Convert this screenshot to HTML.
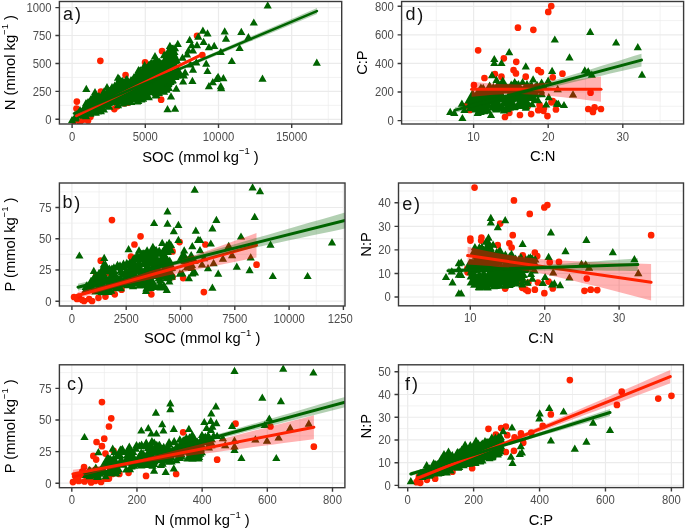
<!DOCTYPE html>
<html><head><meta charset="utf-8"><style>
html,body{margin:0;padding:0;background:#fff;width:685px;height:530px;overflow:hidden}
svg{display:block;filter:blur(0.35px)}
</style></head><body>
<svg width="685" height="530" viewBox="0 0 685 530" font-family='"Liberation Sans", sans-serif'><clipPath id="clipL"><rect x="0" y="0" width="352.8" height="530"/></clipPath>
<g fill="#4D4D4D" font-size="11.3">
<clipPath id="clipa"><rect x="59.4" y="1.5" width="282.3" height="122.5"/></clipPath>
<rect x="59.4" y="1.5" width="282.3" height="122.5" fill="#fff"/>
<path d="M108.7 1.5V124M181.9 1.5V124M255.1 1.5V124M328.3 1.5V124M59.4 105.34H341.7M59.4 77.41H341.7M59.4 49.49H341.7M59.4 21.56H341.7" stroke="#EDEDED" stroke-width="0.7" fill="none"/>
<path d="M72.1 1.5V124M145.3 1.5V124M218.5 1.5V124M291.7 1.5V124M59.4 119.3H341.7M59.4 91.38H341.7M59.4 63.45H341.7M59.4 35.52H341.7M59.4 7.6H341.7" stroke="#EBEBEB" stroke-width="1.2" fill="none"/>
<g clip-path="url(#clipa)">
<path fill="#FF2200" d="M97 60.8a3.35 3.35 0 1 0 6.7 0a3.35 3.35 0 1 0 -6.7 0zM73.5 101.6a3.35 3.35 0 1 0 6.7 0a3.35 3.35 0 1 0 -6.7 0zM97.6 91.5a3.35 3.35 0 1 0 6.7 0a3.35 3.35 0 1 0 -6.7 0zM122.2 75a3.35 3.35 0 1 0 6.7 0a3.35 3.35 0 1 0 -6.7 0zM157.8 99.7a3.35 3.35 0 1 0 6.7 0a3.35 3.35 0 1 0 -6.7 0zM158.7 51a3.35 3.35 0 1 0 6.7 0a3.35 3.35 0 1 0 -6.7 0zM141.7 62.3a3.35 3.35 0 1 0 6.7 0a3.35 3.35 0 1 0 -6.7 0zM193.7 35.8a3.35 3.35 0 1 0 6.7 0a3.35 3.35 0 1 0 -6.7 0zM199 55a3.35 3.35 0 1 0 6.7 0a3.35 3.35 0 1 0 -6.7 0zM80.1 119.6a3.35 3.35 0 1 0 6.7 0a3.35 3.35 0 1 0 -6.7 0zM87.1 116.7a3.35 3.35 0 1 0 6.7 0a3.35 3.35 0 1 0 -6.7 0zM111 109.1a3.35 3.35 0 1 0 6.7 0a3.35 3.35 0 1 0 -6.7 0zM113.9 106.2a3.35 3.35 0 1 0 6.7 0a3.35 3.35 0 1 0 -6.7 0zM120.9 103.3a3.35 3.35 0 1 0 6.7 0a3.35 3.35 0 1 0 -6.7 0zM124.4 102.7a3.35 3.35 0 1 0 6.7 0a3.35 3.35 0 1 0 -6.7 0zM73.1 108.5a3.35 3.35 0 1 0 6.7 0a3.35 3.35 0 1 0 -6.7 0zM70.7 121a3.35 3.35 0 1 0 6.7 0a3.35 3.35 0 1 0 -6.7 0zM76.7 122a3.35 3.35 0 1 0 6.7 0a3.35 3.35 0 1 0 -6.7 0zM84.7 120.5a3.35 3.35 0 1 0 6.7 0a3.35 3.35 0 1 0 -6.7 0z"/>
<path fill="#006400"  d="M77 116.9L83.7 115.7L90.6 112.7L98.8 110.7L105.5 108.8L112.6 105.7L120.4 104L127.5 103.6L129.4 100.8L138.7 99.6L144.5 96.7L153.7 94.7L161.3 91.8L168.1 88.9L172.1 86.9L173.7 80.6L176.6 73.8L177.4 66.5L175.6 61.2L173.7 51.5L172.3 48.6L168.5 53.8L158.6 65.4L155.3 60.6L153.6 63.5L146.6 65.1L141.9 69L136.9 76.9L128.5 79.3L121.1 82.2L119.6 80.8L118.7 82.6L113.9 87.5L109 87.5L99.2 98.6L96 95.3L94.5 98L89.1 102.2L83.5 108.9Z"/>
<path fill="#006400" d="M202.9 26.6l4.1 7.2h-8.2zM207.5 29.2l4.1 7.2h-8.2zM224.7 27.2l4.1 7.2h-8.2zM226 34.5l4.1 7.2h-8.2zM189.7 35.8l4.1 7.2h-8.2zM177.8 39.8l4.1 7.2h-8.2zM169.9 41.8l4.1 7.2h-8.2zM198.3 32.5l4.1 7.2h-8.2zM191.7 41.1l4.1 7.2h-8.2zM197 41.1l4.1 7.2h-8.2zM203.6 37.8l4.1 7.2h-8.2zM208.9 43.1l4.1 7.2h-8.2zM214.2 41.8l4.1 7.2h-8.2zM220.8 47.7l4.1 7.2h-8.2zM173.2 44.4l4.1 7.2h-8.2zM167.9 47.7l4.1 7.2h-8.2zM174.5 47.7l4.1 7.2h-8.2zM188.4 46.4l4.1 7.2h-8.2zM193 46.4l4.1 7.2h-8.2zM187.1 50.3l4.1 7.2h-8.2zM182.5 53.6l4.1 7.2h-8.2zM164 51l4.1 7.2h-8.2zM165.3 55.6l4.1 7.2h-8.2zM170.6 56.3l4.1 7.2h-8.2zM175.8 53.6l4.1 7.2h-8.2zM206.2 59.6l4.1 7.2h-8.2zM207.5 66.9l4.1 7.2h-8.2zM193 65.5l4.1 7.2h-8.2zM192.4 76.8l4.1 7.2h-8.2zM183.1 77.4l4.1 7.2h-8.2zM177.2 71.5l4.1 7.2h-8.2zM170.6 66.2l4.1 7.2h-8.2zM165.3 62.2l4.1 7.2h-8.2zM162 59.6l4.1 7.2h-8.2zM175.8 61.6l4.1 7.2h-8.2zM179.8 68.8l4.1 7.2h-8.2zM185.1 68.2l4.1 7.2h-8.2zM190.4 60.2l4.1 7.2h-8.2zM196.3 58.3l4.1 7.2h-8.2zM212.8 78.1l4.1 7.2h-8.2zM218.1 72.8l4.1 7.2h-8.2zM223.4 74.1l4.1 7.2h-8.2zM208.9 82l4.1 7.2h-8.2zM220.8 82l4.1 7.2h-8.2zM176.3 84.6l4.1 7.2h-8.2zM171 92.2l4.1 7.2h-8.2zM167.5 105l4.1 7.2h-8.2zM175.1 104.5l4.1 7.2h-8.2zM221.2 84l4.1 7.2h-8.2zM216.6 74.7l4.1 7.2h-8.2zM183.9 71.2l4.1 7.2h-8.2zM179.2 70l4.1 7.2h-8.2zM267.7 1.2l4.1 7.2h-8.2zM253.8 18.4l4.1 7.2h-8.2zM316.8 58.5l4.1 7.2h-8.2zM262.5 74.6l4.1 7.2h-8.2zM241.3 27.8l4.1 7.2h-8.2zM248.4 33l4.1 7.2h-8.2zM239.6 43.9l4.1 7.2h-8.2zM231.8 56.9l4.1 7.2h-8.2zM86.3 84.7l4.1 7.2h-8.2zM123.9 83.7l4.1 7.2h-8.2zM160.1 65.2l4.1 7.2h-8.2zM103.9 94.5l4.1 7.2h-8.2zM140 66.5l4.1 7.2h-8.2zM150.8 63.3l4.1 7.2h-8.2zM149 60.4l4.1 7.2h-8.2zM145.9 91l4.1 7.2h-8.2zM139.3 72l4.1 7.2h-8.2zM177 69l4.1 7.2h-8.2zM172 52.4l4.1 7.2h-8.2zM165 76.6l4.1 7.2h-8.2zM151.9 58.7l4.1 7.2h-8.2zM90.8 106.1l4.1 7.2h-8.2zM150.4 81.7l4.1 7.2h-8.2zM140.7 87.7l4.1 7.2h-8.2zM83.1 105.3l4.1 7.2h-8.2zM141.8 88.4l4.1 7.2h-8.2zM102.7 94.6l4.1 7.2h-8.2zM173.5 54.1l4.1 7.2h-8.2zM175.5 72.7l4.1 7.2h-8.2zM156.8 78.6l4.1 7.2h-8.2zM98 100.3l4.1 7.2h-8.2zM108.6 88.1l4.1 7.2h-8.2zM90.6 104.4l4.1 7.2h-8.2zM131.4 80.6l4.1 7.2h-8.2zM108 86.8l4.1 7.2h-8.2zM161.2 85.8l4.1 7.2h-8.2zM117.8 87.9l4.1 7.2h-8.2zM172.1 44.5l4.1 7.2h-8.2zM137.8 70.7l4.1 7.2h-8.2zM75.7 113.3l4.1 7.2h-8.2zM173 71.5l4.1 7.2h-8.2zM109.3 102.5l4.1 7.2h-8.2zM170.3 58.4l4.1 7.2h-8.2zM146.9 87l4.1 7.2h-8.2zM160.5 81.4l4.1 7.2h-8.2zM95.8 105l4.1 7.2h-8.2zM90.1 105.8l4.1 7.2h-8.2zM170.2 51.3l4.1 7.2h-8.2zM122.8 89l4.1 7.2h-8.2zM127.9 81.8l4.1 7.2h-8.2zM148.3 70.2l4.1 7.2h-8.2zM176.4 55.4l4.1 7.2h-8.2zM163.3 69.9l4.1 7.2h-8.2zM119 79l4.1 7.2h-8.2zM115.5 97.3l4.1 7.2h-8.2zM92.1 102.9l4.1 7.2h-8.2zM156.4 59.7l4.1 7.2h-8.2zM105.4 92.9l4.1 7.2h-8.2zM140.6 66.6l4.1 7.2h-8.2zM174.3 59.4l4.1 7.2h-8.2zM127.5 88.6l4.1 7.2h-8.2zM146.6 78.1l4.1 7.2h-8.2zM169.7 51.8l4.1 7.2h-8.2zM151.3 70.4l4.1 7.2h-8.2zM172.5 58.3l4.1 7.2h-8.2zM137.3 85.1l4.1 7.2h-8.2zM168.4 53.9l4.1 7.2h-8.2zM126.4 85.5l4.1 7.2h-8.2zM122.8 77.1l4.1 7.2h-8.2zM176.7 64.1l4.1 7.2h-8.2zM100.9 107.1l4.1 7.2h-8.2zM162.9 61.2l4.1 7.2h-8.2zM162.9 69.3l4.1 7.2h-8.2zM169.8 53.9l4.1 7.2h-8.2zM139.7 76.6l4.1 7.2h-8.2zM121.1 79.1l4.1 7.2h-8.2zM151.8 72.5l4.1 7.2h-8.2zM162.2 76.9l4.1 7.2h-8.2zM160.2 71.4l4.1 7.2h-8.2zM157.8 72.5l4.1 7.2h-8.2zM103.4 98.3l4.1 7.2h-8.2zM82 111.2l4.1 7.2h-8.2zM164 56.8l4.1 7.2h-8.2zM115.7 96.4l4.1 7.2h-8.2zM120.7 94.3l4.1 7.2h-8.2zM174.9 56.7l4.1 7.2h-8.2zM162.1 65l4.1 7.2h-8.2zM148.1 85.8l4.1 7.2h-8.2zM125.5 80.4l4.1 7.2h-8.2zM141.3 95.3l4.1 7.2h-8.2zM113.7 91l4.1 7.2h-8.2zM159.1 86.9l4.1 7.2h-8.2zM167.1 59l4.1 7.2h-8.2zM116.7 86.8l4.1 7.2h-8.2zM132.7 82.1l4.1 7.2h-8.2zM153.4 71.4l4.1 7.2h-8.2zM123.1 90.2l4.1 7.2h-8.2zM127 98.4l4.1 7.2h-8.2zM163.4 58.4l4.1 7.2h-8.2zM163 84.2l4.1 7.2h-8.2zM161.4 82l4.1 7.2h-8.2zM103.4 89.4l4.1 7.2h-8.2zM143.1 94.5l4.1 7.2h-8.2zM88.7 107.2l4.1 7.2h-8.2zM169.6 52.5l4.1 7.2h-8.2zM77.6 111.6l4.1 7.2h-8.2zM131.1 97.8l4.1 7.2h-8.2zM138 94.3l4.1 7.2h-8.2zM96.8 95.2l4.1 7.2h-8.2zM169.4 52.2l4.1 7.2h-8.2zM155.7 89.1l4.1 7.2h-8.2zM168.8 51.4l4.1 7.2h-8.2zM122.5 84.1l4.1 7.2h-8.2zM120.2 86l4.1 7.2h-8.2zM101.8 97.7l4.1 7.2h-8.2zM98.5 99.4l4.1 7.2h-8.2zM115.9 88l4.1 7.2h-8.2zM88 97.9l4.1 7.2h-8.2zM123.8 90.9l4.1 7.2h-8.2zM131 76.1l4.1 7.2h-8.2zM173.8 47.2l4.1 7.2h-8.2zM112.5 90.1l4.1 7.2h-8.2zM153.4 60.4l4.1 7.2h-8.2zM103.9 87.4l4.1 7.2h-8.2zM110 86.8l4.1 7.2h-8.2zM138.2 96.7l4.1 7.2h-8.2zM93.6 92.5l4.1 7.2h-8.2zM172.6 70.2l4.1 7.2h-8.2zM160.2 66.2l4.1 7.2h-8.2zM150.7 62.1l4.1 7.2h-8.2zM136 81.2l4.1 7.2h-8.2zM128.6 83.3l4.1 7.2h-8.2zM139.4 82.6l4.1 7.2h-8.2zM112.6 90.1l4.1 7.2h-8.2zM134.1 89.1l4.1 7.2h-8.2zM158.5 72.1l4.1 7.2h-8.2zM93 99.6l4.1 7.2h-8.2zM166.2 84.6l4.1 7.2h-8.2zM96.6 107l4.1 7.2h-8.2zM102.6 91.8l4.1 7.2h-8.2zM158.5 65.5l4.1 7.2h-8.2zM131.3 82.9l4.1 7.2h-8.2zM79.6 108.3l4.1 7.2h-8.2zM172 76.6l4.1 7.2h-8.2zM144.7 82.9l4.1 7.2h-8.2zM127 96.2l4.1 7.2h-8.2zM145.1 62.7l4.1 7.2h-8.2zM165.7 57.2l4.1 7.2h-8.2zM153.2 62.1l4.1 7.2h-8.2zM114.2 94.2l4.1 7.2h-8.2zM126.1 82.4l4.1 7.2h-8.2zM93.4 98l4.1 7.2h-8.2zM171.6 51.4l4.1 7.2h-8.2zM157.5 67.5l4.1 7.2h-8.2zM164.6 65.4l4.1 7.2h-8.2zM102.8 97.6l4.1 7.2h-8.2zM119.2 84.2l4.1 7.2h-8.2zM165 73.3l4.1 7.2h-8.2zM163.3 73l4.1 7.2h-8.2zM95.1 92.4l4.1 7.2h-8.2zM101 94.4l4.1 7.2h-8.2zM158.9 88.8l4.1 7.2h-8.2zM155.7 71.4l4.1 7.2h-8.2zM140.2 87l4.1 7.2h-8.2zM148.8 93l4.1 7.2h-8.2zM145.5 67.4l4.1 7.2h-8.2zM146.2 66.3l4.1 7.2h-8.2zM96.7 103.6l4.1 7.2h-8.2zM158.9 64.3l4.1 7.2h-8.2zM168.7 50.2l4.1 7.2h-8.2zM119.5 75l4.1 7.2h-8.2zM86.8 108.1l4.1 7.2h-8.2zM137.2 69.7l4.1 7.2h-8.2zM137.1 97.4l4.1 7.2h-8.2zM148.9 84.7l4.1 7.2h-8.2zM160.9 81.3l4.1 7.2h-8.2zM135.1 82.9l4.1 7.2h-8.2zM152 74.1l4.1 7.2h-8.2zM166.2 67.5l4.1 7.2h-8.2zM174 51.3l4.1 7.2h-8.2zM97.9 107.2l4.1 7.2h-8.2zM161.5 67.1l4.1 7.2h-8.2zM144.9 82l4.1 7.2h-8.2zM150 81.7l4.1 7.2h-8.2zM142.3 90.2l4.1 7.2h-8.2zM133.2 91.3l4.1 7.2h-8.2zM172.2 65.8l4.1 7.2h-8.2zM170.6 77.8l4.1 7.2h-8.2zM155.5 61.6l4.1 7.2h-8.2zM168.5 47.4l4.1 7.2h-8.2zM95.7 93.3l4.1 7.2h-8.2zM149.5 78.6l4.1 7.2h-8.2zM138.7 70.3l4.1 7.2h-8.2zM150.7 84.1l4.1 7.2h-8.2zM86.5 101.1l4.1 7.2h-8.2zM161.7 83l4.1 7.2h-8.2zM125.6 93l4.1 7.2h-8.2zM87.2 107.2l4.1 7.2h-8.2zM123 99.2l4.1 7.2h-8.2zM145.4 84.8l4.1 7.2h-8.2zM161.8 75.6l4.1 7.2h-8.2zM129.2 84.2l4.1 7.2h-8.2zM118.4 80.4l4.1 7.2h-8.2zM163.5 74.7l4.1 7.2h-8.2zM121.8 96.1l4.1 7.2h-8.2zM144.9 70.6l4.1 7.2h-8.2zM100.9 100.3l4.1 7.2h-8.2zM99.9 95.7l4.1 7.2h-8.2zM144.5 83.5l4.1 7.2h-8.2zM114.9 90l4.1 7.2h-8.2zM117.5 92.9l4.1 7.2h-8.2zM139.5 90l4.1 7.2h-8.2zM156.2 68l4.1 7.2h-8.2zM117.2 95.3l4.1 7.2h-8.2zM172.6 51.9l4.1 7.2h-8.2zM156.9 73.1l4.1 7.2h-8.2zM161 78.6l4.1 7.2h-8.2zM95.9 91.9l4.1 7.2h-8.2zM126.8 97l4.1 7.2h-8.2zM171.7 61l4.1 7.2h-8.2zM135.7 94l4.1 7.2h-8.2zM167.7 51.1l4.1 7.2h-8.2zM169.1 68.5l4.1 7.2h-8.2zM164.1 71.3l4.1 7.2h-8.2zM153.7 72.2l4.1 7.2h-8.2zM160.8 60.4l4.1 7.2h-8.2zM155.1 56.7l4.1 7.2h-8.2zM176.9 56.2l4.1 7.2h-8.2zM75.3 112.4l4.1 7.2h-8.2zM106.7 99.9l4.1 7.2h-8.2zM159.8 70.8l4.1 7.2h-8.2zM135.2 85.9l4.1 7.2h-8.2zM116.1 94.2l4.1 7.2h-8.2zM126 75.8l4.1 7.2h-8.2zM162.3 62.5l4.1 7.2h-8.2zM144.7 64.3l4.1 7.2h-8.2zM139.3 69.8l4.1 7.2h-8.2zM118 101.1l4.1 7.2h-8.2zM130.7 83.3l4.1 7.2h-8.2zM90 108l4.1 7.2h-8.2zM149.1 60.8l4.1 7.2h-8.2zM93.8 98.9l4.1 7.2h-8.2zM125.5 87.9l4.1 7.2h-8.2zM173.9 55l4.1 7.2h-8.2zM90.4 102.3l4.1 7.2h-8.2zM165.2 71.4l4.1 7.2h-8.2zM164.6 66.9l4.1 7.2h-8.2zM143.8 91.3l4.1 7.2h-8.2zM133 76l4.1 7.2h-8.2zM159.4 57.7l4.1 7.2h-8.2zM115.3 83.2l4.1 7.2h-8.2zM137.4 85.5l4.1 7.2h-8.2zM150 68.7l4.1 7.2h-8.2zM159.3 84.3l4.1 7.2h-8.2zM167.2 73.6l4.1 7.2h-8.2zM116.6 80.8l4.1 7.2h-8.2zM158.5 80.4l4.1 7.2h-8.2zM118 89.3l4.1 7.2h-8.2zM95.8 108.5l4.1 7.2h-8.2zM134.2 92.7l4.1 7.2h-8.2zM98.6 105.5l4.1 7.2h-8.2zM82 107.9l4.1 7.2h-8.2zM153.4 83.6l4.1 7.2h-8.2zM120.2 76.5l4.1 7.2h-8.2zM151.4 61.8l4.1 7.2h-8.2zM171.7 48.6l4.1 7.2h-8.2zM106.1 100l4.1 7.2h-8.2zM96.3 91l4.1 7.2h-8.2zM154.1 74.1l4.1 7.2h-8.2zM114.8 95l4.1 7.2h-8.2zM156.3 90.8l4.1 7.2h-8.2zM149.9 76.1l4.1 7.2h-8.2zM113.4 91.4l4.1 7.2h-8.2zM85 106.9l4.1 7.2h-8.2zM150.5 82.5l4.1 7.2h-8.2zM163 83.6l4.1 7.2h-8.2zM173 65.6l4.1 7.2h-8.2zM140.7 95.1l4.1 7.2h-8.2zM168.3 76.6l4.1 7.2h-8.2zM141 79.9l4.1 7.2h-8.2zM172.8 76l4.1 7.2h-8.2zM174.7 51.8l4.1 7.2h-8.2zM151.5 74.3l4.1 7.2h-8.2zM117.1 84.6l4.1 7.2h-8.2zM174.2 50.3l4.1 7.2h-8.2zM131.1 94.7l4.1 7.2h-8.2zM163.1 68.9l4.1 7.2h-8.2zM164.1 87.5l4.1 7.2h-8.2zM119 88.3l4.1 7.2h-8.2zM159.3 77l4.1 7.2h-8.2zM103.5 100.7l4.1 7.2h-8.2zM156.5 74.3l4.1 7.2h-8.2zM166.8 55.5l4.1 7.2h-8.2zM168.9 83.9l4.1 7.2h-8.2zM101.9 96.6l4.1 7.2h-8.2zM175.4 70l4.1 7.2h-8.2zM141.7 74.3l4.1 7.2h-8.2zM103.9 105.4l4.1 7.2h-8.2zM159.3 70.7l4.1 7.2h-8.2zM166.3 85.6l4.1 7.2h-8.2zM176.5 56.4l4.1 7.2h-8.2zM98.7 105.5l4.1 7.2h-8.2zM142.9 85.7l4.1 7.2h-8.2zM146.9 91.1l4.1 7.2h-8.2zM96.2 104.8l4.1 7.2h-8.2zM172 50.6l4.1 7.2h-8.2zM114.5 86.9l4.1 7.2h-8.2zM156.1 80l4.1 7.2h-8.2zM136.3 72l4.1 7.2h-8.2zM148.9 63.1l4.1 7.2h-8.2zM86 112l4.1 7.2h-8.2zM114.7 81.5l4.1 7.2h-8.2zM140.3 66.5l4.1 7.2h-8.2zM88.4 104.4l4.1 7.2h-8.2zM119.6 96.4l4.1 7.2h-8.2zM133.8 83.1l4.1 7.2h-8.2zM170.6 61.2l4.1 7.2h-8.2zM156.8 56.8l4.1 7.2h-8.2zM156.3 63.6l4.1 7.2h-8.2zM122.8 82.5l4.1 7.2h-8.2zM160.8 59.2l4.1 7.2h-8.2zM155.6 91.2l4.1 7.2h-8.2zM97.4 98.8l4.1 7.2h-8.2zM137.3 73.9l4.1 7.2h-8.2zM132.3 94.3l4.1 7.2h-8.2zM90.4 109.5l4.1 7.2h-8.2zM153.2 72.4l4.1 7.2h-8.2zM137.8 75.5l4.1 7.2h-8.2zM168.8 58.1l4.1 7.2h-8.2zM154.4 57.7l4.1 7.2h-8.2zM95.2 90.4l4.1 7.2h-8.2zM75.1 114.2l4.1 7.2h-8.2zM138.5 83.8l4.1 7.2h-8.2zM128.3 82.5l4.1 7.2h-8.2zM124.6 95.9l4.1 7.2h-8.2zM155.5 82.7l4.1 7.2h-8.2zM148 69.5l4.1 7.2h-8.2zM90.3 96l4.1 7.2h-8.2zM140 79.4l4.1 7.2h-8.2zM72 116l4.1 7.2h-8.2zM80 106l4.1 7.2h-8.2zM86 99l4.1 7.2h-8.2zM95 88l4.1 7.2h-8.2zM107 83l4.1 7.2h-8.2zM112 83l4.1 7.2h-8.2zM118 73.5l4.1 7.2h-8.2zM127 75l4.1 7.2h-8.2zM134 73l4.1 7.2h-8.2zM138.5 66l4.1 7.2h-8.2zM144.6 61l4.1 7.2h-8.2zM150.7 59.6l4.1 7.2h-8.2zM155 52l4.1 7.2h-8.2zM165 51l4.1 7.2h-8.2zM170 44l4.1 7.2h-8.2zM175 44l4.1 7.2h-8.2zM91 95l4.1 7.2h-8.2zM99 92l4.1 7.2h-8.2zM122 77l4.1 7.2h-8.2zM159 58l4.1 7.2h-8.2z"/>
<path stroke="#FF2200" stroke-width="3.2" stroke-linecap="round" d="M76.4 115.6L200.2 55.4"/>
<path fill="#006400" fill-opacity="0.3" d="M74 111.1L120 92.1L170 71.4L220 49.9L270 28.3L317 8.1L317 14L270 33.4L220 54L170 74.7L120 96.1L74 115.9Z"/>
<path stroke="#006400" stroke-width="2.5" stroke-linecap="round" d="M74 113.5L316.9 11.1"/>
</g>
<rect x="59.4" y="1.5" width="282.3" height="122.5" fill="none" stroke="#3a3a3a" stroke-width="1.4"/>
<path d="M72.1 124V128M145.3 124V128M218.5 124V128M291.7 124V128M55.4 119.3H59.4M55.4 91.38H59.4M55.4 63.45H59.4M55.4 35.52H59.4M55.4 7.6H59.4" stroke="#3a3a3a" stroke-width="1.4" fill="none"/>
<g><text transform="translate(72.1 140.6) scale(1 1.1)" text-anchor="middle">0</text></g>
<g><text transform="translate(145.3 140.6) scale(1 1.1)" text-anchor="middle">5000</text></g>
<g><text transform="translate(218.5 140.6) scale(1 1.1)" text-anchor="middle">10000</text></g>
<g><text transform="translate(291.7 140.6) scale(1 1.1)" text-anchor="middle">15000</text></g>
<text transform="translate(51.6 123.7) scale(1 1.1)" text-anchor="end">0</text>
<text transform="translate(51.6 95.78) scale(1 1.1)" text-anchor="end">250</text>
<text transform="translate(51.6 67.85) scale(1 1.1)" text-anchor="end">500</text>
<text transform="translate(51.6 39.92) scale(1 1.1)" text-anchor="end">750</text>
<text transform="translate(51.6 12) scale(1 1.1)" text-anchor="end">1000</text>
<clipPath id="clipd"><rect x="401.6" y="1.5" width="282" height="122.5"/></clipPath>
<rect x="401.6" y="1.5" width="282" height="122.5" fill="#fff"/>
<path d="M436.3 1.5V124M510.9 1.5V124M585.5 1.5V124M660.1 1.5V124M401.6 106.31H683.6M401.6 77.74H683.6M401.6 49.16H683.6M401.6 20.59H683.6" stroke="#EDEDED" stroke-width="0.7" fill="none"/>
<path d="M473.6 1.5V124M548.2 1.5V124M622.8 1.5V124M401.6 120.6H683.6M401.6 92.02H683.6M401.6 63.45H683.6M401.6 34.88H683.6M401.6 6.3H683.6" stroke="#EBEBEB" stroke-width="1.2" fill="none"/>
<g clip-path="url(#clipd)">
<path fill="#FF2200" d="M547.9 6.1a3.35 3.35 0 1 0 6.7 0a3.35 3.35 0 1 0 -6.7 0zM544.9 11.9a3.35 3.35 0 1 0 6.7 0a3.35 3.35 0 1 0 -6.7 0zM514.6 27.7a3.35 3.35 0 1 0 6.7 0a3.35 3.35 0 1 0 -6.7 0zM530 29.8a3.35 3.35 0 1 0 6.7 0a3.35 3.35 0 1 0 -6.7 0zM474.8 50.3a3.35 3.35 0 1 0 6.7 0a3.35 3.35 0 1 0 -6.7 0zM500.5 58.3a3.35 3.35 0 1 0 6.7 0a3.35 3.35 0 1 0 -6.7 0zM512.9 61.8a3.35 3.35 0 1 0 6.7 0a3.35 3.35 0 1 0 -6.7 0zM510.2 70a3.35 3.35 0 1 0 6.7 0a3.35 3.35 0 1 0 -6.7 0zM534.8 70a3.35 3.35 0 1 0 6.7 0a3.35 3.35 0 1 0 -6.7 0zM512.6 73.4a3.35 3.35 0 1 0 6.7 0a3.35 3.35 0 1 0 -6.7 0zM537.6 72.1a3.35 3.35 0 1 0 6.7 0a3.35 3.35 0 1 0 -6.7 0zM481.1 78a3.35 3.35 0 1 0 6.7 0a3.35 3.35 0 1 0 -6.7 0zM498.1 76.7a3.35 3.35 0 1 0 6.7 0a3.35 3.35 0 1 0 -6.7 0zM522.4 76.7a3.35 3.35 0 1 0 6.7 0a3.35 3.35 0 1 0 -6.7 0zM549.4 77.3a3.35 3.35 0 1 0 6.7 0a3.35 3.35 0 1 0 -6.7 0zM470.6 85.2a3.35 3.35 0 1 0 6.7 0a3.35 3.35 0 1 0 -6.7 0zM506 112.8a3.35 3.35 0 1 0 6.7 0a3.35 3.35 0 1 0 -6.7 0zM527.8 114.1a3.35 3.35 0 1 0 6.7 0a3.35 3.35 0 1 0 -6.7 0zM544.1 116.1a3.35 3.35 0 1 0 6.7 0a3.35 3.35 0 1 0 -6.7 0zM552.6 109.5a3.35 3.35 0 1 0 6.7 0a3.35 3.35 0 1 0 -6.7 0zM534.9 110.2a3.35 3.35 0 1 0 6.7 0a3.35 3.35 0 1 0 -6.7 0zM536.2 104.9a3.35 3.35 0 1 0 6.7 0a3.35 3.35 0 1 0 -6.7 0zM548.1 102.3a3.35 3.35 0 1 0 6.7 0a3.35 3.35 0 1 0 -6.7 0zM531 94.4a3.35 3.35 0 1 0 6.7 0a3.35 3.35 0 1 0 -6.7 0zM524.4 106.2a3.35 3.35 0 1 0 6.7 0a3.35 3.35 0 1 0 -6.7 0zM468.2 103.6a3.35 3.35 0 1 0 6.7 0a3.35 3.35 0 1 0 -6.7 0zM491.6 74a3.35 3.35 0 1 0 6.7 0a3.35 3.35 0 1 0 -6.7 0zM559.1 73.7a3.35 3.35 0 1 0 6.7 0a3.35 3.35 0 1 0 -6.7 0zM587.2 92.7a3.35 3.35 0 1 0 6.7 0a3.35 3.35 0 1 0 -6.7 0zM591.2 107.4a3.35 3.35 0 1 0 6.7 0a3.35 3.35 0 1 0 -6.7 0zM584.9 109a3.35 3.35 0 1 0 6.7 0a3.35 3.35 0 1 0 -6.7 0zM597.6 109a3.35 3.35 0 1 0 6.7 0a3.35 3.35 0 1 0 -6.7 0zM549.4 101a3.35 3.35 0 1 0 6.7 0a3.35 3.35 0 1 0 -6.7 0zM540.6 108.3a3.35 3.35 0 1 0 6.7 0a3.35 3.35 0 1 0 -6.7 0zM589.6 112a3.35 3.35 0 1 0 6.7 0a3.35 3.35 0 1 0 -6.7 0zM540.1 110.8a3.35 3.35 0 1 0 6.7 0a3.35 3.35 0 1 0 -6.7 0zM462.6 106a3.35 3.35 0 1 0 6.7 0a3.35 3.35 0 1 0 -6.7 0zM466.6 110a3.35 3.35 0 1 0 6.7 0a3.35 3.35 0 1 0 -6.7 0zM516.6 115a3.35 3.35 0 1 0 6.7 0a3.35 3.35 0 1 0 -6.7 0zM501.6 117a3.35 3.35 0 1 0 6.7 0a3.35 3.35 0 1 0 -6.7 0z"/>
<path fill="#006400" d="M450.2 107.8l4.1 7.2h-8.2zM454.3 108.8l4.1 7.2h-8.2zM461.9 99.6l4.1 7.2h-8.2zM462.4 113.9l4.1 7.2h-8.2zM464.4 105.7l4.1 7.2h-8.2zM477.7 108.8l4.1 7.2h-8.2zM491 110.8l4.1 7.2h-8.2zM492 71.1l4.1 7.2h-8.2zM496.5 75.7l4.1 7.2h-8.2zM471.6 91l4.1 7.2h-8.2zM494.3 54.9l4.1 7.2h-8.2zM494.3 58.9l4.1 7.2h-8.2zM501.5 58.9l4.1 7.2h-8.2zM525.8 62.2l4.1 7.2h-8.2zM552.1 66.8l4.1 7.2h-8.2zM502.8 76.6l4.1 7.2h-8.2zM514.7 77.9l4.1 7.2h-8.2zM522.6 77.9l4.1 7.2h-8.2zM533.1 75.3l4.1 7.2h-8.2zM541.6 78.6l4.1 7.2h-8.2zM548.2 76.6l4.1 7.2h-8.2zM472.6 89.1l4.1 7.2h-8.2zM548.8 93l4.1 7.2h-8.2zM556.7 99.6l4.1 7.2h-8.2zM546.2 100.3l4.1 7.2h-8.2zM535 95.7l4.1 7.2h-8.2zM523.9 94.4l4.1 7.2h-8.2zM525.8 103.6l4.1 7.2h-8.2zM554.8 35.4l4.1 7.2h-8.2zM509.2 48l4.1 7.2h-8.2zM590.2 27.8l4.1 7.2h-8.2zM616.1 38.4l4.1 7.2h-8.2zM637.8 43.1l4.1 7.2h-8.2zM569.5 53.3l4.1 7.2h-8.2zM642 70.5l4.1 7.2h-8.2zM584.8 66.2l4.1 7.2h-8.2zM591.8 70.5l4.1 7.2h-8.2zM588.2 67.3l4.1 7.2h-8.2zM557.7 85.1l4.1 7.2h-8.2zM573 90.3l4.1 7.2h-8.2zM558.4 99.7l4.1 7.2h-8.2zM564 100.9l4.1 7.2h-8.2zM470 100l4.1 7.2h-8.2zM476 97l4.1 7.2h-8.2zM484 96l4.1 7.2h-8.2zM492 95l4.1 7.2h-8.2zM500 95l4.1 7.2h-8.2zM508 94l4.1 7.2h-8.2zM516 94l4.1 7.2h-8.2zM470 104l4.1 7.2h-8.2zM480 102l4.1 7.2h-8.2zM488 100l4.1 7.2h-8.2zM496 99l4.1 7.2h-8.2zM504 98l4.1 7.2h-8.2zM512 98l4.1 7.2h-8.2zM520 99l4.1 7.2h-8.2zM484 107l4.1 7.2h-8.2zM496 105l4.1 7.2h-8.2zM506 104l4.1 7.2h-8.2zM514 103l4.1 7.2h-8.2zM526 102l4.1 7.2h-8.2zM532 100l4.1 7.2h-8.2zM538 96l4.1 7.2h-8.2zM482.9 93.1l4.1 7.2h-8.2zM475.9 104l4.1 7.2h-8.2zM481.9 94.8l4.1 7.2h-8.2zM541.7 89.6l4.1 7.2h-8.2zM509.1 97.4l4.1 7.2h-8.2zM512.4 88.3l4.1 7.2h-8.2zM503.1 103.7l4.1 7.2h-8.2zM477.3 97l4.1 7.2h-8.2zM493.6 102.8l4.1 7.2h-8.2zM478.6 101.9l4.1 7.2h-8.2zM499.7 104.5l4.1 7.2h-8.2zM512.9 82l4.1 7.2h-8.2zM497.7 82.9l4.1 7.2h-8.2zM477.4 88.2l4.1 7.2h-8.2zM500.7 80l4.1 7.2h-8.2zM527.6 98.2l4.1 7.2h-8.2zM508.4 93.8l4.1 7.2h-8.2zM469.5 95.9l4.1 7.2h-8.2zM511.9 95.1l4.1 7.2h-8.2zM535.8 83.7l4.1 7.2h-8.2zM524.7 96l4.1 7.2h-8.2zM508.1 96.3l4.1 7.2h-8.2zM538.2 86.1l4.1 7.2h-8.2zM503.4 81l4.1 7.2h-8.2zM517 90.4l4.1 7.2h-8.2zM520.3 100.7l4.1 7.2h-8.2zM509.9 93.1l4.1 7.2h-8.2zM522.5 98.8l4.1 7.2h-8.2zM524.6 92.3l4.1 7.2h-8.2zM486 102.6l4.1 7.2h-8.2zM496.6 105.2l4.1 7.2h-8.2zM495.2 86.9l4.1 7.2h-8.2zM511.1 98.3l4.1 7.2h-8.2zM521 94.8l4.1 7.2h-8.2zM497.2 101.3l4.1 7.2h-8.2zM489.9 96.7l4.1 7.2h-8.2zM536.6 83.4l4.1 7.2h-8.2zM527.8 87.2l4.1 7.2h-8.2zM508 102.7l4.1 7.2h-8.2zM474.2 104.1l4.1 7.2h-8.2zM485.6 101.1l4.1 7.2h-8.2zM499.4 100.9l4.1 7.2h-8.2zM510.8 97.9l4.1 7.2h-8.2zM514.9 102.2l4.1 7.2h-8.2zM475.7 105.3l4.1 7.2h-8.2zM512 97.7l4.1 7.2h-8.2zM475.3 93.8l4.1 7.2h-8.2zM497.2 83l4.1 7.2h-8.2zM505.6 95.3l4.1 7.2h-8.2zM513.9 93.5l4.1 7.2h-8.2zM492.6 103.1l4.1 7.2h-8.2zM531.2 82.6l4.1 7.2h-8.2zM502.6 103.5l4.1 7.2h-8.2zM507.2 102.7l4.1 7.2h-8.2zM478 92.2l4.1 7.2h-8.2zM527.4 99.2l4.1 7.2h-8.2zM510 89.1l4.1 7.2h-8.2zM497.4 99.1l4.1 7.2h-8.2zM499.6 87.3l4.1 7.2h-8.2zM478.4 107.3l4.1 7.2h-8.2zM511.7 102l4.1 7.2h-8.2zM504 106.3l4.1 7.2h-8.2zM505.9 81.8l4.1 7.2h-8.2zM505 98.8l4.1 7.2h-8.2zM526.3 86.2l4.1 7.2h-8.2zM514.6 93.1l4.1 7.2h-8.2zM527.2 80.2l4.1 7.2h-8.2zM477.1 100.4l4.1 7.2h-8.2zM524.3 83.8l4.1 7.2h-8.2zM517.6 91.7l4.1 7.2h-8.2zM480.6 107.8l4.1 7.2h-8.2zM479 90.8l4.1 7.2h-8.2zM496.1 98.6l4.1 7.2h-8.2zM492.4 100.9l4.1 7.2h-8.2zM474.4 99.6l4.1 7.2h-8.2zM485.6 90l4.1 7.2h-8.2zM481.9 98.6l4.1 7.2h-8.2zM481.7 102.1l4.1 7.2h-8.2zM502.5 94.8l4.1 7.2h-8.2zM485 100.7l4.1 7.2h-8.2zM535.2 82.5l4.1 7.2h-8.2zM486.2 100.5l4.1 7.2h-8.2zM535.1 89.3l4.1 7.2h-8.2zM523.6 89.5l4.1 7.2h-8.2zM497.1 97.9l4.1 7.2h-8.2zM480.9 83.5l4.1 7.2h-8.2zM511.1 85.3l4.1 7.2h-8.2zM510.2 99l4.1 7.2h-8.2zM488.4 106.6l4.1 7.2h-8.2zM504.3 86.3l4.1 7.2h-8.2zM501 85.4l4.1 7.2h-8.2zM481 107l4.1 7.2h-8.2zM526.3 87.5l4.1 7.2h-8.2zM474.1 99.6l4.1 7.2h-8.2zM493.9 94.4l4.1 7.2h-8.2zM510.8 84.3l4.1 7.2h-8.2zM490.1 87.4l4.1 7.2h-8.2zM515.9 88.6l4.1 7.2h-8.2zM526.1 93.7l4.1 7.2h-8.2zM507.4 105.1l4.1 7.2h-8.2zM507 105l4.1 7.2h-8.2zM478.9 86.8l4.1 7.2h-8.2zM483.2 83.8l4.1 7.2h-8.2zM532.2 93.8l4.1 7.2h-8.2zM509.1 83.9l4.1 7.2h-8.2zM497 91.1l4.1 7.2h-8.2zM475.9 94.8l4.1 7.2h-8.2zM528.5 87.1l4.1 7.2h-8.2zM493.4 82.8l4.1 7.2h-8.2zM482 88l4.1 7.2h-8.2zM513.8 81.6l4.1 7.2h-8.2zM509.8 103.5l4.1 7.2h-8.2zM544 82.6l4.1 7.2h-8.2zM525.5 83.8l4.1 7.2h-8.2zM502.5 91.5l4.1 7.2h-8.2zM511.8 81.9l4.1 7.2h-8.2zM526 92.7l4.1 7.2h-8.2zM514.9 89.3l4.1 7.2h-8.2zM480.6 107.7l4.1 7.2h-8.2zM483.3 86l4.1 7.2h-8.2zM487.1 104.8l4.1 7.2h-8.2zM486.7 87.2l4.1 7.2h-8.2zM497.3 85.6l4.1 7.2h-8.2zM470.4 93.7l4.1 7.2h-8.2zM469.9 100.9l4.1 7.2h-8.2zM514.5 102.6l4.1 7.2h-8.2zM485.3 92.1l4.1 7.2h-8.2zM489.6 81.4l4.1 7.2h-8.2zM495.8 92l4.1 7.2h-8.2zM532.9 83.6l4.1 7.2h-8.2zM470.7 96.6l4.1 7.2h-8.2zM536.3 90.2l4.1 7.2h-8.2zM487.1 106l4.1 7.2h-8.2zM471.6 96.1l4.1 7.2h-8.2zM496.4 92.7l4.1 7.2h-8.2zM514.4 86.4l4.1 7.2h-8.2zM522.1 85.8l4.1 7.2h-8.2zM471.4 96.5l4.1 7.2h-8.2zM497.7 80.4l4.1 7.2h-8.2zM494.1 88.3l4.1 7.2h-8.2zM500.7 88.8l4.1 7.2h-8.2zM522.4 100.2l4.1 7.2h-8.2zM495.5 103.9l4.1 7.2h-8.2zM479.6 88.2l4.1 7.2h-8.2zM519.2 94.6l4.1 7.2h-8.2zM487.3 90.3l4.1 7.2h-8.2zM513.5 90.3l4.1 7.2h-8.2zM522.9 96.4l4.1 7.2h-8.2zM529 90.7l4.1 7.2h-8.2zM479.4 93l4.1 7.2h-8.2zM518.2 91.2l4.1 7.2h-8.2zM470.5 93l4.1 7.2h-8.2zM520.9 84.6l4.1 7.2h-8.2zM526.9 80l4.1 7.2h-8.2zM481.6 93l4.1 7.2h-8.2zM510.6 91.7l4.1 7.2h-8.2zM541.6 90l4.1 7.2h-8.2zM482 89.9l4.1 7.2h-8.2zM518.2 84.7l4.1 7.2h-8.2zM498.3 102l4.1 7.2h-8.2zM468.5 96.2l4.1 7.2h-8.2zM497.3 95l4.1 7.2h-8.2zM508.9 95.6l4.1 7.2h-8.2zM510.6 82l4.1 7.2h-8.2zM508 83.3l4.1 7.2h-8.2zM502.4 85.1l4.1 7.2h-8.2zM521.2 101.7l4.1 7.2h-8.2zM484.8 94.4l4.1 7.2h-8.2zM527.3 81.5l4.1 7.2h-8.2zM523.1 86.2l4.1 7.2h-8.2zM497.2 95.4l4.1 7.2h-8.2zM520.7 92.3l4.1 7.2h-8.2zM529.9 82.3l4.1 7.2h-8.2zM531.4 86l4.1 7.2h-8.2zM475.4 95.1l4.1 7.2h-8.2zM483.8 89l4.1 7.2h-8.2zM520.6 95.2l4.1 7.2h-8.2zM521.4 96l4.1 7.2h-8.2zM500.1 86.2l4.1 7.2h-8.2zM511.2 80.5l4.1 7.2h-8.2zM482.8 91.3l4.1 7.2h-8.2zM484.2 96.5l4.1 7.2h-8.2zM477.9 92.7l4.1 7.2h-8.2zM491.9 92l4.1 7.2h-8.2zM504 85.6l4.1 7.2h-8.2zM505.3 94.3l4.1 7.2h-8.2zM494.6 90.8l4.1 7.2h-8.2zM503.8 98.6l4.1 7.2h-8.2zM479.4 91l4.1 7.2h-8.2zM480.8 94.9l4.1 7.2h-8.2zM499.1 83.5l4.1 7.2h-8.2zM486.2 94l4.1 7.2h-8.2zM490.1 92.3l4.1 7.2h-8.2zM510.7 83l4.1 7.2h-8.2zM497.3 95.2l4.1 7.2h-8.2zM531.6 81.1l4.1 7.2h-8.2zM537.7 84.3l4.1 7.2h-8.2zM518.8 101.2l4.1 7.2h-8.2zM531.8 91.9l4.1 7.2h-8.2zM499.3 94.1l4.1 7.2h-8.2zM516.8 80.8l4.1 7.2h-8.2zM528.7 90.9l4.1 7.2h-8.2zM495.3 98.3l4.1 7.2h-8.2zM485.1 90.8l4.1 7.2h-8.2zM474.4 101.7l4.1 7.2h-8.2zM498.1 103.6l4.1 7.2h-8.2zM541.1 86.3l4.1 7.2h-8.2zM518.4 80l4.1 7.2h-8.2zM537.2 81l4.1 7.2h-8.2zM493.4 84.9l4.1 7.2h-8.2zM494.2 103.1l4.1 7.2h-8.2zM476.2 90.9l4.1 7.2h-8.2zM498.3 104.3l4.1 7.2h-8.2zM499.3 89.6l4.1 7.2h-8.2zM481 95.3l4.1 7.2h-8.2zM528.9 85l4.1 7.2h-8.2zM524.4 83.8l4.1 7.2h-8.2zM481.3 88.8l4.1 7.2h-8.2zM486.5 91.7l4.1 7.2h-8.2zM518.2 99.6l4.1 7.2h-8.2z"/>
<path fill="#FF0000" fill-opacity="0.3" d="M471.6 81.6L477 82.2L482.4 82.7L487.8 83.2L493.2 83.6L498.6 83.9L504 84.2L509.3 84.3L514.7 84.4L520.1 84.4L525.5 84.2L530.9 83.9L536.3 83.6L541.7 83.2L547.1 82.7L552.5 82.2L557.9 81.7L563.3 81.1L568.6 80.5L574 79.9L579.4 79.3L584.8 78.6L590.2 78L595.6 77.3L601 76.6L601 101.8L595.6 101.1L590.2 100.4L584.8 99.8L579.4 99.1L574 98.5L568.6 97.9L563.3 97.3L557.9 96.7L552.5 96.2L547.1 95.7L541.7 95.2L536.3 94.8L530.9 94.5L525.5 94.2L520.1 94L514.7 94L509.3 94.1L504 94.2L498.6 94.5L493.2 94.8L487.8 95.2L482.4 95.7L477 96.2L471.6 96.8Z"/>
<clipPath id="tc1"><path d="M450.2 107.8l4.1 7.2h-8.2zM454.3 108.8l4.1 7.2h-8.2zM461.9 99.6l4.1 7.2h-8.2zM462.4 113.9l4.1 7.2h-8.2zM464.4 105.7l4.1 7.2h-8.2zM477.7 108.8l4.1 7.2h-8.2zM491 110.8l4.1 7.2h-8.2zM492 71.1l4.1 7.2h-8.2zM496.5 75.7l4.1 7.2h-8.2zM471.6 91l4.1 7.2h-8.2zM494.3 54.9l4.1 7.2h-8.2zM494.3 58.9l4.1 7.2h-8.2zM501.5 58.9l4.1 7.2h-8.2zM525.8 62.2l4.1 7.2h-8.2zM552.1 66.8l4.1 7.2h-8.2zM502.8 76.6l4.1 7.2h-8.2zM514.7 77.9l4.1 7.2h-8.2zM522.6 77.9l4.1 7.2h-8.2zM533.1 75.3l4.1 7.2h-8.2zM541.6 78.6l4.1 7.2h-8.2zM548.2 76.6l4.1 7.2h-8.2zM472.6 89.1l4.1 7.2h-8.2zM548.8 93l4.1 7.2h-8.2zM556.7 99.6l4.1 7.2h-8.2zM546.2 100.3l4.1 7.2h-8.2zM535 95.7l4.1 7.2h-8.2zM523.9 94.4l4.1 7.2h-8.2zM525.8 103.6l4.1 7.2h-8.2zM554.8 35.4l4.1 7.2h-8.2zM509.2 48l4.1 7.2h-8.2zM590.2 27.8l4.1 7.2h-8.2zM616.1 38.4l4.1 7.2h-8.2zM637.8 43.1l4.1 7.2h-8.2zM569.5 53.3l4.1 7.2h-8.2zM642 70.5l4.1 7.2h-8.2zM584.8 66.2l4.1 7.2h-8.2zM591.8 70.5l4.1 7.2h-8.2zM588.2 67.3l4.1 7.2h-8.2zM557.7 85.1l4.1 7.2h-8.2zM573 90.3l4.1 7.2h-8.2zM558.4 99.7l4.1 7.2h-8.2zM564 100.9l4.1 7.2h-8.2zM470 100l4.1 7.2h-8.2zM476 97l4.1 7.2h-8.2zM484 96l4.1 7.2h-8.2zM492 95l4.1 7.2h-8.2zM500 95l4.1 7.2h-8.2zM508 94l4.1 7.2h-8.2zM516 94l4.1 7.2h-8.2zM470 104l4.1 7.2h-8.2zM480 102l4.1 7.2h-8.2zM488 100l4.1 7.2h-8.2zM496 99l4.1 7.2h-8.2zM504 98l4.1 7.2h-8.2zM512 98l4.1 7.2h-8.2zM520 99l4.1 7.2h-8.2zM484 107l4.1 7.2h-8.2zM496 105l4.1 7.2h-8.2zM506 104l4.1 7.2h-8.2zM514 103l4.1 7.2h-8.2zM526 102l4.1 7.2h-8.2zM532 100l4.1 7.2h-8.2zM538 96l4.1 7.2h-8.2zM482.9 93.1l4.1 7.2h-8.2zM475.9 104l4.1 7.2h-8.2zM481.9 94.8l4.1 7.2h-8.2zM541.7 89.6l4.1 7.2h-8.2zM509.1 97.4l4.1 7.2h-8.2zM512.4 88.3l4.1 7.2h-8.2zM503.1 103.7l4.1 7.2h-8.2zM477.3 97l4.1 7.2h-8.2zM493.6 102.8l4.1 7.2h-8.2zM478.6 101.9l4.1 7.2h-8.2zM499.7 104.5l4.1 7.2h-8.2zM512.9 82l4.1 7.2h-8.2zM497.7 82.9l4.1 7.2h-8.2zM477.4 88.2l4.1 7.2h-8.2zM500.7 80l4.1 7.2h-8.2zM527.6 98.2l4.1 7.2h-8.2zM508.4 93.8l4.1 7.2h-8.2zM469.5 95.9l4.1 7.2h-8.2zM511.9 95.1l4.1 7.2h-8.2zM535.8 83.7l4.1 7.2h-8.2zM524.7 96l4.1 7.2h-8.2zM508.1 96.3l4.1 7.2h-8.2zM538.2 86.1l4.1 7.2h-8.2zM503.4 81l4.1 7.2h-8.2zM517 90.4l4.1 7.2h-8.2zM520.3 100.7l4.1 7.2h-8.2zM509.9 93.1l4.1 7.2h-8.2zM522.5 98.8l4.1 7.2h-8.2zM524.6 92.3l4.1 7.2h-8.2zM486 102.6l4.1 7.2h-8.2zM496.6 105.2l4.1 7.2h-8.2zM495.2 86.9l4.1 7.2h-8.2zM511.1 98.3l4.1 7.2h-8.2zM521 94.8l4.1 7.2h-8.2zM497.2 101.3l4.1 7.2h-8.2zM489.9 96.7l4.1 7.2h-8.2zM536.6 83.4l4.1 7.2h-8.2zM527.8 87.2l4.1 7.2h-8.2zM508 102.7l4.1 7.2h-8.2zM474.2 104.1l4.1 7.2h-8.2zM485.6 101.1l4.1 7.2h-8.2zM499.4 100.9l4.1 7.2h-8.2zM510.8 97.9l4.1 7.2h-8.2zM514.9 102.2l4.1 7.2h-8.2zM475.7 105.3l4.1 7.2h-8.2zM512 97.7l4.1 7.2h-8.2zM475.3 93.8l4.1 7.2h-8.2zM497.2 83l4.1 7.2h-8.2zM505.6 95.3l4.1 7.2h-8.2zM513.9 93.5l4.1 7.2h-8.2zM492.6 103.1l4.1 7.2h-8.2zM531.2 82.6l4.1 7.2h-8.2zM502.6 103.5l4.1 7.2h-8.2zM507.2 102.7l4.1 7.2h-8.2zM478 92.2l4.1 7.2h-8.2zM527.4 99.2l4.1 7.2h-8.2zM510 89.1l4.1 7.2h-8.2zM497.4 99.1l4.1 7.2h-8.2zM499.6 87.3l4.1 7.2h-8.2zM478.4 107.3l4.1 7.2h-8.2zM511.7 102l4.1 7.2h-8.2zM504 106.3l4.1 7.2h-8.2zM505.9 81.8l4.1 7.2h-8.2zM505 98.8l4.1 7.2h-8.2zM526.3 86.2l4.1 7.2h-8.2zM514.6 93.1l4.1 7.2h-8.2zM527.2 80.2l4.1 7.2h-8.2zM477.1 100.4l4.1 7.2h-8.2zM524.3 83.8l4.1 7.2h-8.2zM517.6 91.7l4.1 7.2h-8.2zM480.6 107.8l4.1 7.2h-8.2zM479 90.8l4.1 7.2h-8.2zM496.1 98.6l4.1 7.2h-8.2zM492.4 100.9l4.1 7.2h-8.2zM474.4 99.6l4.1 7.2h-8.2zM485.6 90l4.1 7.2h-8.2zM481.9 98.6l4.1 7.2h-8.2zM481.7 102.1l4.1 7.2h-8.2zM502.5 94.8l4.1 7.2h-8.2zM485 100.7l4.1 7.2h-8.2zM535.2 82.5l4.1 7.2h-8.2zM486.2 100.5l4.1 7.2h-8.2zM535.1 89.3l4.1 7.2h-8.2zM523.6 89.5l4.1 7.2h-8.2zM497.1 97.9l4.1 7.2h-8.2zM480.9 83.5l4.1 7.2h-8.2zM511.1 85.3l4.1 7.2h-8.2zM510.2 99l4.1 7.2h-8.2zM488.4 106.6l4.1 7.2h-8.2zM504.3 86.3l4.1 7.2h-8.2zM501 85.4l4.1 7.2h-8.2zM481 107l4.1 7.2h-8.2zM526.3 87.5l4.1 7.2h-8.2zM474.1 99.6l4.1 7.2h-8.2zM493.9 94.4l4.1 7.2h-8.2zM510.8 84.3l4.1 7.2h-8.2zM490.1 87.4l4.1 7.2h-8.2zM515.9 88.6l4.1 7.2h-8.2zM526.1 93.7l4.1 7.2h-8.2zM507.4 105.1l4.1 7.2h-8.2zM507 105l4.1 7.2h-8.2zM478.9 86.8l4.1 7.2h-8.2zM483.2 83.8l4.1 7.2h-8.2zM532.2 93.8l4.1 7.2h-8.2zM509.1 83.9l4.1 7.2h-8.2zM497 91.1l4.1 7.2h-8.2zM475.9 94.8l4.1 7.2h-8.2zM528.5 87.1l4.1 7.2h-8.2zM493.4 82.8l4.1 7.2h-8.2zM482 88l4.1 7.2h-8.2zM513.8 81.6l4.1 7.2h-8.2zM509.8 103.5l4.1 7.2h-8.2zM544 82.6l4.1 7.2h-8.2zM525.5 83.8l4.1 7.2h-8.2zM502.5 91.5l4.1 7.2h-8.2zM511.8 81.9l4.1 7.2h-8.2zM526 92.7l4.1 7.2h-8.2zM514.9 89.3l4.1 7.2h-8.2zM480.6 107.7l4.1 7.2h-8.2zM483.3 86l4.1 7.2h-8.2zM487.1 104.8l4.1 7.2h-8.2zM486.7 87.2l4.1 7.2h-8.2zM497.3 85.6l4.1 7.2h-8.2zM470.4 93.7l4.1 7.2h-8.2zM469.9 100.9l4.1 7.2h-8.2zM514.5 102.6l4.1 7.2h-8.2zM485.3 92.1l4.1 7.2h-8.2zM489.6 81.4l4.1 7.2h-8.2zM495.8 92l4.1 7.2h-8.2zM532.9 83.6l4.1 7.2h-8.2zM470.7 96.6l4.1 7.2h-8.2zM536.3 90.2l4.1 7.2h-8.2zM487.1 106l4.1 7.2h-8.2zM471.6 96.1l4.1 7.2h-8.2zM496.4 92.7l4.1 7.2h-8.2zM514.4 86.4l4.1 7.2h-8.2zM522.1 85.8l4.1 7.2h-8.2zM471.4 96.5l4.1 7.2h-8.2zM497.7 80.4l4.1 7.2h-8.2zM494.1 88.3l4.1 7.2h-8.2zM500.7 88.8l4.1 7.2h-8.2zM522.4 100.2l4.1 7.2h-8.2zM495.5 103.9l4.1 7.2h-8.2zM479.6 88.2l4.1 7.2h-8.2zM519.2 94.6l4.1 7.2h-8.2zM487.3 90.3l4.1 7.2h-8.2zM513.5 90.3l4.1 7.2h-8.2zM522.9 96.4l4.1 7.2h-8.2zM529 90.7l4.1 7.2h-8.2zM479.4 93l4.1 7.2h-8.2zM518.2 91.2l4.1 7.2h-8.2zM470.5 93l4.1 7.2h-8.2zM520.9 84.6l4.1 7.2h-8.2zM526.9 80l4.1 7.2h-8.2zM481.6 93l4.1 7.2h-8.2zM510.6 91.7l4.1 7.2h-8.2zM541.6 90l4.1 7.2h-8.2zM482 89.9l4.1 7.2h-8.2zM518.2 84.7l4.1 7.2h-8.2zM498.3 102l4.1 7.2h-8.2zM468.5 96.2l4.1 7.2h-8.2zM497.3 95l4.1 7.2h-8.2zM508.9 95.6l4.1 7.2h-8.2zM510.6 82l4.1 7.2h-8.2zM508 83.3l4.1 7.2h-8.2zM502.4 85.1l4.1 7.2h-8.2zM521.2 101.7l4.1 7.2h-8.2zM484.8 94.4l4.1 7.2h-8.2zM527.3 81.5l4.1 7.2h-8.2zM523.1 86.2l4.1 7.2h-8.2zM497.2 95.4l4.1 7.2h-8.2zM520.7 92.3l4.1 7.2h-8.2zM529.9 82.3l4.1 7.2h-8.2zM531.4 86l4.1 7.2h-8.2zM475.4 95.1l4.1 7.2h-8.2zM483.8 89l4.1 7.2h-8.2zM520.6 95.2l4.1 7.2h-8.2zM521.4 96l4.1 7.2h-8.2zM500.1 86.2l4.1 7.2h-8.2zM511.2 80.5l4.1 7.2h-8.2zM482.8 91.3l4.1 7.2h-8.2zM484.2 96.5l4.1 7.2h-8.2zM477.9 92.7l4.1 7.2h-8.2zM491.9 92l4.1 7.2h-8.2zM504 85.6l4.1 7.2h-8.2zM505.3 94.3l4.1 7.2h-8.2zM494.6 90.8l4.1 7.2h-8.2zM503.8 98.6l4.1 7.2h-8.2zM479.4 91l4.1 7.2h-8.2zM480.8 94.9l4.1 7.2h-8.2zM499.1 83.5l4.1 7.2h-8.2zM486.2 94l4.1 7.2h-8.2zM490.1 92.3l4.1 7.2h-8.2zM510.7 83l4.1 7.2h-8.2zM497.3 95.2l4.1 7.2h-8.2zM531.6 81.1l4.1 7.2h-8.2zM537.7 84.3l4.1 7.2h-8.2zM518.8 101.2l4.1 7.2h-8.2zM531.8 91.9l4.1 7.2h-8.2zM499.3 94.1l4.1 7.2h-8.2zM516.8 80.8l4.1 7.2h-8.2zM528.7 90.9l4.1 7.2h-8.2zM495.3 98.3l4.1 7.2h-8.2zM485.1 90.8l4.1 7.2h-8.2zM474.4 101.7l4.1 7.2h-8.2zM498.1 103.6l4.1 7.2h-8.2zM541.1 86.3l4.1 7.2h-8.2zM518.4 80l4.1 7.2h-8.2zM537.2 81l4.1 7.2h-8.2zM493.4 84.9l4.1 7.2h-8.2zM494.2 103.1l4.1 7.2h-8.2zM476.2 90.9l4.1 7.2h-8.2zM498.3 104.3l4.1 7.2h-8.2zM499.3 89.6l4.1 7.2h-8.2zM481 95.3l4.1 7.2h-8.2zM528.9 85l4.1 7.2h-8.2zM524.4 83.8l4.1 7.2h-8.2zM481.3 88.8l4.1 7.2h-8.2zM486.5 91.7l4.1 7.2h-8.2zM518.2 99.6l4.1 7.2h-8.2z"/></clipPath><path fill="#FF0000" fill-opacity="0.26" clip-path="url(#tc1)" d="M471.6 81.6L477 82.2L482.4 82.7L487.8 83.2L493.2 83.6L498.6 83.9L504 84.2L509.3 84.3L514.7 84.4L520.1 84.4L525.5 84.2L530.9 83.9L536.3 83.6L541.7 83.2L547.1 82.7L552.5 82.2L557.9 81.7L563.3 81.1L568.6 80.5L574 79.9L579.4 79.3L584.8 78.6L590.2 78L595.6 77.3L601 76.6L601 101.8L595.6 101.1L590.2 100.4L584.8 99.8L579.4 99.1L574 98.5L568.6 97.9L563.3 97.3L557.9 96.7L552.5 96.2L547.1 95.7L541.7 95.2L536.3 94.8L530.9 94.5L525.5 94.2L520.1 94L514.7 94L509.3 94.1L504 94.2L498.6 94.5L493.2 94.8L487.8 95.2L482.4 95.7L477 96.2L471.6 96.8Z"/>
<path stroke="#FF2200" stroke-width="3.0" stroke-linecap="round" d="M471.6 89.2L601 89.2"/>
<path fill="#006400" fill-opacity="0.3" d="M455 107.2L462.8 105.3L470.5 103.4L478.3 101.4L486.1 99.5L493.9 97.5L501.6 95.4L509.4 93.3L517.2 91.1L524.9 88.9L532.7 86.7L540.5 84.4L548.2 82.1L556 79.8L563.8 77.4L571.6 75.1L579.3 72.7L587.1 70.4L594.9 68L602.6 65.6L610.4 63.2L618.2 60.9L626 58.5L633.7 56.1L641.5 53.7L641.5 66.5L633.7 68.3L626 70.1L618.2 71.8L610.4 73.6L602.6 75.4L594.9 77.2L587.1 79L579.3 80.8L571.6 82.6L563.8 84.4L556 86.3L548.2 88.1L540.5 90L532.7 91.9L524.9 93.8L517.2 95.7L509.4 97.7L501.6 99.8L493.9 101.9L486.1 104L478.3 106.2L470.5 108.4L462.8 110.7L455 113Z"/>
<path stroke="#006400" stroke-width="3.0" stroke-linecap="round" d="M455 110.1L641.5 60.1"/>
</g>
<rect x="401.6" y="1.5" width="282" height="122.5" fill="none" stroke="#3a3a3a" stroke-width="1.4"/>
<path d="M473.6 124V128M548.2 124V128M622.8 124V128M397.6 120.6H401.6M397.6 92.02H401.6M397.6 63.45H401.6M397.6 34.88H401.6M397.6 6.3H401.6" stroke="#3a3a3a" stroke-width="1.4" fill="none"/>
<g><text transform="translate(473.6 140.6) scale(1 1.1)" text-anchor="middle">10</text></g>
<g><text transform="translate(548.2 140.6) scale(1 1.1)" text-anchor="middle">20</text></g>
<g><text transform="translate(622.8 140.6) scale(1 1.1)" text-anchor="middle">30</text></g>
<text transform="translate(393.8 125) scale(1 1.1)" text-anchor="end">0</text>
<text transform="translate(393.8 96.42) scale(1 1.1)" text-anchor="end">200</text>
<text transform="translate(393.8 67.85) scale(1 1.1)" text-anchor="end">400</text>
<text transform="translate(393.8 39.27) scale(1 1.1)" text-anchor="end">600</text>
<text transform="translate(393.8 10.7) scale(1 1.1)" text-anchor="end">800</text>
<clipPath id="clipb"><rect x="59.4" y="183" width="285.6" height="123"/></clipPath>
<rect x="59.4" y="183" width="285.6" height="123" fill="#fff"/>
<path d="M99.05 183V306M153.35 183V306M207.65 183V306M261.95 183V306M316.25 183V306M59.4 285.58H345M59.4 254.35H345M59.4 223.12H345M59.4 191.88H345" stroke="#EDEDED" stroke-width="0.7" fill="none"/>
<path d="M71.9 183V306M126.2 183V306M180.5 183V306M234.8 183V306M289.1 183V306M343.4 183V306M59.4 301.2H345M59.4 269.97H345M59.4 238.73H345M59.4 207.5H345" stroke="#EBEBEB" stroke-width="1.2" fill="none"/>
<g clip-path="url(#clipb)">
<path fill="#FF2200" d="M108.6 220.1a3.35 3.35 0 1 0 6.7 0a3.35 3.35 0 1 0 -6.7 0zM137.2 236.3a3.35 3.35 0 1 0 6.7 0a3.35 3.35 0 1 0 -6.7 0zM131.1 244.5a3.35 3.35 0 1 0 6.7 0a3.35 3.35 0 1 0 -6.7 0zM127.6 256.7a3.35 3.35 0 1 0 6.7 0a3.35 3.35 0 1 0 -6.7 0zM97.4 260.7a3.35 3.35 0 1 0 6.7 0a3.35 3.35 0 1 0 -6.7 0zM92.8 275.8a3.35 3.35 0 1 0 6.7 0a3.35 3.35 0 1 0 -6.7 0zM148 294.3a3.35 3.35 0 1 0 6.7 0a3.35 3.35 0 1 0 -6.7 0zM169.2 251.4a3.35 3.35 0 1 0 6.7 0a3.35 3.35 0 1 0 -6.7 0zM176.2 242.1a3.35 3.35 0 1 0 6.7 0a3.35 3.35 0 1 0 -6.7 0zM179.8 278.1a3.35 3.35 0 1 0 6.7 0a3.35 3.35 0 1 0 -6.7 0zM169.2 276.9a3.35 3.35 0 1 0 6.7 0a3.35 3.35 0 1 0 -6.7 0zM118.2 289.7a3.35 3.35 0 1 0 6.7 0a3.35 3.35 0 1 0 -6.7 0zM111.4 294.3a3.35 3.35 0 1 0 6.7 0a3.35 3.35 0 1 0 -6.7 0zM75.4 296.6a3.35 3.35 0 1 0 6.7 0a3.35 3.35 0 1 0 -6.7 0zM78.9 300.1a3.35 3.35 0 1 0 6.7 0a3.35 3.35 0 1 0 -6.7 0zM85.8 299a3.35 3.35 0 1 0 6.7 0a3.35 3.35 0 1 0 -6.7 0zM95.1 297.8a3.35 3.35 0 1 0 6.7 0a3.35 3.35 0 1 0 -6.7 0zM102.1 296.6a3.35 3.35 0 1 0 6.7 0a3.35 3.35 0 1 0 -6.7 0zM184.3 259.5a3.35 3.35 0 1 0 6.7 0a3.35 3.35 0 1 0 -6.7 0zM202.1 244.5a3.35 3.35 0 1 0 6.7 0a3.35 3.35 0 1 0 -6.7 0zM253.2 264.7a3.35 3.35 0 1 0 6.7 0a3.35 3.35 0 1 0 -6.7 0zM200.5 292.1a3.35 3.35 0 1 0 6.7 0a3.35 3.35 0 1 0 -6.7 0zM103.9 272.8a3.35 3.35 0 1 0 6.7 0a3.35 3.35 0 1 0 -6.7 0zM73.7 299a3.35 3.35 0 1 0 6.7 0a3.35 3.35 0 1 0 -6.7 0zM80.7 301a3.35 3.35 0 1 0 6.7 0a3.35 3.35 0 1 0 -6.7 0zM88.7 301a3.35 3.35 0 1 0 6.7 0a3.35 3.35 0 1 0 -6.7 0zM70.7 297a3.35 3.35 0 1 0 6.7 0a3.35 3.35 0 1 0 -6.7 0z"/>
<path fill="#006400" d="M194.7 185.5l4.1 7.2h-8.2zM167.5 207.3l4.1 7.2h-8.2zM154.1 218.9l4.1 7.2h-8.2zM167.5 219.6l4.1 7.2h-8.2zM178.4 220.7l4.1 7.2h-8.2zM173.8 227l4.1 7.2h-8.2zM195.8 226.5l4.1 7.2h-8.2zM79.4 251.4l4.1 7.2h-8.2zM128.6 245.1l4.1 7.2h-8.2zM139 246.3l4.1 7.2h-8.2zM162.2 238.8l4.1 7.2h-8.2zM169.2 238.8l4.1 7.2h-8.2zM178.4 235.8l4.1 7.2h-8.2zM192.3 242.1l4.1 7.2h-8.2zM198.1 235.8l4.1 7.2h-8.2zM152.9 242.8l4.1 7.2h-8.2zM147.1 246.3l4.1 7.2h-8.2zM104.2 253.7l4.1 7.2h-8.2zM93.8 266.7l4.1 7.2h-8.2zM105.4 260.2l4.1 7.2h-8.2zM166.8 285.7l4.1 7.2h-8.2zM146 286.8l4.1 7.2h-8.2zM158.7 282.2l4.1 7.2h-8.2zM184.2 246.3l4.1 7.2h-8.2zM181.9 252l4.1 7.2h-8.2zM191.2 250.9l4.1 7.2h-8.2zM192.3 269.4l4.1 7.2h-8.2zM188.9 274.1l4.1 7.2h-8.2zM252.6 183.2l4.1 7.2h-8.2zM260 187.1l4.1 7.2h-8.2zM216.4 215.7l4.1 7.2h-8.2zM254.7 212.7l4.1 7.2h-8.2zM212.4 224.3l4.1 7.2h-8.2zM200.1 235.9l4.1 7.2h-8.2zM210.8 239.4l4.1 7.2h-8.2zM241 232.4l4.1 7.2h-8.2zM270.5 240.5l4.1 7.2h-8.2zM332 238.2l4.1 7.2h-8.2zM228.7 241.7l4.1 7.2h-8.2zM232.1 251l4.1 7.2h-8.2zM250.7 253.3l4.1 7.2h-8.2zM236.8 262.6l4.1 7.2h-8.2zM218.2 269.6l4.1 7.2h-8.2zM249.6 266.1l4.1 7.2h-8.2zM272.8 271.9l4.1 7.2h-8.2zM307.6 271.9l4.1 7.2h-8.2zM212.4 283.5l4.1 7.2h-8.2zM195 268.4l4.1 7.2h-8.2zM202 260.3l4.1 7.2h-8.2zM213.6 259.1l4.1 7.2h-8.2zM222.9 254.5l4.1 7.2h-8.2zM204 254l4.1 7.2h-8.2zM208 264l4.1 7.2h-8.2zM200 246l4.1 7.2h-8.2zM121.8 267.9l4.1 7.2h-8.2zM168.5 262.6l4.1 7.2h-8.2zM127.3 269.5l4.1 7.2h-8.2zM139.4 281.2l4.1 7.2h-8.2zM86 282.2l4.1 7.2h-8.2zM141.7 271.1l4.1 7.2h-8.2zM120.6 284.1l4.1 7.2h-8.2zM128.4 272.5l4.1 7.2h-8.2zM126.5 273.8l4.1 7.2h-8.2zM160.2 276.4l4.1 7.2h-8.2zM152.9 258.9l4.1 7.2h-8.2zM160.8 258.1l4.1 7.2h-8.2zM167.1 262.8l4.1 7.2h-8.2zM154.1 251.4l4.1 7.2h-8.2zM155.9 246.2l4.1 7.2h-8.2zM132.4 261.5l4.1 7.2h-8.2zM95.9 277.8l4.1 7.2h-8.2zM107.1 286.5l4.1 7.2h-8.2zM161.6 272.6l4.1 7.2h-8.2zM153.5 254.8l4.1 7.2h-8.2zM101.1 270.3l4.1 7.2h-8.2zM172 263.6l4.1 7.2h-8.2zM164.3 270.4l4.1 7.2h-8.2zM100.6 276.2l4.1 7.2h-8.2zM102.4 283l4.1 7.2h-8.2zM136.1 252.8l4.1 7.2h-8.2zM94.4 277.1l4.1 7.2h-8.2zM137.8 252l4.1 7.2h-8.2zM167.8 247.7l4.1 7.2h-8.2zM145.4 269.4l4.1 7.2h-8.2zM124.7 277.7l4.1 7.2h-8.2zM150 276.2l4.1 7.2h-8.2zM111.8 275.1l4.1 7.2h-8.2zM118.3 281.1l4.1 7.2h-8.2zM162.5 268.7l4.1 7.2h-8.2zM138.9 257.8l4.1 7.2h-8.2zM134.7 270.7l4.1 7.2h-8.2zM149.1 258.2l4.1 7.2h-8.2zM149.8 269.2l4.1 7.2h-8.2zM120.6 283.8l4.1 7.2h-8.2zM146.1 264.4l4.1 7.2h-8.2zM106.8 274.7l4.1 7.2h-8.2zM166.7 273.7l4.1 7.2h-8.2zM109.4 274l4.1 7.2h-8.2zM164.1 258l4.1 7.2h-8.2zM134.7 254.1l4.1 7.2h-8.2zM138.9 264.2l4.1 7.2h-8.2zM108.2 283.9l4.1 7.2h-8.2zM147.2 268.6l4.1 7.2h-8.2zM107.6 281.2l4.1 7.2h-8.2zM159.1 249.6l4.1 7.2h-8.2zM139.3 261.5l4.1 7.2h-8.2zM139.4 273.4l4.1 7.2h-8.2zM146 265.7l4.1 7.2h-8.2zM137.8 279.1l4.1 7.2h-8.2zM116 281.2l4.1 7.2h-8.2zM166.7 241l4.1 7.2h-8.2zM169.3 277.2l4.1 7.2h-8.2zM114.3 268.5l4.1 7.2h-8.2zM164.1 281.5l4.1 7.2h-8.2zM170.5 262.5l4.1 7.2h-8.2zM148.5 282.7l4.1 7.2h-8.2zM140.5 276.9l4.1 7.2h-8.2zM98.1 287.3l4.1 7.2h-8.2zM130.2 281.1l4.1 7.2h-8.2zM108.7 287.9l4.1 7.2h-8.2zM161.7 255.9l4.1 7.2h-8.2zM131.5 279.8l4.1 7.2h-8.2zM156.2 245.9l4.1 7.2h-8.2zM110.2 281l4.1 7.2h-8.2zM128.1 277.3l4.1 7.2h-8.2zM160.2 275.3l4.1 7.2h-8.2zM170.6 264.1l4.1 7.2h-8.2zM171 240.9l4.1 7.2h-8.2zM105.7 277.6l4.1 7.2h-8.2zM140.2 265.8l4.1 7.2h-8.2zM160.5 268l4.1 7.2h-8.2zM97.6 284.5l4.1 7.2h-8.2zM130.1 264.7l4.1 7.2h-8.2zM116.7 281.7l4.1 7.2h-8.2zM132.7 264l4.1 7.2h-8.2zM130.3 259.6l4.1 7.2h-8.2zM103.7 263l4.1 7.2h-8.2zM96 271.3l4.1 7.2h-8.2zM168.6 243.4l4.1 7.2h-8.2zM145 254.4l4.1 7.2h-8.2zM112.2 271.4l4.1 7.2h-8.2zM129.5 260.9l4.1 7.2h-8.2zM97.2 272l4.1 7.2h-8.2zM140.2 266.2l4.1 7.2h-8.2zM161.3 270.9l4.1 7.2h-8.2zM161.8 249.3l4.1 7.2h-8.2zM150.3 282.2l4.1 7.2h-8.2zM166.4 254l4.1 7.2h-8.2zM164.9 243.7l4.1 7.2h-8.2zM100.7 277.5l4.1 7.2h-8.2zM159.4 260.1l4.1 7.2h-8.2zM116.9 275.1l4.1 7.2h-8.2zM127.1 279.3l4.1 7.2h-8.2zM126.8 275.1l4.1 7.2h-8.2zM131.6 265.4l4.1 7.2h-8.2zM168.8 241.5l4.1 7.2h-8.2zM122.7 279.6l4.1 7.2h-8.2zM128 260.6l4.1 7.2h-8.2zM146.4 284.2l4.1 7.2h-8.2zM150.2 259.1l4.1 7.2h-8.2zM139.3 259.1l4.1 7.2h-8.2zM136.4 264.8l4.1 7.2h-8.2zM102.6 288l4.1 7.2h-8.2zM150.7 280.4l4.1 7.2h-8.2zM157.6 259.2l4.1 7.2h-8.2zM145.8 279.8l4.1 7.2h-8.2zM152.8 259.2l4.1 7.2h-8.2zM140.2 271.6l4.1 7.2h-8.2zM142.9 255.3l4.1 7.2h-8.2zM142.3 268.5l4.1 7.2h-8.2zM129.8 258.2l4.1 7.2h-8.2zM146.4 279.5l4.1 7.2h-8.2zM137.9 278.2l4.1 7.2h-8.2zM101.8 287.7l4.1 7.2h-8.2zM131.5 265l4.1 7.2h-8.2zM136.2 279.3l4.1 7.2h-8.2zM170.6 260l4.1 7.2h-8.2zM129.1 270.1l4.1 7.2h-8.2zM141.9 268l4.1 7.2h-8.2zM105.1 276.9l4.1 7.2h-8.2zM92.5 279.1l4.1 7.2h-8.2zM119.5 263.3l4.1 7.2h-8.2zM148.6 262.7l4.1 7.2h-8.2zM138.8 262l4.1 7.2h-8.2zM120.8 274.1l4.1 7.2h-8.2zM134.6 260l4.1 7.2h-8.2zM154 266.3l4.1 7.2h-8.2zM149.7 249.6l4.1 7.2h-8.2zM154.6 271.7l4.1 7.2h-8.2zM144.8 268.2l4.1 7.2h-8.2zM135.6 272.1l4.1 7.2h-8.2zM151.6 246.9l4.1 7.2h-8.2zM103.8 260.3l4.1 7.2h-8.2zM131.5 272l4.1 7.2h-8.2zM113.9 263.3l4.1 7.2h-8.2zM150.7 283.8l4.1 7.2h-8.2zM157.1 271.6l4.1 7.2h-8.2zM153.1 248.2l4.1 7.2h-8.2zM157.2 257.1l4.1 7.2h-8.2zM109.2 267.3l4.1 7.2h-8.2zM86.6 285.9l4.1 7.2h-8.2zM132.9 263.7l4.1 7.2h-8.2zM144.8 253.1l4.1 7.2h-8.2zM98.1 273.8l4.1 7.2h-8.2zM148.8 275.6l4.1 7.2h-8.2zM112.4 277.4l4.1 7.2h-8.2zM147.2 268.5l4.1 7.2h-8.2zM167.4 261l4.1 7.2h-8.2zM156.5 253.4l4.1 7.2h-8.2zM155.9 266.9l4.1 7.2h-8.2zM159.8 268.1l4.1 7.2h-8.2zM94.5 279.3l4.1 7.2h-8.2zM164.2 252.1l4.1 7.2h-8.2zM130.9 268.4l4.1 7.2h-8.2zM131.1 281l4.1 7.2h-8.2zM91.2 278.6l4.1 7.2h-8.2zM141.3 250l4.1 7.2h-8.2zM98.8 279.7l4.1 7.2h-8.2zM128.6 279.6l4.1 7.2h-8.2zM125.9 266.7l4.1 7.2h-8.2zM148.4 276.4l4.1 7.2h-8.2zM167.6 259.4l4.1 7.2h-8.2zM158.8 274l4.1 7.2h-8.2zM161.5 282l4.1 7.2h-8.2zM171.8 272.5l4.1 7.2h-8.2zM128.9 276.5l4.1 7.2h-8.2zM156.4 260.1l4.1 7.2h-8.2zM153.8 246.3l4.1 7.2h-8.2zM100.3 276.9l4.1 7.2h-8.2zM94.1 279.2l4.1 7.2h-8.2zM107.9 267.3l4.1 7.2h-8.2zM157.9 263.4l4.1 7.2h-8.2zM102.8 286.6l4.1 7.2h-8.2zM167.5 255.5l4.1 7.2h-8.2zM156.3 258l4.1 7.2h-8.2zM129.2 265.4l4.1 7.2h-8.2zM142.1 249.6l4.1 7.2h-8.2zM113.8 281.5l4.1 7.2h-8.2zM147.6 270.6l4.1 7.2h-8.2zM163.1 265.5l4.1 7.2h-8.2zM103.4 266.5l4.1 7.2h-8.2zM91.9 280l4.1 7.2h-8.2zM160.8 282.9l4.1 7.2h-8.2zM124.5 262.8l4.1 7.2h-8.2zM171.6 269.5l4.1 7.2h-8.2zM161.9 253.3l4.1 7.2h-8.2zM155.1 259.8l4.1 7.2h-8.2zM167.8 241.2l4.1 7.2h-8.2zM158.8 247.9l4.1 7.2h-8.2zM130.8 266l4.1 7.2h-8.2zM92.6 283.5l4.1 7.2h-8.2zM123.3 276.8l4.1 7.2h-8.2zM112.6 275.2l4.1 7.2h-8.2zM159.1 273.3l4.1 7.2h-8.2zM147.3 249.6l4.1 7.2h-8.2zM132.8 262.2l4.1 7.2h-8.2zM156.1 247.8l4.1 7.2h-8.2zM138 252.6l4.1 7.2h-8.2zM114.2 266.8l4.1 7.2h-8.2zM115.8 274l4.1 7.2h-8.2zM149.4 254.8l4.1 7.2h-8.2zM170.6 268.1l4.1 7.2h-8.2zM148.7 254.9l4.1 7.2h-8.2zM144.1 276.4l4.1 7.2h-8.2zM159.9 269.8l4.1 7.2h-8.2zM168.1 260.4l4.1 7.2h-8.2zM127.6 272.9l4.1 7.2h-8.2zM152.9 282.8l4.1 7.2h-8.2zM116.7 275.9l4.1 7.2h-8.2zM142.4 270.7l4.1 7.2h-8.2zM110.9 273.1l4.1 7.2h-8.2zM127.4 281l4.1 7.2h-8.2zM158.7 270.9l4.1 7.2h-8.2zM92.7 279.7l4.1 7.2h-8.2zM166.4 267.3l4.1 7.2h-8.2zM111.9 264.6l4.1 7.2h-8.2zM91 276.7l4.1 7.2h-8.2zM147.8 283.7l4.1 7.2h-8.2zM134.1 275.8l4.1 7.2h-8.2zM130.8 268l4.1 7.2h-8.2zM157.9 270.3l4.1 7.2h-8.2zM89.1 283l4.1 7.2h-8.2zM105.6 287.2l4.1 7.2h-8.2zM100.8 268.7l4.1 7.2h-8.2zM159.2 246.6l4.1 7.2h-8.2zM142.2 253.6l4.1 7.2h-8.2zM143.5 278.1l4.1 7.2h-8.2zM114.8 269.8l4.1 7.2h-8.2zM133.2 255l4.1 7.2h-8.2zM172 270.2l4.1 7.2h-8.2zM123.5 259.5l4.1 7.2h-8.2zM138.8 275.3l4.1 7.2h-8.2zM152 278.9l4.1 7.2h-8.2zM117.5 260.8l4.1 7.2h-8.2zM129.1 266l4.1 7.2h-8.2zM149.5 270.1l4.1 7.2h-8.2zM151.4 253.4l4.1 7.2h-8.2zM126.8 258.7l4.1 7.2h-8.2zM118.7 281.9l4.1 7.2h-8.2zM99 278.6l4.1 7.2h-8.2zM86.8 281.2l4.1 7.2h-8.2zM107.5 264.4l4.1 7.2h-8.2zM165.8 247.2l4.1 7.2h-8.2zM160 256.2l4.1 7.2h-8.2zM97 272.1l4.1 7.2h-8.2zM96 286.2l4.1 7.2h-8.2zM148.9 253.9l4.1 7.2h-8.2zM147.3 247.2l4.1 7.2h-8.2zM142.8 281.1l4.1 7.2h-8.2zM113.9 273.8l4.1 7.2h-8.2zM164.6 269.7l4.1 7.2h-8.2zM168.7 274.1l4.1 7.2h-8.2zM104.4 272.5l4.1 7.2h-8.2zM120.6 266.2l4.1 7.2h-8.2zM136.4 252.3l4.1 7.2h-8.2zM101.8 281.8l4.1 7.2h-8.2zM151.8 250.1l4.1 7.2h-8.2zM104.6 267.3l4.1 7.2h-8.2zM95.4 287.2l4.1 7.2h-8.2zM122.7 278.8l4.1 7.2h-8.2zM132 272.8l4.1 7.2h-8.2zM112.6 273.6l4.1 7.2h-8.2zM154.5 265.5l4.1 7.2h-8.2zM144.7 265.7l4.1 7.2h-8.2zM171.2 246l4.1 7.2h-8.2zM154.2 245.5l4.1 7.2h-8.2zM120.6 280.1l4.1 7.2h-8.2zM154.9 281.1l4.1 7.2h-8.2zM98.9 269.1l4.1 7.2h-8.2zM136.1 276.8l4.1 7.2h-8.2zM120 261.2l4.1 7.2h-8.2zM103 281.6l4.1 7.2h-8.2zM133.3 267l4.1 7.2h-8.2zM155.4 249.6l4.1 7.2h-8.2zM138.5 266l4.1 7.2h-8.2zM103.2 269.6l4.1 7.2h-8.2zM85.8 282.8l4.1 7.2h-8.2zM92.8 275.4l4.1 7.2h-8.2zM159.3 280.9l4.1 7.2h-8.2zM125.5 279.4l4.1 7.2h-8.2zM122.1 278.5l4.1 7.2h-8.2zM165.1 244.1l4.1 7.2h-8.2zM152.6 277.9l4.1 7.2h-8.2zM111 275.6l4.1 7.2h-8.2zM162.6 269.7l4.1 7.2h-8.2zM164.8 262.4l4.1 7.2h-8.2zM115.9 284.1l4.1 7.2h-8.2zM114.7 280.6l4.1 7.2h-8.2zM162.4 247.7l4.1 7.2h-8.2zM145.4 256.7l4.1 7.2h-8.2zM147.8 251.4l4.1 7.2h-8.2zM169.7 256.5l4.1 7.2h-8.2zM152.8 277.3l4.1 7.2h-8.2zM85.2 286.3l4.1 7.2h-8.2zM109.2 280l4.1 7.2h-8.2zM147 250.9l4.1 7.2h-8.2zM148.8 274l4.1 7.2h-8.2zM104.8 276.7l4.1 7.2h-8.2zM162.7 248.9l4.1 7.2h-8.2zM133 282.1l4.1 7.2h-8.2zM98.4 275.3l4.1 7.2h-8.2zM163 249.4l4.1 7.2h-8.2zM109.5 264.4l4.1 7.2h-8.2zM116.8 263.1l4.1 7.2h-8.2zM93.5 274l4.1 7.2h-8.2zM146.4 267.6l4.1 7.2h-8.2zM135 262.8l4.1 7.2h-8.2zM165.3 268.3l4.1 7.2h-8.2zM102.9 274.1l4.1 7.2h-8.2zM112.9 268.9l4.1 7.2h-8.2zM139.1 271.4l4.1 7.2h-8.2zM104.3 283.3l4.1 7.2h-8.2zM164.1 257.8l4.1 7.2h-8.2zM144.3 249.4l4.1 7.2h-8.2zM125.9 273.1l4.1 7.2h-8.2zM131.3 271.6l4.1 7.2h-8.2zM111.3 286.6l4.1 7.2h-8.2zM108 276.8l4.1 7.2h-8.2zM145.8 275.2l4.1 7.2h-8.2zM125.6 268.2l4.1 7.2h-8.2zM151.1 266.5l4.1 7.2h-8.2zM153.4 263.4l4.1 7.2h-8.2zM93.1 285.4l4.1 7.2h-8.2zM102.1 265l4.1 7.2h-8.2zM155.8 258.4l4.1 7.2h-8.2zM147.9 250.4l4.1 7.2h-8.2zM147.9 254.7l4.1 7.2h-8.2zM110.1 279.3l4.1 7.2h-8.2zM160.4 283.3l4.1 7.2h-8.2zM133.2 260l4.1 7.2h-8.2zM147 271.6l4.1 7.2h-8.2zM159.3 281.7l4.1 7.2h-8.2zM143.3 249.2l4.1 7.2h-8.2zM145.1 259.9l4.1 7.2h-8.2zM186.9 263l4.1 7.2h-8.2zM182.3 269.3l4.1 7.2h-8.2zM191.9 260.7l4.1 7.2h-8.2zM188.8 263.2l4.1 7.2h-8.2zM183.8 252.6l4.1 7.2h-8.2zM179.9 269.5l4.1 7.2h-8.2zM185.2 253.2l4.1 7.2h-8.2zM189.7 255.6l4.1 7.2h-8.2zM184.2 250.9l4.1 7.2h-8.2zM191.9 263.7l4.1 7.2h-8.2zM184.4 257l4.1 7.2h-8.2zM194.6 256.5l4.1 7.2h-8.2zM185.9 257.3l4.1 7.2h-8.2zM181.1 253.6l4.1 7.2h-8.2z"/>
<path fill="#FF0000" fill-opacity="0.3" d="M77.7 291.9L85.2 290.2L92.6 288.4L100.1 286.6L107.5 284.6L115 282.5L122.4 280.2L129.9 277.9L137.3 275.4L144.8 272.9L152.2 270.3L159.7 267.7L167.1 265.1L174.6 262.4L182 259.8L189.4 257.1L196.9 254.5L204.4 251.8L211.8 249.1L219.2 246.4L226.7 243.7L234.2 241.1L241.6 238.4L249.1 235.7L256.5 233L256.5 257.4L249.1 258.9L241.6 260.4L234.2 261.9L226.7 263.4L219.2 264.9L211.8 266.4L204.4 268L196.9 269.5L189.4 271L182 272.5L174.6 274.1L167.1 275.6L159.7 277.2L152.2 278.8L144.8 280.4L137.3 282.1L129.9 283.8L122.4 285.6L115 287.6L107.5 289.6L100.1 291.8L92.6 294.2L85.2 296.6L77.7 299.1Z"/>
<clipPath id="tc2"><path d="M194.7 185.5l4.1 7.2h-8.2zM167.5 207.3l4.1 7.2h-8.2zM154.1 218.9l4.1 7.2h-8.2zM167.5 219.6l4.1 7.2h-8.2zM178.4 220.7l4.1 7.2h-8.2zM173.8 227l4.1 7.2h-8.2zM195.8 226.5l4.1 7.2h-8.2zM79.4 251.4l4.1 7.2h-8.2zM128.6 245.1l4.1 7.2h-8.2zM139 246.3l4.1 7.2h-8.2zM162.2 238.8l4.1 7.2h-8.2zM169.2 238.8l4.1 7.2h-8.2zM178.4 235.8l4.1 7.2h-8.2zM192.3 242.1l4.1 7.2h-8.2zM198.1 235.8l4.1 7.2h-8.2zM152.9 242.8l4.1 7.2h-8.2zM147.1 246.3l4.1 7.2h-8.2zM104.2 253.7l4.1 7.2h-8.2zM93.8 266.7l4.1 7.2h-8.2zM105.4 260.2l4.1 7.2h-8.2zM166.8 285.7l4.1 7.2h-8.2zM146 286.8l4.1 7.2h-8.2zM158.7 282.2l4.1 7.2h-8.2zM184.2 246.3l4.1 7.2h-8.2zM181.9 252l4.1 7.2h-8.2zM191.2 250.9l4.1 7.2h-8.2zM192.3 269.4l4.1 7.2h-8.2zM188.9 274.1l4.1 7.2h-8.2zM252.6 183.2l4.1 7.2h-8.2zM260 187.1l4.1 7.2h-8.2zM216.4 215.7l4.1 7.2h-8.2zM254.7 212.7l4.1 7.2h-8.2zM212.4 224.3l4.1 7.2h-8.2zM200.1 235.9l4.1 7.2h-8.2zM210.8 239.4l4.1 7.2h-8.2zM241 232.4l4.1 7.2h-8.2zM270.5 240.5l4.1 7.2h-8.2zM332 238.2l4.1 7.2h-8.2zM228.7 241.7l4.1 7.2h-8.2zM232.1 251l4.1 7.2h-8.2zM250.7 253.3l4.1 7.2h-8.2zM236.8 262.6l4.1 7.2h-8.2zM218.2 269.6l4.1 7.2h-8.2zM249.6 266.1l4.1 7.2h-8.2zM272.8 271.9l4.1 7.2h-8.2zM307.6 271.9l4.1 7.2h-8.2zM212.4 283.5l4.1 7.2h-8.2zM195 268.4l4.1 7.2h-8.2zM202 260.3l4.1 7.2h-8.2zM213.6 259.1l4.1 7.2h-8.2zM222.9 254.5l4.1 7.2h-8.2zM204 254l4.1 7.2h-8.2zM208 264l4.1 7.2h-8.2zM200 246l4.1 7.2h-8.2zM121.8 267.9l4.1 7.2h-8.2zM168.5 262.6l4.1 7.2h-8.2zM127.3 269.5l4.1 7.2h-8.2zM139.4 281.2l4.1 7.2h-8.2zM86 282.2l4.1 7.2h-8.2zM141.7 271.1l4.1 7.2h-8.2zM120.6 284.1l4.1 7.2h-8.2zM128.4 272.5l4.1 7.2h-8.2zM126.5 273.8l4.1 7.2h-8.2zM160.2 276.4l4.1 7.2h-8.2zM152.9 258.9l4.1 7.2h-8.2zM160.8 258.1l4.1 7.2h-8.2zM167.1 262.8l4.1 7.2h-8.2zM154.1 251.4l4.1 7.2h-8.2zM155.9 246.2l4.1 7.2h-8.2zM132.4 261.5l4.1 7.2h-8.2zM95.9 277.8l4.1 7.2h-8.2zM107.1 286.5l4.1 7.2h-8.2zM161.6 272.6l4.1 7.2h-8.2zM153.5 254.8l4.1 7.2h-8.2zM101.1 270.3l4.1 7.2h-8.2zM172 263.6l4.1 7.2h-8.2zM164.3 270.4l4.1 7.2h-8.2zM100.6 276.2l4.1 7.2h-8.2zM102.4 283l4.1 7.2h-8.2zM136.1 252.8l4.1 7.2h-8.2zM94.4 277.1l4.1 7.2h-8.2zM137.8 252l4.1 7.2h-8.2zM167.8 247.7l4.1 7.2h-8.2zM145.4 269.4l4.1 7.2h-8.2zM124.7 277.7l4.1 7.2h-8.2zM150 276.2l4.1 7.2h-8.2zM111.8 275.1l4.1 7.2h-8.2zM118.3 281.1l4.1 7.2h-8.2zM162.5 268.7l4.1 7.2h-8.2zM138.9 257.8l4.1 7.2h-8.2zM134.7 270.7l4.1 7.2h-8.2zM149.1 258.2l4.1 7.2h-8.2zM149.8 269.2l4.1 7.2h-8.2zM120.6 283.8l4.1 7.2h-8.2zM146.1 264.4l4.1 7.2h-8.2zM106.8 274.7l4.1 7.2h-8.2zM166.7 273.7l4.1 7.2h-8.2zM109.4 274l4.1 7.2h-8.2zM164.1 258l4.1 7.2h-8.2zM134.7 254.1l4.1 7.2h-8.2zM138.9 264.2l4.1 7.2h-8.2zM108.2 283.9l4.1 7.2h-8.2zM147.2 268.6l4.1 7.2h-8.2zM107.6 281.2l4.1 7.2h-8.2zM159.1 249.6l4.1 7.2h-8.2zM139.3 261.5l4.1 7.2h-8.2zM139.4 273.4l4.1 7.2h-8.2zM146 265.7l4.1 7.2h-8.2zM137.8 279.1l4.1 7.2h-8.2zM116 281.2l4.1 7.2h-8.2zM166.7 241l4.1 7.2h-8.2zM169.3 277.2l4.1 7.2h-8.2zM114.3 268.5l4.1 7.2h-8.2zM164.1 281.5l4.1 7.2h-8.2zM170.5 262.5l4.1 7.2h-8.2zM148.5 282.7l4.1 7.2h-8.2zM140.5 276.9l4.1 7.2h-8.2zM98.1 287.3l4.1 7.2h-8.2zM130.2 281.1l4.1 7.2h-8.2zM108.7 287.9l4.1 7.2h-8.2zM161.7 255.9l4.1 7.2h-8.2zM131.5 279.8l4.1 7.2h-8.2zM156.2 245.9l4.1 7.2h-8.2zM110.2 281l4.1 7.2h-8.2zM128.1 277.3l4.1 7.2h-8.2zM160.2 275.3l4.1 7.2h-8.2zM170.6 264.1l4.1 7.2h-8.2zM171 240.9l4.1 7.2h-8.2zM105.7 277.6l4.1 7.2h-8.2zM140.2 265.8l4.1 7.2h-8.2zM160.5 268l4.1 7.2h-8.2zM97.6 284.5l4.1 7.2h-8.2zM130.1 264.7l4.1 7.2h-8.2zM116.7 281.7l4.1 7.2h-8.2zM132.7 264l4.1 7.2h-8.2zM130.3 259.6l4.1 7.2h-8.2zM103.7 263l4.1 7.2h-8.2zM96 271.3l4.1 7.2h-8.2zM168.6 243.4l4.1 7.2h-8.2zM145 254.4l4.1 7.2h-8.2zM112.2 271.4l4.1 7.2h-8.2zM129.5 260.9l4.1 7.2h-8.2zM97.2 272l4.1 7.2h-8.2zM140.2 266.2l4.1 7.2h-8.2zM161.3 270.9l4.1 7.2h-8.2zM161.8 249.3l4.1 7.2h-8.2zM150.3 282.2l4.1 7.2h-8.2zM166.4 254l4.1 7.2h-8.2zM164.9 243.7l4.1 7.2h-8.2zM100.7 277.5l4.1 7.2h-8.2zM159.4 260.1l4.1 7.2h-8.2zM116.9 275.1l4.1 7.2h-8.2zM127.1 279.3l4.1 7.2h-8.2zM126.8 275.1l4.1 7.2h-8.2zM131.6 265.4l4.1 7.2h-8.2zM168.8 241.5l4.1 7.2h-8.2zM122.7 279.6l4.1 7.2h-8.2zM128 260.6l4.1 7.2h-8.2zM146.4 284.2l4.1 7.2h-8.2zM150.2 259.1l4.1 7.2h-8.2zM139.3 259.1l4.1 7.2h-8.2zM136.4 264.8l4.1 7.2h-8.2zM102.6 288l4.1 7.2h-8.2zM150.7 280.4l4.1 7.2h-8.2zM157.6 259.2l4.1 7.2h-8.2zM145.8 279.8l4.1 7.2h-8.2zM152.8 259.2l4.1 7.2h-8.2zM140.2 271.6l4.1 7.2h-8.2zM142.9 255.3l4.1 7.2h-8.2zM142.3 268.5l4.1 7.2h-8.2zM129.8 258.2l4.1 7.2h-8.2zM146.4 279.5l4.1 7.2h-8.2zM137.9 278.2l4.1 7.2h-8.2zM101.8 287.7l4.1 7.2h-8.2zM131.5 265l4.1 7.2h-8.2zM136.2 279.3l4.1 7.2h-8.2zM170.6 260l4.1 7.2h-8.2zM129.1 270.1l4.1 7.2h-8.2zM141.9 268l4.1 7.2h-8.2zM105.1 276.9l4.1 7.2h-8.2zM92.5 279.1l4.1 7.2h-8.2zM119.5 263.3l4.1 7.2h-8.2zM148.6 262.7l4.1 7.2h-8.2zM138.8 262l4.1 7.2h-8.2zM120.8 274.1l4.1 7.2h-8.2zM134.6 260l4.1 7.2h-8.2zM154 266.3l4.1 7.2h-8.2zM149.7 249.6l4.1 7.2h-8.2zM154.6 271.7l4.1 7.2h-8.2zM144.8 268.2l4.1 7.2h-8.2zM135.6 272.1l4.1 7.2h-8.2zM151.6 246.9l4.1 7.2h-8.2zM103.8 260.3l4.1 7.2h-8.2zM131.5 272l4.1 7.2h-8.2zM113.9 263.3l4.1 7.2h-8.2zM150.7 283.8l4.1 7.2h-8.2zM157.1 271.6l4.1 7.2h-8.2zM153.1 248.2l4.1 7.2h-8.2zM157.2 257.1l4.1 7.2h-8.2zM109.2 267.3l4.1 7.2h-8.2zM86.6 285.9l4.1 7.2h-8.2zM132.9 263.7l4.1 7.2h-8.2zM144.8 253.1l4.1 7.2h-8.2zM98.1 273.8l4.1 7.2h-8.2zM148.8 275.6l4.1 7.2h-8.2zM112.4 277.4l4.1 7.2h-8.2zM147.2 268.5l4.1 7.2h-8.2zM167.4 261l4.1 7.2h-8.2zM156.5 253.4l4.1 7.2h-8.2zM155.9 266.9l4.1 7.2h-8.2zM159.8 268.1l4.1 7.2h-8.2zM94.5 279.3l4.1 7.2h-8.2zM164.2 252.1l4.1 7.2h-8.2zM130.9 268.4l4.1 7.2h-8.2zM131.1 281l4.1 7.2h-8.2zM91.2 278.6l4.1 7.2h-8.2zM141.3 250l4.1 7.2h-8.2zM98.8 279.7l4.1 7.2h-8.2zM128.6 279.6l4.1 7.2h-8.2zM125.9 266.7l4.1 7.2h-8.2zM148.4 276.4l4.1 7.2h-8.2zM167.6 259.4l4.1 7.2h-8.2zM158.8 274l4.1 7.2h-8.2zM161.5 282l4.1 7.2h-8.2zM171.8 272.5l4.1 7.2h-8.2zM128.9 276.5l4.1 7.2h-8.2zM156.4 260.1l4.1 7.2h-8.2zM153.8 246.3l4.1 7.2h-8.2zM100.3 276.9l4.1 7.2h-8.2zM94.1 279.2l4.1 7.2h-8.2zM107.9 267.3l4.1 7.2h-8.2zM157.9 263.4l4.1 7.2h-8.2zM102.8 286.6l4.1 7.2h-8.2zM167.5 255.5l4.1 7.2h-8.2zM156.3 258l4.1 7.2h-8.2zM129.2 265.4l4.1 7.2h-8.2zM142.1 249.6l4.1 7.2h-8.2zM113.8 281.5l4.1 7.2h-8.2zM147.6 270.6l4.1 7.2h-8.2zM163.1 265.5l4.1 7.2h-8.2zM103.4 266.5l4.1 7.2h-8.2zM91.9 280l4.1 7.2h-8.2zM160.8 282.9l4.1 7.2h-8.2zM124.5 262.8l4.1 7.2h-8.2zM171.6 269.5l4.1 7.2h-8.2zM161.9 253.3l4.1 7.2h-8.2zM155.1 259.8l4.1 7.2h-8.2zM167.8 241.2l4.1 7.2h-8.2zM158.8 247.9l4.1 7.2h-8.2zM130.8 266l4.1 7.2h-8.2zM92.6 283.5l4.1 7.2h-8.2zM123.3 276.8l4.1 7.2h-8.2zM112.6 275.2l4.1 7.2h-8.2zM159.1 273.3l4.1 7.2h-8.2zM147.3 249.6l4.1 7.2h-8.2zM132.8 262.2l4.1 7.2h-8.2zM156.1 247.8l4.1 7.2h-8.2zM138 252.6l4.1 7.2h-8.2zM114.2 266.8l4.1 7.2h-8.2zM115.8 274l4.1 7.2h-8.2zM149.4 254.8l4.1 7.2h-8.2zM170.6 268.1l4.1 7.2h-8.2zM148.7 254.9l4.1 7.2h-8.2zM144.1 276.4l4.1 7.2h-8.2zM159.9 269.8l4.1 7.2h-8.2zM168.1 260.4l4.1 7.2h-8.2zM127.6 272.9l4.1 7.2h-8.2zM152.9 282.8l4.1 7.2h-8.2zM116.7 275.9l4.1 7.2h-8.2zM142.4 270.7l4.1 7.2h-8.2zM110.9 273.1l4.1 7.2h-8.2zM127.4 281l4.1 7.2h-8.2zM158.7 270.9l4.1 7.2h-8.2zM92.7 279.7l4.1 7.2h-8.2zM166.4 267.3l4.1 7.2h-8.2zM111.9 264.6l4.1 7.2h-8.2zM91 276.7l4.1 7.2h-8.2zM147.8 283.7l4.1 7.2h-8.2zM134.1 275.8l4.1 7.2h-8.2zM130.8 268l4.1 7.2h-8.2zM157.9 270.3l4.1 7.2h-8.2zM89.1 283l4.1 7.2h-8.2zM105.6 287.2l4.1 7.2h-8.2zM100.8 268.7l4.1 7.2h-8.2zM159.2 246.6l4.1 7.2h-8.2zM142.2 253.6l4.1 7.2h-8.2zM143.5 278.1l4.1 7.2h-8.2zM114.8 269.8l4.1 7.2h-8.2zM133.2 255l4.1 7.2h-8.2zM172 270.2l4.1 7.2h-8.2zM123.5 259.5l4.1 7.2h-8.2zM138.8 275.3l4.1 7.2h-8.2zM152 278.9l4.1 7.2h-8.2zM117.5 260.8l4.1 7.2h-8.2zM129.1 266l4.1 7.2h-8.2zM149.5 270.1l4.1 7.2h-8.2zM151.4 253.4l4.1 7.2h-8.2zM126.8 258.7l4.1 7.2h-8.2zM118.7 281.9l4.1 7.2h-8.2zM99 278.6l4.1 7.2h-8.2zM86.8 281.2l4.1 7.2h-8.2zM107.5 264.4l4.1 7.2h-8.2zM165.8 247.2l4.1 7.2h-8.2zM160 256.2l4.1 7.2h-8.2zM97 272.1l4.1 7.2h-8.2zM96 286.2l4.1 7.2h-8.2zM148.9 253.9l4.1 7.2h-8.2zM147.3 247.2l4.1 7.2h-8.2zM142.8 281.1l4.1 7.2h-8.2zM113.9 273.8l4.1 7.2h-8.2zM164.6 269.7l4.1 7.2h-8.2zM168.7 274.1l4.1 7.2h-8.2zM104.4 272.5l4.1 7.2h-8.2zM120.6 266.2l4.1 7.2h-8.2zM136.4 252.3l4.1 7.2h-8.2zM101.8 281.8l4.1 7.2h-8.2zM151.8 250.1l4.1 7.2h-8.2zM104.6 267.3l4.1 7.2h-8.2zM95.4 287.2l4.1 7.2h-8.2zM122.7 278.8l4.1 7.2h-8.2zM132 272.8l4.1 7.2h-8.2zM112.6 273.6l4.1 7.2h-8.2zM154.5 265.5l4.1 7.2h-8.2zM144.7 265.7l4.1 7.2h-8.2zM171.2 246l4.1 7.2h-8.2zM154.2 245.5l4.1 7.2h-8.2zM120.6 280.1l4.1 7.2h-8.2zM154.9 281.1l4.1 7.2h-8.2zM98.9 269.1l4.1 7.2h-8.2zM136.1 276.8l4.1 7.2h-8.2zM120 261.2l4.1 7.2h-8.2zM103 281.6l4.1 7.2h-8.2zM133.3 267l4.1 7.2h-8.2zM155.4 249.6l4.1 7.2h-8.2zM138.5 266l4.1 7.2h-8.2zM103.2 269.6l4.1 7.2h-8.2zM85.8 282.8l4.1 7.2h-8.2zM92.8 275.4l4.1 7.2h-8.2zM159.3 280.9l4.1 7.2h-8.2zM125.5 279.4l4.1 7.2h-8.2zM122.1 278.5l4.1 7.2h-8.2zM165.1 244.1l4.1 7.2h-8.2zM152.6 277.9l4.1 7.2h-8.2zM111 275.6l4.1 7.2h-8.2zM162.6 269.7l4.1 7.2h-8.2zM164.8 262.4l4.1 7.2h-8.2zM115.9 284.1l4.1 7.2h-8.2zM114.7 280.6l4.1 7.2h-8.2zM162.4 247.7l4.1 7.2h-8.2zM145.4 256.7l4.1 7.2h-8.2zM147.8 251.4l4.1 7.2h-8.2zM169.7 256.5l4.1 7.2h-8.2zM152.8 277.3l4.1 7.2h-8.2zM85.2 286.3l4.1 7.2h-8.2zM109.2 280l4.1 7.2h-8.2zM147 250.9l4.1 7.2h-8.2zM148.8 274l4.1 7.2h-8.2zM104.8 276.7l4.1 7.2h-8.2zM162.7 248.9l4.1 7.2h-8.2zM133 282.1l4.1 7.2h-8.2zM98.4 275.3l4.1 7.2h-8.2zM163 249.4l4.1 7.2h-8.2zM109.5 264.4l4.1 7.2h-8.2zM116.8 263.1l4.1 7.2h-8.2zM93.5 274l4.1 7.2h-8.2zM146.4 267.6l4.1 7.2h-8.2zM135 262.8l4.1 7.2h-8.2zM165.3 268.3l4.1 7.2h-8.2zM102.9 274.1l4.1 7.2h-8.2zM112.9 268.9l4.1 7.2h-8.2zM139.1 271.4l4.1 7.2h-8.2zM104.3 283.3l4.1 7.2h-8.2zM164.1 257.8l4.1 7.2h-8.2zM144.3 249.4l4.1 7.2h-8.2zM125.9 273.1l4.1 7.2h-8.2zM131.3 271.6l4.1 7.2h-8.2zM111.3 286.6l4.1 7.2h-8.2zM108 276.8l4.1 7.2h-8.2zM145.8 275.2l4.1 7.2h-8.2zM125.6 268.2l4.1 7.2h-8.2zM151.1 266.5l4.1 7.2h-8.2zM153.4 263.4l4.1 7.2h-8.2zM93.1 285.4l4.1 7.2h-8.2zM102.1 265l4.1 7.2h-8.2zM155.8 258.4l4.1 7.2h-8.2zM147.9 250.4l4.1 7.2h-8.2zM147.9 254.7l4.1 7.2h-8.2zM110.1 279.3l4.1 7.2h-8.2zM160.4 283.3l4.1 7.2h-8.2zM133.2 260l4.1 7.2h-8.2zM147 271.6l4.1 7.2h-8.2zM159.3 281.7l4.1 7.2h-8.2zM143.3 249.2l4.1 7.2h-8.2zM145.1 259.9l4.1 7.2h-8.2zM186.9 263l4.1 7.2h-8.2zM182.3 269.3l4.1 7.2h-8.2zM191.9 260.7l4.1 7.2h-8.2zM188.8 263.2l4.1 7.2h-8.2zM183.8 252.6l4.1 7.2h-8.2zM179.9 269.5l4.1 7.2h-8.2zM185.2 253.2l4.1 7.2h-8.2zM189.7 255.6l4.1 7.2h-8.2zM184.2 250.9l4.1 7.2h-8.2zM191.9 263.7l4.1 7.2h-8.2zM184.4 257l4.1 7.2h-8.2zM194.6 256.5l4.1 7.2h-8.2zM185.9 257.3l4.1 7.2h-8.2zM181.1 253.6l4.1 7.2h-8.2z"/></clipPath><path fill="#FF0000" fill-opacity="0.26" clip-path="url(#tc2)" d="M77.7 291.9L85.2 290.2L92.6 288.4L100.1 286.6L107.5 284.6L115 282.5L122.4 280.2L129.9 277.9L137.3 275.4L144.8 272.9L152.2 270.3L159.7 267.7L167.1 265.1L174.6 262.4L182 259.8L189.4 257.1L196.9 254.5L204.4 251.8L211.8 249.1L219.2 246.4L226.7 243.7L234.2 241.1L241.6 238.4L249.1 235.7L256.5 233L256.5 257.4L249.1 258.9L241.6 260.4L234.2 261.9L226.7 263.4L219.2 264.9L211.8 266.4L204.4 268L196.9 269.5L189.4 271L182 272.5L174.6 274.1L167.1 275.6L159.7 277.2L152.2 278.8L144.8 280.4L137.3 282.1L129.9 283.8L122.4 285.6L115 287.6L107.5 289.6L100.1 291.8L92.6 294.2L85.2 296.6L77.7 299.1Z"/>
<path stroke="#FF2200" stroke-width="3.0" stroke-linecap="round" d="M77.7 295.5L256.5 245.2"/>
<path fill="#006400" fill-opacity="0.3" d="M78 283.8L89.1 281.3L100.2 278.9L111.4 276.4L122.5 273.8L133.6 271.2L144.8 268.6L155.9 265.8L167 262.9L178.1 259.9L189.2 256.9L200.4 253.8L211.5 250.7L222.6 247.6L233.8 244.4L244.9 241.3L256 238.1L267.1 234.9L278.2 231.7L289.4 228.5L300.5 225.3L311.6 222.1L322.8 218.9L333.9 215.7L345 212.5L345 228.5L333.9 230.9L322.8 233.2L311.6 235.6L300.5 237.9L289.4 240.3L278.2 242.7L267.1 245L256 247.4L244.9 249.8L233.8 252.2L222.6 254.6L211.5 257L200.4 259.5L189.2 262L178.1 264.5L167 267.1L155.9 269.8L144.8 272.6L133.6 275.4L122.5 278.4L111.4 281.4L100.2 284.5L89.1 287.6L78 290.7Z"/>
<path stroke="#006400" stroke-width="3.0" stroke-linecap="round" d="M78 287.2L345 220.5"/>
</g>
<rect x="59.4" y="183" width="285.6" height="123" fill="none" stroke="#3a3a3a" stroke-width="1.4"/>
<path d="M71.9 306V310M126.2 306V310M180.5 306V310M234.8 306V310M289.1 306V310M343.4 306V310M55.4 301.2H59.4M55.4 269.97H59.4M55.4 238.73H59.4M55.4 207.5H59.4" stroke="#3a3a3a" stroke-width="1.4" fill="none"/>
<g><text transform="translate(71.9 322.6) scale(1 1.1)" text-anchor="middle">0</text></g>
<g><text transform="translate(126.2 322.6) scale(1 1.1)" text-anchor="middle">2500</text></g>
<g><text transform="translate(180.5 322.6) scale(1 1.1)" text-anchor="middle">5000</text></g>
<g><text transform="translate(234.8 322.6) scale(1 1.1)" text-anchor="middle">7500</text></g>
<g><text transform="translate(289.1 322.6) scale(1 1.1)" text-anchor="middle">10000</text></g>
<g clip-path="url(#clipL)"><text transform="translate(343.4 322.6) scale(1 1.1)" text-anchor="middle">12500</text></g>
<text transform="translate(51.6 305.6) scale(1 1.1)" text-anchor="end">0</text>
<text transform="translate(51.6 274.37) scale(1 1.1)" text-anchor="end">25</text>
<text transform="translate(51.6 243.13) scale(1 1.1)" text-anchor="end">50</text>
<text transform="translate(51.6 211.9) scale(1 1.1)" text-anchor="end">75</text>
<clipPath id="clipe"><rect x="398.5" y="183" width="285" height="122.8"/></clipPath>
<rect x="398.5" y="183" width="285" height="122.8" fill="#fff"/>
<path d="M433.1 183V305.8M507.5 183V305.8M581.9 183V305.8M656.3 183V305.8M398.5 285.23H683.5M398.5 261.68H683.5M398.5 238.12H683.5M398.5 214.58H683.5M398.5 191.03H683.5" stroke="#EDEDED" stroke-width="0.7" fill="none"/>
<path d="M470.3 183V305.8M544.7 183V305.8M619.1 183V305.8M398.5 297H683.5M398.5 273.45H683.5M398.5 249.9H683.5M398.5 226.35H683.5M398.5 202.8H683.5" stroke="#EBEBEB" stroke-width="1.2" fill="none"/>
<g clip-path="url(#clipe)">
<path fill="#FF2200" d="M471.2 187.6a3.35 3.35 0 1 0 6.7 0a3.35 3.35 0 1 0 -6.7 0zM510.6 200.4a3.35 3.35 0 1 0 6.7 0a3.35 3.35 0 1 0 -6.7 0zM526.4 213.9a3.35 3.35 0 1 0 6.7 0a3.35 3.35 0 1 0 -6.7 0zM496.8 223.6a3.35 3.35 0 1 0 6.7 0a3.35 3.35 0 1 0 -6.7 0zM467 238.7a3.35 3.35 0 1 0 6.7 0a3.35 3.35 0 1 0 -6.7 0zM478.1 237.5a3.35 3.35 0 1 0 6.7 0a3.35 3.35 0 1 0 -6.7 0zM509.4 235.2a3.35 3.35 0 1 0 6.7 0a3.35 3.35 0 1 0 -6.7 0zM506 243.3a3.35 3.35 0 1 0 6.7 0a3.35 3.35 0 1 0 -6.7 0zM508.3 247.5a3.35 3.35 0 1 0 6.7 0a3.35 3.35 0 1 0 -6.7 0zM494.4 245.2a3.35 3.35 0 1 0 6.7 0a3.35 3.35 0 1 0 -6.7 0zM519.4 255.4a3.35 3.35 0 1 0 6.7 0a3.35 3.35 0 1 0 -6.7 0zM531.5 252.6a3.35 3.35 0 1 0 6.7 0a3.35 3.35 0 1 0 -6.7 0zM533.9 256.1a3.35 3.35 0 1 0 6.7 0a3.35 3.35 0 1 0 -6.7 0zM466.1 268.8a3.35 3.35 0 1 0 6.7 0a3.35 3.35 0 1 0 -6.7 0zM464.2 272.3a3.35 3.35 0 1 0 6.7 0a3.35 3.35 0 1 0 -6.7 0zM501.8 288.6a3.35 3.35 0 1 0 6.7 0a3.35 3.35 0 1 0 -6.7 0zM524.5 290.9a3.35 3.35 0 1 0 6.7 0a3.35 3.35 0 1 0 -6.7 0zM531.5 289.7a3.35 3.35 0 1 0 6.7 0a3.35 3.35 0 1 0 -6.7 0zM515.4 282.8a3.35 3.35 0 1 0 6.7 0a3.35 3.35 0 1 0 -6.7 0zM544 205a3.35 3.35 0 1 0 6.7 0a3.35 3.35 0 1 0 -6.7 0zM541 207.4a3.35 3.35 0 1 0 6.7 0a3.35 3.35 0 1 0 -6.7 0zM647.8 235.2a3.35 3.35 0 1 0 6.7 0a3.35 3.35 0 1 0 -6.7 0zM555.6 261.9a3.35 3.35 0 1 0 6.7 0a3.35 3.35 0 1 0 -6.7 0zM546.4 262.3a3.35 3.35 0 1 0 6.7 0a3.35 3.35 0 1 0 -6.7 0zM583.4 278.5a3.35 3.35 0 1 0 6.7 0a3.35 3.35 0 1 0 -6.7 0zM581.1 290.8a3.35 3.35 0 1 0 6.7 0a3.35 3.35 0 1 0 -6.7 0zM587.4 289.7a3.35 3.35 0 1 0 6.7 0a3.35 3.35 0 1 0 -6.7 0zM593.9 290.1a3.35 3.35 0 1 0 6.7 0a3.35 3.35 0 1 0 -6.7 0zM549.4 288.5a3.35 3.35 0 1 0 6.7 0a3.35 3.35 0 1 0 -6.7 0zM541 293.2a3.35 3.35 0 1 0 6.7 0a3.35 3.35 0 1 0 -6.7 0zM545.2 281.6a3.35 3.35 0 1 0 6.7 0a3.35 3.35 0 1 0 -6.7 0zM464 268.5a3.35 3.35 0 1 0 6.7 0a3.35 3.35 0 1 0 -6.7 0zM467.1 240.6a3.35 3.35 0 1 0 6.7 0a3.35 3.35 0 1 0 -6.7 0zM477.8 240.6a3.35 3.35 0 1 0 6.7 0a3.35 3.35 0 1 0 -6.7 0zM522.4 289.5a3.35 3.35 0 1 0 6.7 0a3.35 3.35 0 1 0 -6.7 0zM534.6 282.5a3.35 3.35 0 1 0 6.7 0a3.35 3.35 0 1 0 -6.7 0zM525 282.5a3.35 3.35 0 1 0 6.7 0a3.35 3.35 0 1 0 -6.7 0zM518.9 287.8a3.35 3.35 0 1 0 6.7 0a3.35 3.35 0 1 0 -6.7 0z"/>
<path fill="#006400" d="M490.8 213.8l4.1 7.2h-8.2zM490.8 218.4l4.1 7.2h-8.2zM505.2 216.1l4.1 7.2h-8.2zM497.8 223.1l4.1 7.2h-8.2zM488.5 233.5l4.1 7.2h-8.2zM488.5 238.2l4.1 7.2h-8.2zM493.1 240.5l4.1 7.2h-8.2zM487.3 241.6l4.1 7.2h-8.2zM522.6 239.8l4.1 7.2h-8.2zM500.1 246.3l4.1 7.2h-8.2zM511.7 252.1l4.1 7.2h-8.2zM530.3 253.2l4.1 7.2h-8.2zM474.6 246.3l4.1 7.2h-8.2zM458.8 259l4.1 7.2h-8.2zM458.8 264.8l4.1 7.2h-8.2zM451.8 267.2l4.1 7.2h-8.2zM446 272.9l4.1 7.2h-8.2zM458.8 270.6l4.1 7.2h-8.2zM452.5 278.3l4.1 7.2h-8.2zM458.8 289.2l4.1 7.2h-8.2zM487.3 283.4l4.1 7.2h-8.2zM523.3 276.5l4.1 7.2h-8.2zM550.9 228.2l4.1 7.2h-8.2zM586.4 235.8l4.1 7.2h-8.2zM565.5 247l4.1 7.2h-8.2zM612.8 248.1l4.1 7.2h-8.2zM634.4 255.1l4.1 7.2h-8.2zM548.6 252.7l4.1 7.2h-8.2zM581.5 259.7l4.1 7.2h-8.2zM585.7 260.2l4.1 7.2h-8.2zM589.1 263.6l4.1 7.2h-8.2zM569.4 273.4l4.1 7.2h-8.2zM638.3 269l4.1 7.2h-8.2zM560.1 281l4.1 7.2h-8.2zM554.4 279.2l4.1 7.2h-8.2zM542.8 278.7l4.1 7.2h-8.2zM545.1 272.9l4.1 7.2h-8.2zM532.3 274.5l4.1 7.2h-8.2zM553.2 268.3l4.1 7.2h-8.2zM532.3 254.4l4.1 7.2h-8.2zM461.2 258.3l4.1 7.2h-8.2zM461.2 270.7l4.1 7.2h-8.2zM461.2 289.3l4.1 7.2h-8.2zM474.9 243l4.1 7.2h-8.2zM486 237.5l4.1 7.2h-8.2zM511.5 249.8l4.1 7.2h-8.2zM522.3 273.3l4.1 7.2h-8.2zM531 269.8l4.1 7.2h-8.2zM552 280.3l4.1 7.2h-8.2zM522.3 280.3l4.1 7.2h-8.2zM534.6 266.3l4.1 7.2h-8.2zM527.6 278.5l4.1 7.2h-8.2zM494.1 271.9l4.1 7.2h-8.2zM482.2 275.4l4.1 7.2h-8.2zM475.9 274.6l4.1 7.2h-8.2zM504.6 260.5l4.1 7.2h-8.2zM534.5 258.4l4.1 7.2h-8.2zM479.7 254.9l4.1 7.2h-8.2zM480.6 249.5l4.1 7.2h-8.2zM508.3 265.3l4.1 7.2h-8.2zM491.3 248.8l4.1 7.2h-8.2zM481.2 277.3l4.1 7.2h-8.2zM489.7 258.1l4.1 7.2h-8.2zM512.9 279.2l4.1 7.2h-8.2zM487.7 247.5l4.1 7.2h-8.2zM511.2 265.2l4.1 7.2h-8.2zM479.3 283.2l4.1 7.2h-8.2zM509.5 272.4l4.1 7.2h-8.2zM472.1 258.2l4.1 7.2h-8.2zM498.7 277.5l4.1 7.2h-8.2zM497.9 276.9l4.1 7.2h-8.2zM473.8 248.4l4.1 7.2h-8.2zM489.8 273.3l4.1 7.2h-8.2zM528.2 261.9l4.1 7.2h-8.2zM501.9 276.9l4.1 7.2h-8.2zM485.6 256.9l4.1 7.2h-8.2zM510.3 269.6l4.1 7.2h-8.2zM475.2 273.8l4.1 7.2h-8.2zM492.8 252.6l4.1 7.2h-8.2zM474.2 280.6l4.1 7.2h-8.2zM480.3 248.3l4.1 7.2h-8.2zM478.6 260.9l4.1 7.2h-8.2zM516.4 264.2l4.1 7.2h-8.2zM528.6 258.3l4.1 7.2h-8.2zM503.8 273.5l4.1 7.2h-8.2zM499.2 273.5l4.1 7.2h-8.2zM474.1 276.6l4.1 7.2h-8.2zM516.1 266.9l4.1 7.2h-8.2zM477.3 280l4.1 7.2h-8.2zM473.8 259.4l4.1 7.2h-8.2zM475.4 257.3l4.1 7.2h-8.2zM487.7 259.5l4.1 7.2h-8.2zM517.6 265l4.1 7.2h-8.2zM483 276.4l4.1 7.2h-8.2zM480 278.1l4.1 7.2h-8.2zM491.9 258.3l4.1 7.2h-8.2zM525.5 257.5l4.1 7.2h-8.2zM479.7 249.3l4.1 7.2h-8.2zM490.6 272.5l4.1 7.2h-8.2zM492.3 276.1l4.1 7.2h-8.2zM511.2 262.1l4.1 7.2h-8.2zM485.5 247.8l4.1 7.2h-8.2zM487 261.8l4.1 7.2h-8.2zM493.1 275.4l4.1 7.2h-8.2zM487.2 282.8l4.1 7.2h-8.2zM507.9 258.4l4.1 7.2h-8.2zM509.8 279.7l4.1 7.2h-8.2zM505 254.4l4.1 7.2h-8.2zM472.1 266.6l4.1 7.2h-8.2zM478.9 257l4.1 7.2h-8.2zM514.8 264l4.1 7.2h-8.2zM528.5 253.9l4.1 7.2h-8.2zM493.7 271.5l4.1 7.2h-8.2zM495.4 278.6l4.1 7.2h-8.2zM482.9 272.9l4.1 7.2h-8.2zM515.6 254.6l4.1 7.2h-8.2zM495.3 264.9l4.1 7.2h-8.2zM497.6 262.1l4.1 7.2h-8.2zM500.4 272l4.1 7.2h-8.2zM518.8 255.3l4.1 7.2h-8.2zM488.8 257.7l4.1 7.2h-8.2zM515.6 279.3l4.1 7.2h-8.2zM498.4 258.3l4.1 7.2h-8.2zM532.3 259.6l4.1 7.2h-8.2zM506.2 276.7l4.1 7.2h-8.2zM508.3 280.9l4.1 7.2h-8.2zM493.2 250l4.1 7.2h-8.2zM496.2 254.1l4.1 7.2h-8.2zM485.2 260.2l4.1 7.2h-8.2zM514.6 255.5l4.1 7.2h-8.2zM478.8 249.9l4.1 7.2h-8.2zM484.2 282.5l4.1 7.2h-8.2zM477.5 275.2l4.1 7.2h-8.2zM473 276.8l4.1 7.2h-8.2zM484.7 276.5l4.1 7.2h-8.2zM472 277.4l4.1 7.2h-8.2zM505.1 262.4l4.1 7.2h-8.2zM491.1 272.2l4.1 7.2h-8.2zM509.5 254.1l4.1 7.2h-8.2zM517.3 268.3l4.1 7.2h-8.2zM505.8 267.5l4.1 7.2h-8.2zM505.3 276.8l4.1 7.2h-8.2zM509 265.1l4.1 7.2h-8.2zM504.5 278.3l4.1 7.2h-8.2zM498.5 247.7l4.1 7.2h-8.2zM529.9 256.1l4.1 7.2h-8.2zM493.8 282.1l4.1 7.2h-8.2zM525.9 255.2l4.1 7.2h-8.2zM502 270.9l4.1 7.2h-8.2zM478.9 245.6l4.1 7.2h-8.2zM517.4 274.5l4.1 7.2h-8.2zM508.8 255.6l4.1 7.2h-8.2zM512.1 252.9l4.1 7.2h-8.2zM490.7 247.7l4.1 7.2h-8.2zM470.4 258.9l4.1 7.2h-8.2zM487 278.5l4.1 7.2h-8.2zM469.8 258.4l4.1 7.2h-8.2zM531.6 254.7l4.1 7.2h-8.2zM483.5 280.8l4.1 7.2h-8.2zM491.6 258.9l4.1 7.2h-8.2zM477.3 251.7l4.1 7.2h-8.2zM476 272.2l4.1 7.2h-8.2zM501.3 255.6l4.1 7.2h-8.2zM476.9 261.5l4.1 7.2h-8.2zM492.1 250.2l4.1 7.2h-8.2zM512.8 270.8l4.1 7.2h-8.2zM499.5 273.4l4.1 7.2h-8.2zM492.8 259.8l4.1 7.2h-8.2zM489.9 277.7l4.1 7.2h-8.2zM535.3 261.7l4.1 7.2h-8.2zM470.9 267.6l4.1 7.2h-8.2zM508.5 271.7l4.1 7.2h-8.2zM522.5 261.3l4.1 7.2h-8.2zM505.6 275.9l4.1 7.2h-8.2zM509.6 257.8l4.1 7.2h-8.2zM474.5 270.6l4.1 7.2h-8.2zM509.5 252.2l4.1 7.2h-8.2zM516.4 269l4.1 7.2h-8.2zM494.5 261.4l4.1 7.2h-8.2zM506.2 260.4l4.1 7.2h-8.2zM515.1 276.1l4.1 7.2h-8.2zM509.9 256.9l4.1 7.2h-8.2zM514.6 262.4l4.1 7.2h-8.2zM487.5 260.1l4.1 7.2h-8.2zM483.7 273.1l4.1 7.2h-8.2zM521.2 257.4l4.1 7.2h-8.2zM473.7 265.8l4.1 7.2h-8.2zM474.9 257.1l4.1 7.2h-8.2zM474 275.9l4.1 7.2h-8.2zM504.9 281.5l4.1 7.2h-8.2zM481.6 261.6l4.1 7.2h-8.2zM503.7 278.6l4.1 7.2h-8.2zM509.6 280.9l4.1 7.2h-8.2zM516.1 257.9l4.1 7.2h-8.2zM483.7 255.5l4.1 7.2h-8.2zM523.8 270.8l4.1 7.2h-8.2zM509.7 258l4.1 7.2h-8.2zM491 257.5l4.1 7.2h-8.2zM483.4 263l4.1 7.2h-8.2zM491.4 267.2l4.1 7.2h-8.2zM478.9 282.7l4.1 7.2h-8.2zM514.5 258.1l4.1 7.2h-8.2zM486.3 280.7l4.1 7.2h-8.2zM488.5 243.5l4.1 7.2h-8.2zM511.5 259.4l4.1 7.2h-8.2zM488.5 272.8l4.1 7.2h-8.2zM483.8 245.8l4.1 7.2h-8.2zM524.7 265.9l4.1 7.2h-8.2zM491.3 274.2l4.1 7.2h-8.2zM489.9 275.7l4.1 7.2h-8.2zM497.2 267.4l4.1 7.2h-8.2zM511.5 278.5l4.1 7.2h-8.2zM497.6 266l4.1 7.2h-8.2zM487.7 283.2l4.1 7.2h-8.2zM518.4 257.9l4.1 7.2h-8.2zM471.3 267l4.1 7.2h-8.2zM487.8 258.6l4.1 7.2h-8.2zM517.2 261.8l4.1 7.2h-8.2zM510.3 274.7l4.1 7.2h-8.2zM481.8 243.1l4.1 7.2h-8.2zM479.3 243.3l4.1 7.2h-8.2zM501 252.3l4.1 7.2h-8.2zM505.4 250.5l4.1 7.2h-8.2zM532.4 259.1l4.1 7.2h-8.2zM483.8 248l4.1 7.2h-8.2zM489.2 274l4.1 7.2h-8.2zM527.3 258.3l4.1 7.2h-8.2zM502.8 273.7l4.1 7.2h-8.2zM512.5 256.5l4.1 7.2h-8.2zM479.7 252.7l4.1 7.2h-8.2zM512.4 276.2l4.1 7.2h-8.2zM497.5 274.2l4.1 7.2h-8.2zM506.4 279.9l4.1 7.2h-8.2zM505.7 271.3l4.1 7.2h-8.2zM470.7 278.4l4.1 7.2h-8.2zM516.2 263.5l4.1 7.2h-8.2zM519.2 263.2l4.1 7.2h-8.2zM522.5 262l4.1 7.2h-8.2zM487.3 262.3l4.1 7.2h-8.2zM492.2 250.1l4.1 7.2h-8.2zM521 270.5l4.1 7.2h-8.2zM531.1 262.8l4.1 7.2h-8.2zM475 264.6l4.1 7.2h-8.2zM483.2 273.5l4.1 7.2h-8.2zM521.2 267.9l4.1 7.2h-8.2zM486 282.5l4.1 7.2h-8.2zM483.9 280.2l4.1 7.2h-8.2zM491.3 266.6l4.1 7.2h-8.2zM478.1 261l4.1 7.2h-8.2zM484.3 253.3l4.1 7.2h-8.2zM521.4 267.7l4.1 7.2h-8.2zM475.1 245.4l4.1 7.2h-8.2zM511 268.5l4.1 7.2h-8.2zM492.8 252l4.1 7.2h-8.2zM490.9 263.5l4.1 7.2h-8.2zM468.6 261.5l4.1 7.2h-8.2zM490.9 280.4l4.1 7.2h-8.2zM515.8 272.9l4.1 7.2h-8.2zM514.3 277.6l4.1 7.2h-8.2zM491.4 263.4l4.1 7.2h-8.2zM478.5 249.7l4.1 7.2h-8.2zM499.6 281.6l4.1 7.2h-8.2zM495.5 264.6l4.1 7.2h-8.2zM482.5 275.8l4.1 7.2h-8.2zM510.9 279.8l4.1 7.2h-8.2zM475 248l4.1 7.2h-8.2zM487.6 263.9l4.1 7.2h-8.2zM483.8 263.7l4.1 7.2h-8.2zM526.1 265l4.1 7.2h-8.2zM471.9 264.9l4.1 7.2h-8.2zM488.3 278.3l4.1 7.2h-8.2zM519.1 273l4.1 7.2h-8.2zM482.5 257.6l4.1 7.2h-8.2zM493.4 272.8l4.1 7.2h-8.2zM504.8 255.8l4.1 7.2h-8.2zM473.9 260.3l4.1 7.2h-8.2zM509.1 272.1l4.1 7.2h-8.2zM512.1 276.7l4.1 7.2h-8.2zM518.9 260.6l4.1 7.2h-8.2zM508.7 271.9l4.1 7.2h-8.2zM495.1 268.2l4.1 7.2h-8.2zM495.3 265.4l4.1 7.2h-8.2zM478.7 272.7l4.1 7.2h-8.2zM528 259.9l4.1 7.2h-8.2zM496.1 257l4.1 7.2h-8.2zM489.3 254.6l4.1 7.2h-8.2zM507.2 259l4.1 7.2h-8.2zM509.7 259.7l4.1 7.2h-8.2zM517.8 274l4.1 7.2h-8.2zM493.1 272.6l4.1 7.2h-8.2zM483 278.2l4.1 7.2h-8.2zM480.6 257.7l4.1 7.2h-8.2zM490.6 270.9l4.1 7.2h-8.2zM489.1 260.8l4.1 7.2h-8.2zM476.2 248.9l4.1 7.2h-8.2zM476.2 251.3l4.1 7.2h-8.2zM485.8 265l4.1 7.2h-8.2zM530.6 256l4.1 7.2h-8.2zM488.9 261.7l4.1 7.2h-8.2zM505.9 269.3l4.1 7.2h-8.2zM473.8 248.9l4.1 7.2h-8.2zM472.8 276.2l4.1 7.2h-8.2zM501.5 262.7l4.1 7.2h-8.2zM516.9 277.5l4.1 7.2h-8.2zM495.3 280.8l4.1 7.2h-8.2zM476.7 248l4.1 7.2h-8.2zM489.8 254.9l4.1 7.2h-8.2zM531.5 263.3l4.1 7.2h-8.2zM496.7 278l4.1 7.2h-8.2zM497 254l4.1 7.2h-8.2zM490.6 267l4.1 7.2h-8.2zM516.6 262.8l4.1 7.2h-8.2zM482.8 270.4l4.1 7.2h-8.2zM479.1 245.8l4.1 7.2h-8.2zM512.3 259.7l4.1 7.2h-8.2zM472.4 268.5l4.1 7.2h-8.2zM487.8 276.4l4.1 7.2h-8.2zM477.2 263l4.1 7.2h-8.2zM495.5 250.2l4.1 7.2h-8.2zM489.5 248.2l4.1 7.2h-8.2zM487.4 260.3l4.1 7.2h-8.2zM494 270.7l4.1 7.2h-8.2zM530.1 263.3l4.1 7.2h-8.2zM479.8 263.5l4.1 7.2h-8.2zM476.1 279.4l4.1 7.2h-8.2zM478.3 279.2l4.1 7.2h-8.2zM470.7 272.4l4.1 7.2h-8.2zM477 275.4l4.1 7.2h-8.2zM487.9 249.7l4.1 7.2h-8.2zM506.6 275.3l4.1 7.2h-8.2zM520.1 268.7l4.1 7.2h-8.2zM516.6 271.7l4.1 7.2h-8.2zM516.1 271.5l4.1 7.2h-8.2zM489.7 254.7l4.1 7.2h-8.2zM516.2 261.7l4.1 7.2h-8.2zM533.3 259.3l4.1 7.2h-8.2zM475.6 279.9l4.1 7.2h-8.2zM496.2 275.7l4.1 7.2h-8.2zM471.1 271.8l4.1 7.2h-8.2zM473.7 278.3l4.1 7.2h-8.2zM476.9 252.4l4.1 7.2h-8.2zM525.4 262.8l4.1 7.2h-8.2zM496.4 281.6l4.1 7.2h-8.2zM504.4 265.9l4.1 7.2h-8.2zM486.1 274.7l4.1 7.2h-8.2zM473.8 247.2l4.1 7.2h-8.2zM535.3 255.3l4.1 7.2h-8.2zM476 276.6l4.1 7.2h-8.2zM524.3 260.2l4.1 7.2h-8.2zM515.9 258.4l4.1 7.2h-8.2zM487.4 274l4.1 7.2h-8.2zM517.2 262.2l4.1 7.2h-8.2zM470.6 263.1l4.1 7.2h-8.2zM519.1 269.7l4.1 7.2h-8.2zM479.6 265.2l4.1 7.2h-8.2zM488.4 269.7l4.1 7.2h-8.2zM471 259l4.1 7.2h-8.2zM508.4 255.2l4.1 7.2h-8.2zM485.1 247.3l4.1 7.2h-8.2zM490.6 243.7l4.1 7.2h-8.2zM473.4 270.4l4.1 7.2h-8.2zM488.2 258.1l4.1 7.2h-8.2zM476 246l4.1 7.2h-8.2zM526.5 259.4l4.1 7.2h-8.2zM504.5 256.6l4.1 7.2h-8.2zM499.3 277l4.1 7.2h-8.2zM484.6 270.4l4.1 7.2h-8.2zM502.6 264.9l4.1 7.2h-8.2zM496.6 248.1l4.1 7.2h-8.2zM495.6 267.8l4.1 7.2h-8.2zM519.5 267.2l4.1 7.2h-8.2zM511 267.4l4.1 7.2h-8.2zM478.5 248.1l4.1 7.2h-8.2zM493.1 269l4.1 7.2h-8.2zM507.3 271.7l4.1 7.2h-8.2zM481.1 278.8l4.1 7.2h-8.2zM479.2 270.1l4.1 7.2h-8.2zM520.9 253.1l4.1 7.2h-8.2zM495.7 281.8l4.1 7.2h-8.2zM501.3 248.8l4.1 7.2h-8.2zM480 276.1l4.1 7.2h-8.2zM500.8 265.8l4.1 7.2h-8.2z"/>
<path fill="#FF0000" fill-opacity="0.3" d="M467.6 246.8L475.2 248.5L482.9 250.2L490.5 251.7L498.2 253.2L505.8 254.5L513.5 255.7L521.1 256.8L528.8 257.7L536.4 258.5L544.1 259.2L551.7 259.8L559.4 260.4L567 260.8L574.6 261.2L582.3 261.6L589.9 261.9L597.6 262.2L605.2 262.5L612.9 262.8L620.5 263.1L628.2 263.3L635.8 263.5L643.5 263.8L651.1 264L651.1 300.4L643.5 298.4L635.8 296.4L628.2 294.4L620.5 292.5L612.9 290.5L605.2 288.6L597.6 286.6L589.9 284.7L582.3 282.9L574.6 281L567 279.2L559.4 277.4L551.7 275.8L544.1 274.1L536.4 272.6L528.8 271.2L521.1 269.9L513.5 268.8L505.8 267.7L498.2 266.9L490.5 266.1L482.9 265.5L475.2 264.9L467.6 264.4Z"/>
<clipPath id="tc4"><path d="M490.8 213.8l4.1 7.2h-8.2zM490.8 218.4l4.1 7.2h-8.2zM505.2 216.1l4.1 7.2h-8.2zM497.8 223.1l4.1 7.2h-8.2zM488.5 233.5l4.1 7.2h-8.2zM488.5 238.2l4.1 7.2h-8.2zM493.1 240.5l4.1 7.2h-8.2zM487.3 241.6l4.1 7.2h-8.2zM522.6 239.8l4.1 7.2h-8.2zM500.1 246.3l4.1 7.2h-8.2zM511.7 252.1l4.1 7.2h-8.2zM530.3 253.2l4.1 7.2h-8.2zM474.6 246.3l4.1 7.2h-8.2zM458.8 259l4.1 7.2h-8.2zM458.8 264.8l4.1 7.2h-8.2zM451.8 267.2l4.1 7.2h-8.2zM446 272.9l4.1 7.2h-8.2zM458.8 270.6l4.1 7.2h-8.2zM452.5 278.3l4.1 7.2h-8.2zM458.8 289.2l4.1 7.2h-8.2zM487.3 283.4l4.1 7.2h-8.2zM523.3 276.5l4.1 7.2h-8.2zM550.9 228.2l4.1 7.2h-8.2zM586.4 235.8l4.1 7.2h-8.2zM565.5 247l4.1 7.2h-8.2zM612.8 248.1l4.1 7.2h-8.2zM634.4 255.1l4.1 7.2h-8.2zM548.6 252.7l4.1 7.2h-8.2zM581.5 259.7l4.1 7.2h-8.2zM585.7 260.2l4.1 7.2h-8.2zM589.1 263.6l4.1 7.2h-8.2zM569.4 273.4l4.1 7.2h-8.2zM638.3 269l4.1 7.2h-8.2zM560.1 281l4.1 7.2h-8.2zM554.4 279.2l4.1 7.2h-8.2zM542.8 278.7l4.1 7.2h-8.2zM545.1 272.9l4.1 7.2h-8.2zM532.3 274.5l4.1 7.2h-8.2zM553.2 268.3l4.1 7.2h-8.2zM532.3 254.4l4.1 7.2h-8.2zM461.2 258.3l4.1 7.2h-8.2zM461.2 270.7l4.1 7.2h-8.2zM461.2 289.3l4.1 7.2h-8.2zM474.9 243l4.1 7.2h-8.2zM486 237.5l4.1 7.2h-8.2zM511.5 249.8l4.1 7.2h-8.2zM522.3 273.3l4.1 7.2h-8.2zM531 269.8l4.1 7.2h-8.2zM552 280.3l4.1 7.2h-8.2zM522.3 280.3l4.1 7.2h-8.2zM534.6 266.3l4.1 7.2h-8.2zM527.6 278.5l4.1 7.2h-8.2zM494.1 271.9l4.1 7.2h-8.2zM482.2 275.4l4.1 7.2h-8.2zM475.9 274.6l4.1 7.2h-8.2zM504.6 260.5l4.1 7.2h-8.2zM534.5 258.4l4.1 7.2h-8.2zM479.7 254.9l4.1 7.2h-8.2zM480.6 249.5l4.1 7.2h-8.2zM508.3 265.3l4.1 7.2h-8.2zM491.3 248.8l4.1 7.2h-8.2zM481.2 277.3l4.1 7.2h-8.2zM489.7 258.1l4.1 7.2h-8.2zM512.9 279.2l4.1 7.2h-8.2zM487.7 247.5l4.1 7.2h-8.2zM511.2 265.2l4.1 7.2h-8.2zM479.3 283.2l4.1 7.2h-8.2zM509.5 272.4l4.1 7.2h-8.2zM472.1 258.2l4.1 7.2h-8.2zM498.7 277.5l4.1 7.2h-8.2zM497.9 276.9l4.1 7.2h-8.2zM473.8 248.4l4.1 7.2h-8.2zM489.8 273.3l4.1 7.2h-8.2zM528.2 261.9l4.1 7.2h-8.2zM501.9 276.9l4.1 7.2h-8.2zM485.6 256.9l4.1 7.2h-8.2zM510.3 269.6l4.1 7.2h-8.2zM475.2 273.8l4.1 7.2h-8.2zM492.8 252.6l4.1 7.2h-8.2zM474.2 280.6l4.1 7.2h-8.2zM480.3 248.3l4.1 7.2h-8.2zM478.6 260.9l4.1 7.2h-8.2zM516.4 264.2l4.1 7.2h-8.2zM528.6 258.3l4.1 7.2h-8.2zM503.8 273.5l4.1 7.2h-8.2zM499.2 273.5l4.1 7.2h-8.2zM474.1 276.6l4.1 7.2h-8.2zM516.1 266.9l4.1 7.2h-8.2zM477.3 280l4.1 7.2h-8.2zM473.8 259.4l4.1 7.2h-8.2zM475.4 257.3l4.1 7.2h-8.2zM487.7 259.5l4.1 7.2h-8.2zM517.6 265l4.1 7.2h-8.2zM483 276.4l4.1 7.2h-8.2zM480 278.1l4.1 7.2h-8.2zM491.9 258.3l4.1 7.2h-8.2zM525.5 257.5l4.1 7.2h-8.2zM479.7 249.3l4.1 7.2h-8.2zM490.6 272.5l4.1 7.2h-8.2zM492.3 276.1l4.1 7.2h-8.2zM511.2 262.1l4.1 7.2h-8.2zM485.5 247.8l4.1 7.2h-8.2zM487 261.8l4.1 7.2h-8.2zM493.1 275.4l4.1 7.2h-8.2zM487.2 282.8l4.1 7.2h-8.2zM507.9 258.4l4.1 7.2h-8.2zM509.8 279.7l4.1 7.2h-8.2zM505 254.4l4.1 7.2h-8.2zM472.1 266.6l4.1 7.2h-8.2zM478.9 257l4.1 7.2h-8.2zM514.8 264l4.1 7.2h-8.2zM528.5 253.9l4.1 7.2h-8.2zM493.7 271.5l4.1 7.2h-8.2zM495.4 278.6l4.1 7.2h-8.2zM482.9 272.9l4.1 7.2h-8.2zM515.6 254.6l4.1 7.2h-8.2zM495.3 264.9l4.1 7.2h-8.2zM497.6 262.1l4.1 7.2h-8.2zM500.4 272l4.1 7.2h-8.2zM518.8 255.3l4.1 7.2h-8.2zM488.8 257.7l4.1 7.2h-8.2zM515.6 279.3l4.1 7.2h-8.2zM498.4 258.3l4.1 7.2h-8.2zM532.3 259.6l4.1 7.2h-8.2zM506.2 276.7l4.1 7.2h-8.2zM508.3 280.9l4.1 7.2h-8.2zM493.2 250l4.1 7.2h-8.2zM496.2 254.1l4.1 7.2h-8.2zM485.2 260.2l4.1 7.2h-8.2zM514.6 255.5l4.1 7.2h-8.2zM478.8 249.9l4.1 7.2h-8.2zM484.2 282.5l4.1 7.2h-8.2zM477.5 275.2l4.1 7.2h-8.2zM473 276.8l4.1 7.2h-8.2zM484.7 276.5l4.1 7.2h-8.2zM472 277.4l4.1 7.2h-8.2zM505.1 262.4l4.1 7.2h-8.2zM491.1 272.2l4.1 7.2h-8.2zM509.5 254.1l4.1 7.2h-8.2zM517.3 268.3l4.1 7.2h-8.2zM505.8 267.5l4.1 7.2h-8.2zM505.3 276.8l4.1 7.2h-8.2zM509 265.1l4.1 7.2h-8.2zM504.5 278.3l4.1 7.2h-8.2zM498.5 247.7l4.1 7.2h-8.2zM529.9 256.1l4.1 7.2h-8.2zM493.8 282.1l4.1 7.2h-8.2zM525.9 255.2l4.1 7.2h-8.2zM502 270.9l4.1 7.2h-8.2zM478.9 245.6l4.1 7.2h-8.2zM517.4 274.5l4.1 7.2h-8.2zM508.8 255.6l4.1 7.2h-8.2zM512.1 252.9l4.1 7.2h-8.2zM490.7 247.7l4.1 7.2h-8.2zM470.4 258.9l4.1 7.2h-8.2zM487 278.5l4.1 7.2h-8.2zM469.8 258.4l4.1 7.2h-8.2zM531.6 254.7l4.1 7.2h-8.2zM483.5 280.8l4.1 7.2h-8.2zM491.6 258.9l4.1 7.2h-8.2zM477.3 251.7l4.1 7.2h-8.2zM476 272.2l4.1 7.2h-8.2zM501.3 255.6l4.1 7.2h-8.2zM476.9 261.5l4.1 7.2h-8.2zM492.1 250.2l4.1 7.2h-8.2zM512.8 270.8l4.1 7.2h-8.2zM499.5 273.4l4.1 7.2h-8.2zM492.8 259.8l4.1 7.2h-8.2zM489.9 277.7l4.1 7.2h-8.2zM535.3 261.7l4.1 7.2h-8.2zM470.9 267.6l4.1 7.2h-8.2zM508.5 271.7l4.1 7.2h-8.2zM522.5 261.3l4.1 7.2h-8.2zM505.6 275.9l4.1 7.2h-8.2zM509.6 257.8l4.1 7.2h-8.2zM474.5 270.6l4.1 7.2h-8.2zM509.5 252.2l4.1 7.2h-8.2zM516.4 269l4.1 7.2h-8.2zM494.5 261.4l4.1 7.2h-8.2zM506.2 260.4l4.1 7.2h-8.2zM515.1 276.1l4.1 7.2h-8.2zM509.9 256.9l4.1 7.2h-8.2zM514.6 262.4l4.1 7.2h-8.2zM487.5 260.1l4.1 7.2h-8.2zM483.7 273.1l4.1 7.2h-8.2zM521.2 257.4l4.1 7.2h-8.2zM473.7 265.8l4.1 7.2h-8.2zM474.9 257.1l4.1 7.2h-8.2zM474 275.9l4.1 7.2h-8.2zM504.9 281.5l4.1 7.2h-8.2zM481.6 261.6l4.1 7.2h-8.2zM503.7 278.6l4.1 7.2h-8.2zM509.6 280.9l4.1 7.2h-8.2zM516.1 257.9l4.1 7.2h-8.2zM483.7 255.5l4.1 7.2h-8.2zM523.8 270.8l4.1 7.2h-8.2zM509.7 258l4.1 7.2h-8.2zM491 257.5l4.1 7.2h-8.2zM483.4 263l4.1 7.2h-8.2zM491.4 267.2l4.1 7.2h-8.2zM478.9 282.7l4.1 7.2h-8.2zM514.5 258.1l4.1 7.2h-8.2zM486.3 280.7l4.1 7.2h-8.2zM488.5 243.5l4.1 7.2h-8.2zM511.5 259.4l4.1 7.2h-8.2zM488.5 272.8l4.1 7.2h-8.2zM483.8 245.8l4.1 7.2h-8.2zM524.7 265.9l4.1 7.2h-8.2zM491.3 274.2l4.1 7.2h-8.2zM489.9 275.7l4.1 7.2h-8.2zM497.2 267.4l4.1 7.2h-8.2zM511.5 278.5l4.1 7.2h-8.2zM497.6 266l4.1 7.2h-8.2zM487.7 283.2l4.1 7.2h-8.2zM518.4 257.9l4.1 7.2h-8.2zM471.3 267l4.1 7.2h-8.2zM487.8 258.6l4.1 7.2h-8.2zM517.2 261.8l4.1 7.2h-8.2zM510.3 274.7l4.1 7.2h-8.2zM481.8 243.1l4.1 7.2h-8.2zM479.3 243.3l4.1 7.2h-8.2zM501 252.3l4.1 7.2h-8.2zM505.4 250.5l4.1 7.2h-8.2zM532.4 259.1l4.1 7.2h-8.2zM483.8 248l4.1 7.2h-8.2zM489.2 274l4.1 7.2h-8.2zM527.3 258.3l4.1 7.2h-8.2zM502.8 273.7l4.1 7.2h-8.2zM512.5 256.5l4.1 7.2h-8.2zM479.7 252.7l4.1 7.2h-8.2zM512.4 276.2l4.1 7.2h-8.2zM497.5 274.2l4.1 7.2h-8.2zM506.4 279.9l4.1 7.2h-8.2zM505.7 271.3l4.1 7.2h-8.2zM470.7 278.4l4.1 7.2h-8.2zM516.2 263.5l4.1 7.2h-8.2zM519.2 263.2l4.1 7.2h-8.2zM522.5 262l4.1 7.2h-8.2zM487.3 262.3l4.1 7.2h-8.2zM492.2 250.1l4.1 7.2h-8.2zM521 270.5l4.1 7.2h-8.2zM531.1 262.8l4.1 7.2h-8.2zM475 264.6l4.1 7.2h-8.2zM483.2 273.5l4.1 7.2h-8.2zM521.2 267.9l4.1 7.2h-8.2zM486 282.5l4.1 7.2h-8.2zM483.9 280.2l4.1 7.2h-8.2zM491.3 266.6l4.1 7.2h-8.2zM478.1 261l4.1 7.2h-8.2zM484.3 253.3l4.1 7.2h-8.2zM521.4 267.7l4.1 7.2h-8.2zM475.1 245.4l4.1 7.2h-8.2zM511 268.5l4.1 7.2h-8.2zM492.8 252l4.1 7.2h-8.2zM490.9 263.5l4.1 7.2h-8.2zM468.6 261.5l4.1 7.2h-8.2zM490.9 280.4l4.1 7.2h-8.2zM515.8 272.9l4.1 7.2h-8.2zM514.3 277.6l4.1 7.2h-8.2zM491.4 263.4l4.1 7.2h-8.2zM478.5 249.7l4.1 7.2h-8.2zM499.6 281.6l4.1 7.2h-8.2zM495.5 264.6l4.1 7.2h-8.2zM482.5 275.8l4.1 7.2h-8.2zM510.9 279.8l4.1 7.2h-8.2zM475 248l4.1 7.2h-8.2zM487.6 263.9l4.1 7.2h-8.2zM483.8 263.7l4.1 7.2h-8.2zM526.1 265l4.1 7.2h-8.2zM471.9 264.9l4.1 7.2h-8.2zM488.3 278.3l4.1 7.2h-8.2zM519.1 273l4.1 7.2h-8.2zM482.5 257.6l4.1 7.2h-8.2zM493.4 272.8l4.1 7.2h-8.2zM504.8 255.8l4.1 7.2h-8.2zM473.9 260.3l4.1 7.2h-8.2zM509.1 272.1l4.1 7.2h-8.2zM512.1 276.7l4.1 7.2h-8.2zM518.9 260.6l4.1 7.2h-8.2zM508.7 271.9l4.1 7.2h-8.2zM495.1 268.2l4.1 7.2h-8.2zM495.3 265.4l4.1 7.2h-8.2zM478.7 272.7l4.1 7.2h-8.2zM528 259.9l4.1 7.2h-8.2zM496.1 257l4.1 7.2h-8.2zM489.3 254.6l4.1 7.2h-8.2zM507.2 259l4.1 7.2h-8.2zM509.7 259.7l4.1 7.2h-8.2zM517.8 274l4.1 7.2h-8.2zM493.1 272.6l4.1 7.2h-8.2zM483 278.2l4.1 7.2h-8.2zM480.6 257.7l4.1 7.2h-8.2zM490.6 270.9l4.1 7.2h-8.2zM489.1 260.8l4.1 7.2h-8.2zM476.2 248.9l4.1 7.2h-8.2zM476.2 251.3l4.1 7.2h-8.2zM485.8 265l4.1 7.2h-8.2zM530.6 256l4.1 7.2h-8.2zM488.9 261.7l4.1 7.2h-8.2zM505.9 269.3l4.1 7.2h-8.2zM473.8 248.9l4.1 7.2h-8.2zM472.8 276.2l4.1 7.2h-8.2zM501.5 262.7l4.1 7.2h-8.2zM516.9 277.5l4.1 7.2h-8.2zM495.3 280.8l4.1 7.2h-8.2zM476.7 248l4.1 7.2h-8.2zM489.8 254.9l4.1 7.2h-8.2zM531.5 263.3l4.1 7.2h-8.2zM496.7 278l4.1 7.2h-8.2zM497 254l4.1 7.2h-8.2zM490.6 267l4.1 7.2h-8.2zM516.6 262.8l4.1 7.2h-8.2zM482.8 270.4l4.1 7.2h-8.2zM479.1 245.8l4.1 7.2h-8.2zM512.3 259.7l4.1 7.2h-8.2zM472.4 268.5l4.1 7.2h-8.2zM487.8 276.4l4.1 7.2h-8.2zM477.2 263l4.1 7.2h-8.2zM495.5 250.2l4.1 7.2h-8.2zM489.5 248.2l4.1 7.2h-8.2zM487.4 260.3l4.1 7.2h-8.2zM494 270.7l4.1 7.2h-8.2zM530.1 263.3l4.1 7.2h-8.2zM479.8 263.5l4.1 7.2h-8.2zM476.1 279.4l4.1 7.2h-8.2zM478.3 279.2l4.1 7.2h-8.2zM470.7 272.4l4.1 7.2h-8.2zM477 275.4l4.1 7.2h-8.2zM487.9 249.7l4.1 7.2h-8.2zM506.6 275.3l4.1 7.2h-8.2zM520.1 268.7l4.1 7.2h-8.2zM516.6 271.7l4.1 7.2h-8.2zM516.1 271.5l4.1 7.2h-8.2zM489.7 254.7l4.1 7.2h-8.2zM516.2 261.7l4.1 7.2h-8.2zM533.3 259.3l4.1 7.2h-8.2zM475.6 279.9l4.1 7.2h-8.2zM496.2 275.7l4.1 7.2h-8.2zM471.1 271.8l4.1 7.2h-8.2zM473.7 278.3l4.1 7.2h-8.2zM476.9 252.4l4.1 7.2h-8.2zM525.4 262.8l4.1 7.2h-8.2zM496.4 281.6l4.1 7.2h-8.2zM504.4 265.9l4.1 7.2h-8.2zM486.1 274.7l4.1 7.2h-8.2zM473.8 247.2l4.1 7.2h-8.2zM535.3 255.3l4.1 7.2h-8.2zM476 276.6l4.1 7.2h-8.2zM524.3 260.2l4.1 7.2h-8.2zM515.9 258.4l4.1 7.2h-8.2zM487.4 274l4.1 7.2h-8.2zM517.2 262.2l4.1 7.2h-8.2zM470.6 263.1l4.1 7.2h-8.2zM519.1 269.7l4.1 7.2h-8.2zM479.6 265.2l4.1 7.2h-8.2zM488.4 269.7l4.1 7.2h-8.2zM471 259l4.1 7.2h-8.2zM508.4 255.2l4.1 7.2h-8.2zM485.1 247.3l4.1 7.2h-8.2zM490.6 243.7l4.1 7.2h-8.2zM473.4 270.4l4.1 7.2h-8.2zM488.2 258.1l4.1 7.2h-8.2zM476 246l4.1 7.2h-8.2zM526.5 259.4l4.1 7.2h-8.2zM504.5 256.6l4.1 7.2h-8.2zM499.3 277l4.1 7.2h-8.2zM484.6 270.4l4.1 7.2h-8.2zM502.6 264.9l4.1 7.2h-8.2zM496.6 248.1l4.1 7.2h-8.2zM495.6 267.8l4.1 7.2h-8.2zM519.5 267.2l4.1 7.2h-8.2zM511 267.4l4.1 7.2h-8.2zM478.5 248.1l4.1 7.2h-8.2zM493.1 269l4.1 7.2h-8.2zM507.3 271.7l4.1 7.2h-8.2zM481.1 278.8l4.1 7.2h-8.2zM479.2 270.1l4.1 7.2h-8.2zM520.9 253.1l4.1 7.2h-8.2zM495.7 281.8l4.1 7.2h-8.2zM501.3 248.8l4.1 7.2h-8.2zM480 276.1l4.1 7.2h-8.2zM500.8 265.8l4.1 7.2h-8.2z"/></clipPath><path fill="#FF0000" fill-opacity="0.26" clip-path="url(#tc4)" d="M467.6 246.8L475.2 248.5L482.9 250.2L490.5 251.7L498.2 253.2L505.8 254.5L513.5 255.7L521.1 256.8L528.8 257.7L536.4 258.5L544.1 259.2L551.7 259.8L559.4 260.4L567 260.8L574.6 261.2L582.3 261.6L589.9 261.9L597.6 262.2L605.2 262.5L612.9 262.8L620.5 263.1L628.2 263.3L635.8 263.5L643.5 263.8L651.1 264L651.1 300.4L643.5 298.4L635.8 296.4L628.2 294.4L620.5 292.5L612.9 290.5L605.2 288.6L597.6 286.6L589.9 284.7L582.3 282.9L574.6 281L567 279.2L559.4 277.4L551.7 275.8L544.1 274.1L536.4 272.6L528.8 271.2L521.1 269.9L513.5 268.8L505.8 267.7L498.2 266.9L490.5 266.1L482.9 265.5L475.2 264.9L467.6 264.4Z"/>
<path stroke="#FF2200" stroke-width="3.0" stroke-linecap="round" d="M467.6 255.6L651.1 282.2"/>
<path fill="#006400" fill-opacity="0.3" d="M447.9 268L455.8 268L463.7 268L471.6 267.9L479.5 267.8L487.5 267.6L495.4 267.4L503.3 267.1L511.2 266.7L519.1 266.4L527 265.9L534.9 265.4L542.8 265L550.8 264.4L558.7 263.9L566.6 263.4L574.5 262.8L582.4 262.3L590.3 261.7L598.2 261.2L606.1 260.6L614.1 260L622 259.5L629.9 258.9L637.8 258.3L637.8 270.9L629.9 270.9L622 270.8L614.1 270.7L606.1 270.7L598.2 270.6L590.3 270.6L582.4 270.5L574.5 270.5L566.6 270.4L558.7 270.4L550.8 270.4L542.8 270.4L534.9 270.4L527 270.4L519.1 270.5L511.2 270.6L503.3 270.8L495.4 271L487.5 271.3L479.5 271.6L471.6 272L463.7 272.4L455.8 272.9L447.9 273.4Z"/>
<path stroke="#006400" stroke-width="3.0" stroke-linecap="round" d="M447.9 270.7L637.8 264.6"/>
</g>
<rect x="398.5" y="183" width="285" height="122.8" fill="none" stroke="#3a3a3a" stroke-width="1.4"/>
<path d="M470.3 305.8V309.8M544.7 305.8V309.8M619.1 305.8V309.8M394.5 297H398.5M394.5 273.45H398.5M394.5 249.9H398.5M394.5 226.35H398.5M394.5 202.8H398.5" stroke="#3a3a3a" stroke-width="1.4" fill="none"/>
<g><text transform="translate(470.3 322.4) scale(1 1.1)" text-anchor="middle">10</text></g>
<g><text transform="translate(544.7 322.4) scale(1 1.1)" text-anchor="middle">20</text></g>
<g><text transform="translate(619.1 322.4) scale(1 1.1)" text-anchor="middle">30</text></g>
<text transform="translate(390.7 301.4) scale(1 1.1)" text-anchor="end">0</text>
<text transform="translate(390.7 277.85) scale(1 1.1)" text-anchor="end">10</text>
<text transform="translate(390.7 254.3) scale(1 1.1)" text-anchor="end">20</text>
<text transform="translate(390.7 230.75) scale(1 1.1)" text-anchor="end">30</text>
<text transform="translate(390.7 207.2) scale(1 1.1)" text-anchor="end">40</text>
<clipPath id="clipc"><rect x="59.4" y="364.8" width="285.5" height="122.9"/></clipPath>
<rect x="59.4" y="364.8" width="285.5" height="122.9" fill="#fff"/>
<path d="M104.39 364.8V487.7M169.56 364.8V487.7M234.74 364.8V487.7M299.91 364.8V487.7M59.4 467.4H344.9M59.4 435.8H344.9M59.4 404.2H344.9M59.4 372.6H344.9" stroke="#EDEDED" stroke-width="0.7" fill="none"/>
<path d="M71.8 364.8V487.7M136.97 364.8V487.7M202.15 364.8V487.7M267.32 364.8V487.7M332.5 364.8V487.7M59.4 483.2H344.9M59.4 451.6H344.9M59.4 420H344.9M59.4 388.4H344.9" stroke="#EBEBEB" stroke-width="1.2" fill="none"/>
<g clip-path="url(#clipc)">
<path fill="#FF2200" d="M98.6 402.1a3.35 3.35 0 1 0 6.7 0a3.35 3.35 0 1 0 -6.7 0zM107.9 418.3a3.35 3.35 0 1 0 6.7 0a3.35 3.35 0 1 0 -6.7 0zM105.6 426.5a3.35 3.35 0 1 0 6.7 0a3.35 3.35 0 1 0 -6.7 0zM100.9 438.7a3.35 3.35 0 1 0 6.7 0a3.35 3.35 0 1 0 -6.7 0zM93.2 442a3.35 3.35 0 1 0 6.7 0a3.35 3.35 0 1 0 -6.7 0zM98.6 446.2a3.35 3.35 0 1 0 6.7 0a3.35 3.35 0 1 0 -6.7 0zM102.1 453.6a3.35 3.35 0 1 0 6.7 0a3.35 3.35 0 1 0 -6.7 0zM90 455.9a3.35 3.35 0 1 0 6.7 0a3.35 3.35 0 1 0 -6.7 0zM92.8 459.6a3.35 3.35 0 1 0 6.7 0a3.35 3.35 0 1 0 -6.7 0zM80.7 467a3.35 3.35 0 1 0 6.7 0a3.35 3.35 0 1 0 -6.7 0zM78.9 471.7a3.35 3.35 0 1 0 6.7 0a3.35 3.35 0 1 0 -6.7 0zM71.9 476.3a3.35 3.35 0 1 0 6.7 0a3.35 3.35 0 1 0 -6.7 0zM69.6 482.1a3.35 3.35 0 1 0 6.7 0a3.35 3.35 0 1 0 -6.7 0zM75.4 481a3.35 3.35 0 1 0 6.7 0a3.35 3.35 0 1 0 -6.7 0zM83.5 478.6a3.35 3.35 0 1 0 6.7 0a3.35 3.35 0 1 0 -6.7 0zM142.7 475.9a3.35 3.35 0 1 0 6.7 0a3.35 3.35 0 1 0 -6.7 0zM172.8 474a3.35 3.35 0 1 0 6.7 0a3.35 3.35 0 1 0 -6.7 0zM179.8 432.3a3.35 3.35 0 1 0 6.7 0a3.35 3.35 0 1 0 -6.7 0zM125.2 472.8a3.35 3.35 0 1 0 6.7 0a3.35 3.35 0 1 0 -6.7 0zM116 474a3.35 3.35 0 1 0 6.7 0a3.35 3.35 0 1 0 -6.7 0zM109 474a3.35 3.35 0 1 0 6.7 0a3.35 3.35 0 1 0 -6.7 0zM105.6 478.6a3.35 3.35 0 1 0 6.7 0a3.35 3.35 0 1 0 -6.7 0zM110.2 450.8a3.35 3.35 0 1 0 6.7 0a3.35 3.35 0 1 0 -6.7 0zM232.2 423.7a3.35 3.35 0 1 0 6.7 0a3.35 3.35 0 1 0 -6.7 0zM267.1 426.5a3.35 3.35 0 1 0 6.7 0a3.35 3.35 0 1 0 -6.7 0zM213.8 459.7a3.35 3.35 0 1 0 6.7 0a3.35 3.35 0 1 0 -6.7 0zM310.5 446.7a3.35 3.35 0 1 0 6.7 0a3.35 3.35 0 1 0 -6.7 0zM86.7 477a3.35 3.35 0 1 0 6.7 0a3.35 3.35 0 1 0 -6.7 0zM91.7 481a3.35 3.35 0 1 0 6.7 0a3.35 3.35 0 1 0 -6.7 0zM97.7 482a3.35 3.35 0 1 0 6.7 0a3.35 3.35 0 1 0 -6.7 0zM73.7 477.3a3.35 3.35 0 1 0 6.7 0a3.35 3.35 0 1 0 -6.7 0zM77.5 474.9a3.35 3.35 0 1 0 6.7 0a3.35 3.35 0 1 0 -6.7 0zM81.2 481.5a3.35 3.35 0 1 0 6.7 0a3.35 3.35 0 1 0 -6.7 0zM87.8 482.5a3.35 3.35 0 1 0 6.7 0a3.35 3.35 0 1 0 -6.7 0zM102.9 478.7a3.35 3.35 0 1 0 6.7 0a3.35 3.35 0 1 0 -6.7 0z"/>
<path fill="#006400" d="M84.5 432.9l4.1 7.2h-8.2zM170.3 399.3l4.1 7.2h-8.2zM170.3 405.1l4.1 7.2h-8.2zM155.9 408.5l4.1 7.2h-8.2zM162.2 420.1l4.1 7.2h-8.2zM163.4 426.4l4.1 7.2h-8.2zM141.3 426.4l4.1 7.2h-8.2zM148.3 424.1l4.1 7.2h-8.2zM173.8 424.8l4.1 7.2h-8.2zM151.3 429.4l4.1 7.2h-8.2zM156.4 429.4l4.1 7.2h-8.2zM188.9 424.8l4.1 7.2h-8.2zM192.3 430.6l4.1 7.2h-8.2zM98.4 448l4.1 7.2h-8.2zM154.1 466.5l4.1 7.2h-8.2zM165.7 467.7l4.1 7.2h-8.2zM173.8 464.2l4.1 7.2h-8.2zM161 460.7l4.1 7.2h-8.2zM234.5 366.8l4.1 7.2h-8.2zM283.2 364.5l4.1 7.2h-8.2zM313.4 368.4l4.1 7.2h-8.2zM262.3 393.5l4.1 7.2h-8.2zM280.9 397l4.1 7.2h-8.2zM215.9 402.3l4.1 7.2h-8.2zM211.3 409.3l4.1 7.2h-8.2zM204.3 417.9l4.1 7.2h-8.2zM210.8 416.7l4.1 7.2h-8.2zM216.4 419l4.1 7.2h-8.2zM206.6 423.7l4.1 7.2h-8.2zM212.4 422.5l4.1 7.2h-8.2zM232.1 421.8l4.1 7.2h-8.2zM269.3 414.4l4.1 7.2h-8.2zM264.7 420.9l4.1 7.2h-8.2zM290.2 423.7l4.1 7.2h-8.2zM308.8 419.5l4.1 7.2h-8.2zM202 430.7l4.1 7.2h-8.2zM217.1 431.8l4.1 7.2h-8.2zM222.9 434.1l4.1 7.2h-8.2zM234.5 436.5l4.1 7.2h-8.2zM255.4 435.3l4.1 7.2h-8.2zM267 436.5l4.1 7.2h-8.2zM278.6 433.4l4.1 7.2h-8.2zM208.9 443.4l4.1 7.2h-8.2zM225.2 441.1l4.1 7.2h-8.2zM234.5 442.3l4.1 7.2h-8.2zM197.3 437.6l4.1 7.2h-8.2zM198.5 450.4l4.1 7.2h-8.2zM234.5 445.7l4.1 7.2h-8.2zM241.4 453.9l4.1 7.2h-8.2zM276.3 453.9l4.1 7.2h-8.2zM197.3 452.7l4.1 7.2h-8.2zM167.6 447.3l4.1 7.2h-8.2zM109.8 465.2l4.1 7.2h-8.2zM191.5 449.3l4.1 7.2h-8.2zM189.5 433.3l4.1 7.2h-8.2zM211.4 441l4.1 7.2h-8.2zM101.4 466.6l4.1 7.2h-8.2zM97.2 472.9l4.1 7.2h-8.2zM142.5 451.5l4.1 7.2h-8.2zM127.3 447.7l4.1 7.2h-8.2zM136.5 440.9l4.1 7.2h-8.2zM142.3 442l4.1 7.2h-8.2zM148.4 448.1l4.1 7.2h-8.2zM110.6 454.7l4.1 7.2h-8.2zM156.8 455.5l4.1 7.2h-8.2zM127.8 454.1l4.1 7.2h-8.2zM89.1 466.4l4.1 7.2h-8.2zM187.2 441.4l4.1 7.2h-8.2zM201.9 448l4.1 7.2h-8.2zM89.6 465.9l4.1 7.2h-8.2zM186.8 447.6l4.1 7.2h-8.2zM182.9 447.3l4.1 7.2h-8.2zM152.5 461.6l4.1 7.2h-8.2zM138.8 453.2l4.1 7.2h-8.2zM197.2 437.6l4.1 7.2h-8.2zM99.4 469.5l4.1 7.2h-8.2zM154.3 438.5l4.1 7.2h-8.2zM132.1 460.5l4.1 7.2h-8.2zM104.2 460.6l4.1 7.2h-8.2zM114.9 459.8l4.1 7.2h-8.2zM204.3 436.9l4.1 7.2h-8.2zM149.4 451.4l4.1 7.2h-8.2zM210.9 425.7l4.1 7.2h-8.2zM163 449l4.1 7.2h-8.2zM122.8 459.9l4.1 7.2h-8.2zM152.6 452l4.1 7.2h-8.2zM88.8 466.5l4.1 7.2h-8.2zM90.1 466.5l4.1 7.2h-8.2zM184.9 445.6l4.1 7.2h-8.2zM169 445.3l4.1 7.2h-8.2zM151.4 442.2l4.1 7.2h-8.2zM114.1 460.2l4.1 7.2h-8.2zM133.2 447.8l4.1 7.2h-8.2zM147.9 460.9l4.1 7.2h-8.2zM133.3 455.1l4.1 7.2h-8.2zM182.4 446.4l4.1 7.2h-8.2zM126.3 456.6l4.1 7.2h-8.2zM211.3 438.4l4.1 7.2h-8.2zM115.1 468.2l4.1 7.2h-8.2zM107.6 454.1l4.1 7.2h-8.2zM140.3 455.2l4.1 7.2h-8.2zM91.1 471.3l4.1 7.2h-8.2zM192.5 454.6l4.1 7.2h-8.2zM165.6 446.9l4.1 7.2h-8.2zM190.4 439.3l4.1 7.2h-8.2zM121.1 455.8l4.1 7.2h-8.2zM136.4 459.4l4.1 7.2h-8.2zM180.4 449.9l4.1 7.2h-8.2zM90.8 467.2l4.1 7.2h-8.2zM128.6 450.4l4.1 7.2h-8.2zM177.9 448.2l4.1 7.2h-8.2zM102.4 468.5l4.1 7.2h-8.2zM128.6 455l4.1 7.2h-8.2zM201.8 440.7l4.1 7.2h-8.2zM192.5 440.7l4.1 7.2h-8.2zM138.4 453.1l4.1 7.2h-8.2zM138.5 456.6l4.1 7.2h-8.2zM139.4 441.6l4.1 7.2h-8.2zM154.2 446.2l4.1 7.2h-8.2zM171.7 453.2l4.1 7.2h-8.2zM149 446.3l4.1 7.2h-8.2zM133.7 455.9l4.1 7.2h-8.2zM162.6 459.5l4.1 7.2h-8.2zM208.1 431.4l4.1 7.2h-8.2zM194.7 435.1l4.1 7.2h-8.2zM174.2 436.9l4.1 7.2h-8.2zM148.7 460.7l4.1 7.2h-8.2zM110.1 459.2l4.1 7.2h-8.2zM126.2 457l4.1 7.2h-8.2zM176.1 443.6l4.1 7.2h-8.2zM97 470.2l4.1 7.2h-8.2zM180 453.9l4.1 7.2h-8.2zM141.2 448.6l4.1 7.2h-8.2zM167.8 456.3l4.1 7.2h-8.2zM143.1 449.3l4.1 7.2h-8.2zM110.8 465l4.1 7.2h-8.2zM161 453.3l4.1 7.2h-8.2zM102.8 465.6l4.1 7.2h-8.2zM108 459.9l4.1 7.2h-8.2zM113.5 454.2l4.1 7.2h-8.2zM151.8 457.9l4.1 7.2h-8.2zM129.3 464.8l4.1 7.2h-8.2zM179.3 450.3l4.1 7.2h-8.2zM171.6 457.4l4.1 7.2h-8.2zM138.7 459.4l4.1 7.2h-8.2zM166.6 447l4.1 7.2h-8.2zM156.8 440.8l4.1 7.2h-8.2zM105.7 472.1l4.1 7.2h-8.2zM199.8 439.2l4.1 7.2h-8.2zM169.8 445.7l4.1 7.2h-8.2zM181.6 450.2l4.1 7.2h-8.2zM175.4 447.4l4.1 7.2h-8.2zM116.8 465.3l4.1 7.2h-8.2zM176.8 449.3l4.1 7.2h-8.2zM139.4 457.9l4.1 7.2h-8.2zM120.8 445.5l4.1 7.2h-8.2zM178.2 443.6l4.1 7.2h-8.2zM134.1 461.6l4.1 7.2h-8.2zM209.2 440.1l4.1 7.2h-8.2zM118.5 464.7l4.1 7.2h-8.2zM159.1 451.6l4.1 7.2h-8.2zM208.1 437.6l4.1 7.2h-8.2zM143.6 459.5l4.1 7.2h-8.2zM96.6 465.9l4.1 7.2h-8.2zM167.7 455.9l4.1 7.2h-8.2zM159.2 440.8l4.1 7.2h-8.2zM163.7 442.7l4.1 7.2h-8.2zM89.5 472l4.1 7.2h-8.2zM128.6 450.7l4.1 7.2h-8.2zM174.7 438l4.1 7.2h-8.2zM116.4 458.3l4.1 7.2h-8.2zM179.8 435.2l4.1 7.2h-8.2zM183.5 444.2l4.1 7.2h-8.2zM115.5 469.4l4.1 7.2h-8.2zM168.8 455.9l4.1 7.2h-8.2zM213.6 431.6l4.1 7.2h-8.2zM154.2 459.7l4.1 7.2h-8.2zM150.4 451.6l4.1 7.2h-8.2zM112.7 444.6l4.1 7.2h-8.2zM137.9 459l4.1 7.2h-8.2zM175.6 444.6l4.1 7.2h-8.2zM198.3 448.1l4.1 7.2h-8.2zM126.2 465.4l4.1 7.2h-8.2zM111.3 464l4.1 7.2h-8.2zM197 447.5l4.1 7.2h-8.2zM198.6 454.3l4.1 7.2h-8.2zM193.3 446.5l4.1 7.2h-8.2zM168.8 445.6l4.1 7.2h-8.2zM127.3 458.3l4.1 7.2h-8.2zM132.6 457.3l4.1 7.2h-8.2zM180.4 443l4.1 7.2h-8.2zM129.4 448.5l4.1 7.2h-8.2zM135 457.4l4.1 7.2h-8.2zM136.8 456.8l4.1 7.2h-8.2zM189.7 444.4l4.1 7.2h-8.2zM187.3 441.7l4.1 7.2h-8.2zM130 465l4.1 7.2h-8.2zM184.4 436.2l4.1 7.2h-8.2zM115.8 464.6l4.1 7.2h-8.2zM208.3 431.5l4.1 7.2h-8.2zM166.8 450.2l4.1 7.2h-8.2zM190.9 442.8l4.1 7.2h-8.2zM148.1 443.8l4.1 7.2h-8.2zM162.6 454.1l4.1 7.2h-8.2zM181.5 452.4l4.1 7.2h-8.2zM208 436.1l4.1 7.2h-8.2zM146.9 441.9l4.1 7.2h-8.2zM145.9 457.3l4.1 7.2h-8.2zM156.1 453.6l4.1 7.2h-8.2zM123.5 460.3l4.1 7.2h-8.2zM182.7 437.5l4.1 7.2h-8.2zM197.1 442.2l4.1 7.2h-8.2zM189.6 439.8l4.1 7.2h-8.2zM114.6 447.7l4.1 7.2h-8.2zM113.6 458l4.1 7.2h-8.2zM145.8 457l4.1 7.2h-8.2zM168.8 457.5l4.1 7.2h-8.2zM108.6 466.7l4.1 7.2h-8.2zM105.3 468.4l4.1 7.2h-8.2zM127 451.4l4.1 7.2h-8.2zM201 435.2l4.1 7.2h-8.2zM153 456.3l4.1 7.2h-8.2zM159.7 443.3l4.1 7.2h-8.2zM169.1 438l4.1 7.2h-8.2zM163.6 452.8l4.1 7.2h-8.2zM172.9 445.9l4.1 7.2h-8.2zM151.6 444.9l4.1 7.2h-8.2zM200.4 449.5l4.1 7.2h-8.2zM209.2 436.2l4.1 7.2h-8.2zM145 458.4l4.1 7.2h-8.2zM180.4 439.7l4.1 7.2h-8.2zM104.2 460.6l4.1 7.2h-8.2zM140.2 459.7l4.1 7.2h-8.2zM147.7 454.8l4.1 7.2h-8.2zM131.6 458.6l4.1 7.2h-8.2zM189.9 454.3l4.1 7.2h-8.2zM95.8 463.6l4.1 7.2h-8.2zM103.2 461l4.1 7.2h-8.2zM134.8 455.5l4.1 7.2h-8.2zM90.9 470.8l4.1 7.2h-8.2zM147.7 455l4.1 7.2h-8.2zM169 439.7l4.1 7.2h-8.2zM187.8 437.7l4.1 7.2h-8.2zM166.1 455.8l4.1 7.2h-8.2zM129.3 442.6l4.1 7.2h-8.2zM157.1 445.8l4.1 7.2h-8.2zM122.1 456.7l4.1 7.2h-8.2zM97.8 471.3l4.1 7.2h-8.2zM167.9 446.2l4.1 7.2h-8.2zM190.9 440l4.1 7.2h-8.2zM178.3 450.3l4.1 7.2h-8.2zM92.5 469l4.1 7.2h-8.2zM123 447.4l4.1 7.2h-8.2zM197.8 441l4.1 7.2h-8.2zM156.1 444.7l4.1 7.2h-8.2zM128 445.4l4.1 7.2h-8.2zM107.5 461.7l4.1 7.2h-8.2zM97.9 472.2l4.1 7.2h-8.2zM162.8 445.5l4.1 7.2h-8.2zM130.3 454.1l4.1 7.2h-8.2zM146.2 438.5l4.1 7.2h-8.2zM122.4 444.8l4.1 7.2h-8.2zM185.8 444.6l4.1 7.2h-8.2zM137.3 457.3l4.1 7.2h-8.2zM118.2 451.4l4.1 7.2h-8.2zM106.9 455.2l4.1 7.2h-8.2zM154.4 457.3l4.1 7.2h-8.2zM130.6 446l4.1 7.2h-8.2zM191.1 437.2l4.1 7.2h-8.2zM93.5 466.5l4.1 7.2h-8.2zM153.1 454.9l4.1 7.2h-8.2zM109.7 464.9l4.1 7.2h-8.2zM163.8 445l4.1 7.2h-8.2zM129.1 455.3l4.1 7.2h-8.2zM194.4 434.1l4.1 7.2h-8.2zM152 446.7l4.1 7.2h-8.2zM131.3 461.5l4.1 7.2h-8.2zM141.6 440.5l4.1 7.2h-8.2zM160.1 441.9l4.1 7.2h-8.2zM203.7 435.8l4.1 7.2h-8.2zM175.9 446.7l4.1 7.2h-8.2zM178.9 446l4.1 7.2h-8.2zM135.8 444.6l4.1 7.2h-8.2zM158.2 450.4l4.1 7.2h-8.2zM178.4 444.1l4.1 7.2h-8.2zM182.3 442.4l4.1 7.2h-8.2zM209.9 434l4.1 7.2h-8.2zM150.7 444.1l4.1 7.2h-8.2zM155.3 445.9l4.1 7.2h-8.2zM151.9 437l4.1 7.2h-8.2zM171 450.1l4.1 7.2h-8.2zM163.8 446.2l4.1 7.2h-8.2zM109.8 468.9l4.1 7.2h-8.2zM126.7 454.4l4.1 7.2h-8.2zM186.4 433.6l4.1 7.2h-8.2zM120.1 446.1l4.1 7.2h-8.2zM193.6 443.7l4.1 7.2h-8.2zM194.2 439.6l4.1 7.2h-8.2zM117 460l4.1 7.2h-8.2zM189.5 452.2l4.1 7.2h-8.2zM120.3 451.4l4.1 7.2h-8.2zM201.1 444.3l4.1 7.2h-8.2zM141.4 461.4l4.1 7.2h-8.2zM198.5 440.4l4.1 7.2h-8.2zM205.9 438l4.1 7.2h-8.2zM166.6 443.6l4.1 7.2h-8.2zM117.4 466.8l4.1 7.2h-8.2zM159.8 441.2l4.1 7.2h-8.2zM131.7 454.5l4.1 7.2h-8.2zM110.2 461l4.1 7.2h-8.2zM188.8 445.4l4.1 7.2h-8.2zM189.6 445.5l4.1 7.2h-8.2zM129.4 447.2l4.1 7.2h-8.2zM196.6 444.1l4.1 7.2h-8.2zM158.8 455.7l4.1 7.2h-8.2zM168 444.1l4.1 7.2h-8.2zM193.3 451.6l4.1 7.2h-8.2zM211.8 435.1l4.1 7.2h-8.2zM95.2 465.4l4.1 7.2h-8.2zM151.7 438.5l4.1 7.2h-8.2zM141.2 452l4.1 7.2h-8.2zM176.4 456.1l4.1 7.2h-8.2zM198.9 450.6l4.1 7.2h-8.2zM108.3 469l4.1 7.2h-8.2zM107.2 459.6l4.1 7.2h-8.2zM199.2 452.8l4.1 7.2h-8.2zM190.8 447l4.1 7.2h-8.2zM187.2 445.9l4.1 7.2h-8.2zM141.7 460.2l4.1 7.2h-8.2zM189.8 448.6l4.1 7.2h-8.2zM162.6 448.4l4.1 7.2h-8.2zM154.2 456.2l4.1 7.2h-8.2zM199 447.3l4.1 7.2h-8.2zM195.4 452.6l4.1 7.2h-8.2zM106.4 455.6l4.1 7.2h-8.2zM193.8 445.4l4.1 7.2h-8.2zM123.1 460.6l4.1 7.2h-8.2zM122.7 447.7l4.1 7.2h-8.2zM110.3 463.6l4.1 7.2h-8.2zM131.6 462.2l4.1 7.2h-8.2zM167.4 443.4l4.1 7.2h-8.2zM162.9 448.2l4.1 7.2h-8.2zM129.7 448.8l4.1 7.2h-8.2zM179.4 445.2l4.1 7.2h-8.2zM150.1 445.9l4.1 7.2h-8.2zM152.5 457l4.1 7.2h-8.2zM178.4 453.8l4.1 7.2h-8.2zM86.1 470.9l4.1 7.2h-8.2zM154.5 456.9l4.1 7.2h-8.2zM154 454.1l4.1 7.2h-8.2zM183.2 436.3l4.1 7.2h-8.2zM183.7 440.8l4.1 7.2h-8.2zM194.6 450.3l4.1 7.2h-8.2zM118.9 459.2l4.1 7.2h-8.2zM139.9 453.2l4.1 7.2h-8.2zM133.4 452.2l4.1 7.2h-8.2zM116 468.8l4.1 7.2h-8.2zM189.6 445.4l4.1 7.2h-8.2zM156.7 441.3l4.1 7.2h-8.2zM205.3 432.5l4.1 7.2h-8.2zM116.5 452.1l4.1 7.2h-8.2zM159.7 441.8l4.1 7.2h-8.2zM89.7 468.7l4.1 7.2h-8.2zM116 466.6l4.1 7.2h-8.2zM115.1 466.6l4.1 7.2h-8.2zM183.8 441.4l4.1 7.2h-8.2zM187.5 454.2l4.1 7.2h-8.2zM161.8 444.4l4.1 7.2h-8.2zM151.6 444.7l4.1 7.2h-8.2zM108.9 454.3l4.1 7.2h-8.2zM108.7 458l4.1 7.2h-8.2z"/>
<path fill="#FF0000" fill-opacity="0.3" d="M72.9 469.8L82.9 468.4L93 467L103 465.5L113.1 463.9L123.1 462.2L133.2 460.3L143.2 458.2L153.2 455.9L163.3 453.5L173.3 451.1L183.4 448.6L193.4 446.1L203.4 443.6L213.5 441L223.5 438.5L233.6 435.9L243.6 433.3L253.6 430.8L263.7 428.2L273.7 425.6L283.8 423L293.8 420.5L303.9 417.9L313.9 415.3L313.9 439.2L303.9 440.5L293.8 441.8L283.8 443.1L273.7 444.5L263.7 445.8L253.6 447.1L243.6 448.4L233.6 449.8L223.5 451.1L213.5 452.4L203.4 453.8L193.4 455.1L183.4 456.5L173.3 457.9L163.3 459.4L153.2 460.9L143.2 462.5L133.2 464.3L123.1 466.3L113.1 468.5L103 470.8L93 473.2L82.9 475.7L72.9 478.2Z"/>
<clipPath id="tc3"><path d="M84.5 432.9l4.1 7.2h-8.2zM170.3 399.3l4.1 7.2h-8.2zM170.3 405.1l4.1 7.2h-8.2zM155.9 408.5l4.1 7.2h-8.2zM162.2 420.1l4.1 7.2h-8.2zM163.4 426.4l4.1 7.2h-8.2zM141.3 426.4l4.1 7.2h-8.2zM148.3 424.1l4.1 7.2h-8.2zM173.8 424.8l4.1 7.2h-8.2zM151.3 429.4l4.1 7.2h-8.2zM156.4 429.4l4.1 7.2h-8.2zM188.9 424.8l4.1 7.2h-8.2zM192.3 430.6l4.1 7.2h-8.2zM98.4 448l4.1 7.2h-8.2zM154.1 466.5l4.1 7.2h-8.2zM165.7 467.7l4.1 7.2h-8.2zM173.8 464.2l4.1 7.2h-8.2zM161 460.7l4.1 7.2h-8.2zM234.5 366.8l4.1 7.2h-8.2zM283.2 364.5l4.1 7.2h-8.2zM313.4 368.4l4.1 7.2h-8.2zM262.3 393.5l4.1 7.2h-8.2zM280.9 397l4.1 7.2h-8.2zM215.9 402.3l4.1 7.2h-8.2zM211.3 409.3l4.1 7.2h-8.2zM204.3 417.9l4.1 7.2h-8.2zM210.8 416.7l4.1 7.2h-8.2zM216.4 419l4.1 7.2h-8.2zM206.6 423.7l4.1 7.2h-8.2zM212.4 422.5l4.1 7.2h-8.2zM232.1 421.8l4.1 7.2h-8.2zM269.3 414.4l4.1 7.2h-8.2zM264.7 420.9l4.1 7.2h-8.2zM290.2 423.7l4.1 7.2h-8.2zM308.8 419.5l4.1 7.2h-8.2zM202 430.7l4.1 7.2h-8.2zM217.1 431.8l4.1 7.2h-8.2zM222.9 434.1l4.1 7.2h-8.2zM234.5 436.5l4.1 7.2h-8.2zM255.4 435.3l4.1 7.2h-8.2zM267 436.5l4.1 7.2h-8.2zM278.6 433.4l4.1 7.2h-8.2zM208.9 443.4l4.1 7.2h-8.2zM225.2 441.1l4.1 7.2h-8.2zM234.5 442.3l4.1 7.2h-8.2zM197.3 437.6l4.1 7.2h-8.2zM198.5 450.4l4.1 7.2h-8.2zM234.5 445.7l4.1 7.2h-8.2zM241.4 453.9l4.1 7.2h-8.2zM276.3 453.9l4.1 7.2h-8.2zM197.3 452.7l4.1 7.2h-8.2zM167.6 447.3l4.1 7.2h-8.2zM109.8 465.2l4.1 7.2h-8.2zM191.5 449.3l4.1 7.2h-8.2zM189.5 433.3l4.1 7.2h-8.2zM211.4 441l4.1 7.2h-8.2zM101.4 466.6l4.1 7.2h-8.2zM97.2 472.9l4.1 7.2h-8.2zM142.5 451.5l4.1 7.2h-8.2zM127.3 447.7l4.1 7.2h-8.2zM136.5 440.9l4.1 7.2h-8.2zM142.3 442l4.1 7.2h-8.2zM148.4 448.1l4.1 7.2h-8.2zM110.6 454.7l4.1 7.2h-8.2zM156.8 455.5l4.1 7.2h-8.2zM127.8 454.1l4.1 7.2h-8.2zM89.1 466.4l4.1 7.2h-8.2zM187.2 441.4l4.1 7.2h-8.2zM201.9 448l4.1 7.2h-8.2zM89.6 465.9l4.1 7.2h-8.2zM186.8 447.6l4.1 7.2h-8.2zM182.9 447.3l4.1 7.2h-8.2zM152.5 461.6l4.1 7.2h-8.2zM138.8 453.2l4.1 7.2h-8.2zM197.2 437.6l4.1 7.2h-8.2zM99.4 469.5l4.1 7.2h-8.2zM154.3 438.5l4.1 7.2h-8.2zM132.1 460.5l4.1 7.2h-8.2zM104.2 460.6l4.1 7.2h-8.2zM114.9 459.8l4.1 7.2h-8.2zM204.3 436.9l4.1 7.2h-8.2zM149.4 451.4l4.1 7.2h-8.2zM210.9 425.7l4.1 7.2h-8.2zM163 449l4.1 7.2h-8.2zM122.8 459.9l4.1 7.2h-8.2zM152.6 452l4.1 7.2h-8.2zM88.8 466.5l4.1 7.2h-8.2zM90.1 466.5l4.1 7.2h-8.2zM184.9 445.6l4.1 7.2h-8.2zM169 445.3l4.1 7.2h-8.2zM151.4 442.2l4.1 7.2h-8.2zM114.1 460.2l4.1 7.2h-8.2zM133.2 447.8l4.1 7.2h-8.2zM147.9 460.9l4.1 7.2h-8.2zM133.3 455.1l4.1 7.2h-8.2zM182.4 446.4l4.1 7.2h-8.2zM126.3 456.6l4.1 7.2h-8.2zM211.3 438.4l4.1 7.2h-8.2zM115.1 468.2l4.1 7.2h-8.2zM107.6 454.1l4.1 7.2h-8.2zM140.3 455.2l4.1 7.2h-8.2zM91.1 471.3l4.1 7.2h-8.2zM192.5 454.6l4.1 7.2h-8.2zM165.6 446.9l4.1 7.2h-8.2zM190.4 439.3l4.1 7.2h-8.2zM121.1 455.8l4.1 7.2h-8.2zM136.4 459.4l4.1 7.2h-8.2zM180.4 449.9l4.1 7.2h-8.2zM90.8 467.2l4.1 7.2h-8.2zM128.6 450.4l4.1 7.2h-8.2zM177.9 448.2l4.1 7.2h-8.2zM102.4 468.5l4.1 7.2h-8.2zM128.6 455l4.1 7.2h-8.2zM201.8 440.7l4.1 7.2h-8.2zM192.5 440.7l4.1 7.2h-8.2zM138.4 453.1l4.1 7.2h-8.2zM138.5 456.6l4.1 7.2h-8.2zM139.4 441.6l4.1 7.2h-8.2zM154.2 446.2l4.1 7.2h-8.2zM171.7 453.2l4.1 7.2h-8.2zM149 446.3l4.1 7.2h-8.2zM133.7 455.9l4.1 7.2h-8.2zM162.6 459.5l4.1 7.2h-8.2zM208.1 431.4l4.1 7.2h-8.2zM194.7 435.1l4.1 7.2h-8.2zM174.2 436.9l4.1 7.2h-8.2zM148.7 460.7l4.1 7.2h-8.2zM110.1 459.2l4.1 7.2h-8.2zM126.2 457l4.1 7.2h-8.2zM176.1 443.6l4.1 7.2h-8.2zM97 470.2l4.1 7.2h-8.2zM180 453.9l4.1 7.2h-8.2zM141.2 448.6l4.1 7.2h-8.2zM167.8 456.3l4.1 7.2h-8.2zM143.1 449.3l4.1 7.2h-8.2zM110.8 465l4.1 7.2h-8.2zM161 453.3l4.1 7.2h-8.2zM102.8 465.6l4.1 7.2h-8.2zM108 459.9l4.1 7.2h-8.2zM113.5 454.2l4.1 7.2h-8.2zM151.8 457.9l4.1 7.2h-8.2zM129.3 464.8l4.1 7.2h-8.2zM179.3 450.3l4.1 7.2h-8.2zM171.6 457.4l4.1 7.2h-8.2zM138.7 459.4l4.1 7.2h-8.2zM166.6 447l4.1 7.2h-8.2zM156.8 440.8l4.1 7.2h-8.2zM105.7 472.1l4.1 7.2h-8.2zM199.8 439.2l4.1 7.2h-8.2zM169.8 445.7l4.1 7.2h-8.2zM181.6 450.2l4.1 7.2h-8.2zM175.4 447.4l4.1 7.2h-8.2zM116.8 465.3l4.1 7.2h-8.2zM176.8 449.3l4.1 7.2h-8.2zM139.4 457.9l4.1 7.2h-8.2zM120.8 445.5l4.1 7.2h-8.2zM178.2 443.6l4.1 7.2h-8.2zM134.1 461.6l4.1 7.2h-8.2zM209.2 440.1l4.1 7.2h-8.2zM118.5 464.7l4.1 7.2h-8.2zM159.1 451.6l4.1 7.2h-8.2zM208.1 437.6l4.1 7.2h-8.2zM143.6 459.5l4.1 7.2h-8.2zM96.6 465.9l4.1 7.2h-8.2zM167.7 455.9l4.1 7.2h-8.2zM159.2 440.8l4.1 7.2h-8.2zM163.7 442.7l4.1 7.2h-8.2zM89.5 472l4.1 7.2h-8.2zM128.6 450.7l4.1 7.2h-8.2zM174.7 438l4.1 7.2h-8.2zM116.4 458.3l4.1 7.2h-8.2zM179.8 435.2l4.1 7.2h-8.2zM183.5 444.2l4.1 7.2h-8.2zM115.5 469.4l4.1 7.2h-8.2zM168.8 455.9l4.1 7.2h-8.2zM213.6 431.6l4.1 7.2h-8.2zM154.2 459.7l4.1 7.2h-8.2zM150.4 451.6l4.1 7.2h-8.2zM112.7 444.6l4.1 7.2h-8.2zM137.9 459l4.1 7.2h-8.2zM175.6 444.6l4.1 7.2h-8.2zM198.3 448.1l4.1 7.2h-8.2zM126.2 465.4l4.1 7.2h-8.2zM111.3 464l4.1 7.2h-8.2zM197 447.5l4.1 7.2h-8.2zM198.6 454.3l4.1 7.2h-8.2zM193.3 446.5l4.1 7.2h-8.2zM168.8 445.6l4.1 7.2h-8.2zM127.3 458.3l4.1 7.2h-8.2zM132.6 457.3l4.1 7.2h-8.2zM180.4 443l4.1 7.2h-8.2zM129.4 448.5l4.1 7.2h-8.2zM135 457.4l4.1 7.2h-8.2zM136.8 456.8l4.1 7.2h-8.2zM189.7 444.4l4.1 7.2h-8.2zM187.3 441.7l4.1 7.2h-8.2zM130 465l4.1 7.2h-8.2zM184.4 436.2l4.1 7.2h-8.2zM115.8 464.6l4.1 7.2h-8.2zM208.3 431.5l4.1 7.2h-8.2zM166.8 450.2l4.1 7.2h-8.2zM190.9 442.8l4.1 7.2h-8.2zM148.1 443.8l4.1 7.2h-8.2zM162.6 454.1l4.1 7.2h-8.2zM181.5 452.4l4.1 7.2h-8.2zM208 436.1l4.1 7.2h-8.2zM146.9 441.9l4.1 7.2h-8.2zM145.9 457.3l4.1 7.2h-8.2zM156.1 453.6l4.1 7.2h-8.2zM123.5 460.3l4.1 7.2h-8.2zM182.7 437.5l4.1 7.2h-8.2zM197.1 442.2l4.1 7.2h-8.2zM189.6 439.8l4.1 7.2h-8.2zM114.6 447.7l4.1 7.2h-8.2zM113.6 458l4.1 7.2h-8.2zM145.8 457l4.1 7.2h-8.2zM168.8 457.5l4.1 7.2h-8.2zM108.6 466.7l4.1 7.2h-8.2zM105.3 468.4l4.1 7.2h-8.2zM127 451.4l4.1 7.2h-8.2zM201 435.2l4.1 7.2h-8.2zM153 456.3l4.1 7.2h-8.2zM159.7 443.3l4.1 7.2h-8.2zM169.1 438l4.1 7.2h-8.2zM163.6 452.8l4.1 7.2h-8.2zM172.9 445.9l4.1 7.2h-8.2zM151.6 444.9l4.1 7.2h-8.2zM200.4 449.5l4.1 7.2h-8.2zM209.2 436.2l4.1 7.2h-8.2zM145 458.4l4.1 7.2h-8.2zM180.4 439.7l4.1 7.2h-8.2zM104.2 460.6l4.1 7.2h-8.2zM140.2 459.7l4.1 7.2h-8.2zM147.7 454.8l4.1 7.2h-8.2zM131.6 458.6l4.1 7.2h-8.2zM189.9 454.3l4.1 7.2h-8.2zM95.8 463.6l4.1 7.2h-8.2zM103.2 461l4.1 7.2h-8.2zM134.8 455.5l4.1 7.2h-8.2zM90.9 470.8l4.1 7.2h-8.2zM147.7 455l4.1 7.2h-8.2zM169 439.7l4.1 7.2h-8.2zM187.8 437.7l4.1 7.2h-8.2zM166.1 455.8l4.1 7.2h-8.2zM129.3 442.6l4.1 7.2h-8.2zM157.1 445.8l4.1 7.2h-8.2zM122.1 456.7l4.1 7.2h-8.2zM97.8 471.3l4.1 7.2h-8.2zM167.9 446.2l4.1 7.2h-8.2zM190.9 440l4.1 7.2h-8.2zM178.3 450.3l4.1 7.2h-8.2zM92.5 469l4.1 7.2h-8.2zM123 447.4l4.1 7.2h-8.2zM197.8 441l4.1 7.2h-8.2zM156.1 444.7l4.1 7.2h-8.2zM128 445.4l4.1 7.2h-8.2zM107.5 461.7l4.1 7.2h-8.2zM97.9 472.2l4.1 7.2h-8.2zM162.8 445.5l4.1 7.2h-8.2zM130.3 454.1l4.1 7.2h-8.2zM146.2 438.5l4.1 7.2h-8.2zM122.4 444.8l4.1 7.2h-8.2zM185.8 444.6l4.1 7.2h-8.2zM137.3 457.3l4.1 7.2h-8.2zM118.2 451.4l4.1 7.2h-8.2zM106.9 455.2l4.1 7.2h-8.2zM154.4 457.3l4.1 7.2h-8.2zM130.6 446l4.1 7.2h-8.2zM191.1 437.2l4.1 7.2h-8.2zM93.5 466.5l4.1 7.2h-8.2zM153.1 454.9l4.1 7.2h-8.2zM109.7 464.9l4.1 7.2h-8.2zM163.8 445l4.1 7.2h-8.2zM129.1 455.3l4.1 7.2h-8.2zM194.4 434.1l4.1 7.2h-8.2zM152 446.7l4.1 7.2h-8.2zM131.3 461.5l4.1 7.2h-8.2zM141.6 440.5l4.1 7.2h-8.2zM160.1 441.9l4.1 7.2h-8.2zM203.7 435.8l4.1 7.2h-8.2zM175.9 446.7l4.1 7.2h-8.2zM178.9 446l4.1 7.2h-8.2zM135.8 444.6l4.1 7.2h-8.2zM158.2 450.4l4.1 7.2h-8.2zM178.4 444.1l4.1 7.2h-8.2zM182.3 442.4l4.1 7.2h-8.2zM209.9 434l4.1 7.2h-8.2zM150.7 444.1l4.1 7.2h-8.2zM155.3 445.9l4.1 7.2h-8.2zM151.9 437l4.1 7.2h-8.2zM171 450.1l4.1 7.2h-8.2zM163.8 446.2l4.1 7.2h-8.2zM109.8 468.9l4.1 7.2h-8.2zM126.7 454.4l4.1 7.2h-8.2zM186.4 433.6l4.1 7.2h-8.2zM120.1 446.1l4.1 7.2h-8.2zM193.6 443.7l4.1 7.2h-8.2zM194.2 439.6l4.1 7.2h-8.2zM117 460l4.1 7.2h-8.2zM189.5 452.2l4.1 7.2h-8.2zM120.3 451.4l4.1 7.2h-8.2zM201.1 444.3l4.1 7.2h-8.2zM141.4 461.4l4.1 7.2h-8.2zM198.5 440.4l4.1 7.2h-8.2zM205.9 438l4.1 7.2h-8.2zM166.6 443.6l4.1 7.2h-8.2zM117.4 466.8l4.1 7.2h-8.2zM159.8 441.2l4.1 7.2h-8.2zM131.7 454.5l4.1 7.2h-8.2zM110.2 461l4.1 7.2h-8.2zM188.8 445.4l4.1 7.2h-8.2zM189.6 445.5l4.1 7.2h-8.2zM129.4 447.2l4.1 7.2h-8.2zM196.6 444.1l4.1 7.2h-8.2zM158.8 455.7l4.1 7.2h-8.2zM168 444.1l4.1 7.2h-8.2zM193.3 451.6l4.1 7.2h-8.2zM211.8 435.1l4.1 7.2h-8.2zM95.2 465.4l4.1 7.2h-8.2zM151.7 438.5l4.1 7.2h-8.2zM141.2 452l4.1 7.2h-8.2zM176.4 456.1l4.1 7.2h-8.2zM198.9 450.6l4.1 7.2h-8.2zM108.3 469l4.1 7.2h-8.2zM107.2 459.6l4.1 7.2h-8.2zM199.2 452.8l4.1 7.2h-8.2zM190.8 447l4.1 7.2h-8.2zM187.2 445.9l4.1 7.2h-8.2zM141.7 460.2l4.1 7.2h-8.2zM189.8 448.6l4.1 7.2h-8.2zM162.6 448.4l4.1 7.2h-8.2zM154.2 456.2l4.1 7.2h-8.2zM199 447.3l4.1 7.2h-8.2zM195.4 452.6l4.1 7.2h-8.2zM106.4 455.6l4.1 7.2h-8.2zM193.8 445.4l4.1 7.2h-8.2zM123.1 460.6l4.1 7.2h-8.2zM122.7 447.7l4.1 7.2h-8.2zM110.3 463.6l4.1 7.2h-8.2zM131.6 462.2l4.1 7.2h-8.2zM167.4 443.4l4.1 7.2h-8.2zM162.9 448.2l4.1 7.2h-8.2zM129.7 448.8l4.1 7.2h-8.2zM179.4 445.2l4.1 7.2h-8.2zM150.1 445.9l4.1 7.2h-8.2zM152.5 457l4.1 7.2h-8.2zM178.4 453.8l4.1 7.2h-8.2zM86.1 470.9l4.1 7.2h-8.2zM154.5 456.9l4.1 7.2h-8.2zM154 454.1l4.1 7.2h-8.2zM183.2 436.3l4.1 7.2h-8.2zM183.7 440.8l4.1 7.2h-8.2zM194.6 450.3l4.1 7.2h-8.2zM118.9 459.2l4.1 7.2h-8.2zM139.9 453.2l4.1 7.2h-8.2zM133.4 452.2l4.1 7.2h-8.2zM116 468.8l4.1 7.2h-8.2zM189.6 445.4l4.1 7.2h-8.2zM156.7 441.3l4.1 7.2h-8.2zM205.3 432.5l4.1 7.2h-8.2zM116.5 452.1l4.1 7.2h-8.2zM159.7 441.8l4.1 7.2h-8.2zM89.7 468.7l4.1 7.2h-8.2zM116 466.6l4.1 7.2h-8.2zM115.1 466.6l4.1 7.2h-8.2zM183.8 441.4l4.1 7.2h-8.2zM187.5 454.2l4.1 7.2h-8.2zM161.8 444.4l4.1 7.2h-8.2zM151.6 444.7l4.1 7.2h-8.2zM108.9 454.3l4.1 7.2h-8.2zM108.7 458l4.1 7.2h-8.2z"/></clipPath><path fill="#FF0000" fill-opacity="0.26" clip-path="url(#tc3)" d="M72.9 469.8L82.9 468.4L93 467L103 465.5L113.1 463.9L123.1 462.2L133.2 460.3L143.2 458.2L153.2 455.9L163.3 453.5L173.3 451.1L183.4 448.6L193.4 446.1L203.4 443.6L213.5 441L223.5 438.5L233.6 435.9L243.6 433.3L253.6 430.8L263.7 428.2L273.7 425.6L283.8 423L293.8 420.5L303.9 417.9L313.9 415.3L313.9 439.2L303.9 440.5L293.8 441.8L283.8 443.1L273.7 444.5L263.7 445.8L253.6 447.1L243.6 448.4L233.6 449.8L223.5 451.1L213.5 452.4L203.4 453.8L193.4 455.1L183.4 456.5L173.3 457.9L163.3 459.4L153.2 460.9L143.2 462.5L133.2 464.3L123.1 466.3L113.1 468.5L103 470.8L93 473.2L82.9 475.7L72.9 478.2Z"/>
<path fill="#006400" fill-opacity="0.3" d="M84 470.4L94.9 467.6L105.8 464.8L116.6 462L127.5 459.2L138.4 456.3L149.2 453.3L160.1 450.4L171 447.4L181.9 444.3L192.8 441.3L203.6 438.2L214.5 435L225.4 431.9L236.2 428.8L247.1 425.6L258 422.4L268.9 419.3L279.8 416.1L290.6 412.9L301.5 409.7L312.4 406.5L323.2 403.3L334.1 400.1L345 396.9L345 407.3L334.1 410L323.2 412.7L312.4 415.4L301.5 418.1L290.6 420.8L279.8 423.5L268.9 426.2L258 428.9L247.1 431.6L236.2 434.4L225.4 437.1L214.5 439.9L203.6 442.7L192.8 445.5L181.9 448.3L171 451.1L160.1 454L149.2 456.9L138.4 459.9L127.5 462.9L116.6 466L105.8 469L94.9 472.2L84 475.3Z"/>
<path stroke="#006400" stroke-width="3.0" stroke-linecap="round" d="M84 472.8L345 402.1"/>
<path stroke="#FF2200" stroke-width="3.0" stroke-linecap="round" d="M72.9 474L313.9 427.2"/>
</g>
<rect x="59.4" y="364.8" width="285.5" height="122.9" fill="none" stroke="#3a3a3a" stroke-width="1.4"/>
<path d="M71.8 487.7V491.7M136.97 487.7V491.7M202.15 487.7V491.7M267.32 487.7V491.7M332.5 487.7V491.7M55.4 483.2H59.4M55.4 451.6H59.4M55.4 420H59.4M55.4 388.4H59.4" stroke="#3a3a3a" stroke-width="1.4" fill="none"/>
<g><text transform="translate(71.8 504.3) scale(1 1.1)" text-anchor="middle">0</text></g>
<g><text transform="translate(136.97 504.3) scale(1 1.1)" text-anchor="middle">200</text></g>
<g><text transform="translate(202.15 504.3) scale(1 1.1)" text-anchor="middle">400</text></g>
<g><text transform="translate(267.32 504.3) scale(1 1.1)" text-anchor="middle">600</text></g>
<g><text transform="translate(332.5 504.3) scale(1 1.1)" text-anchor="middle">800</text></g>
<text transform="translate(51.6 487.6) scale(1 1.1)" text-anchor="end">0</text>
<text transform="translate(51.6 456) scale(1 1.1)" text-anchor="end">25</text>
<text transform="translate(51.6 424.4) scale(1 1.1)" text-anchor="end">50</text>
<text transform="translate(51.6 392.8) scale(1 1.1)" text-anchor="end">75</text>
<clipPath id="clipf"><rect x="398.5" y="364.8" width="284.9" height="122.8"/></clipPath>
<rect x="398.5" y="364.8" width="284.9" height="122.8" fill="#fff"/>
<path d="M440.66 364.8V487.6M506.59 364.8V487.6M572.51 364.8V487.6M638.44 364.8V487.6M398.5 474.04H683.4M398.5 451.32H683.4M398.5 428.6H683.4M398.5 405.88H683.4M398.5 383.16H683.4" stroke="#EDEDED" stroke-width="0.7" fill="none"/>
<path d="M407.7 364.8V487.6M473.62 364.8V487.6M539.55 364.8V487.6M605.48 364.8V487.6M671.4 364.8V487.6M398.5 485.4H683.4M398.5 462.68H683.4M398.5 439.96H683.4M398.5 417.24H683.4M398.5 394.52H683.4M398.5 371.8H683.4" stroke="#EBEBEB" stroke-width="1.2" fill="none"/>
<g clip-path="url(#clipf)">
<path fill="#FF2200" d="M485.1 428.8a3.35 3.35 0 1 0 6.7 0a3.35 3.35 0 1 0 -6.7 0zM497.8 428.1a3.35 3.35 0 1 0 6.7 0a3.35 3.35 0 1 0 -6.7 0zM502.5 426.5a3.35 3.35 0 1 0 6.7 0a3.35 3.35 0 1 0 -6.7 0zM517.6 433.4a3.35 3.35 0 1 0 6.7 0a3.35 3.35 0 1 0 -6.7 0zM519.9 442.7a3.35 3.35 0 1 0 6.7 0a3.35 3.35 0 1 0 -6.7 0zM511.9 439.2a3.35 3.35 0 1 0 6.7 0a3.35 3.35 0 1 0 -6.7 0zM502.5 452a3.35 3.35 0 1 0 6.7 0a3.35 3.35 0 1 0 -6.7 0zM510.6 450.8a3.35 3.35 0 1 0 6.7 0a3.35 3.35 0 1 0 -6.7 0zM468.8 468.2a3.35 3.35 0 1 0 6.7 0a3.35 3.35 0 1 0 -6.7 0zM449.1 471.7a3.35 3.35 0 1 0 6.7 0a3.35 3.35 0 1 0 -6.7 0zM431.8 478.7a3.35 3.35 0 1 0 6.7 0a3.35 3.35 0 1 0 -6.7 0zM423.6 479.8a3.35 3.35 0 1 0 6.7 0a3.35 3.35 0 1 0 -6.7 0zM413.2 482.2a3.35 3.35 0 1 0 6.7 0a3.35 3.35 0 1 0 -6.7 0zM566.5 380.1a3.35 3.35 0 1 0 6.7 0a3.35 3.35 0 1 0 -6.7 0zM618.4 391.7a3.35 3.35 0 1 0 6.7 0a3.35 3.35 0 1 0 -6.7 0zM613.6 404.9a3.35 3.35 0 1 0 6.7 0a3.35 3.35 0 1 0 -6.7 0zM654.9 398.6a3.35 3.35 0 1 0 6.7 0a3.35 3.35 0 1 0 -6.7 0zM668.1 395.8a3.35 3.35 0 1 0 6.7 0a3.35 3.35 0 1 0 -6.7 0zM547.5 414.4a3.35 3.35 0 1 0 6.7 0a3.35 3.35 0 1 0 -6.7 0zM539.4 425.8a3.35 3.35 0 1 0 6.7 0a3.35 3.35 0 1 0 -6.7 0zM527.9 432.7a3.35 3.35 0 1 0 6.7 0a3.35 3.35 0 1 0 -6.7 0zM416.9 482.8a3.35 3.35 0 1 0 6.7 0a3.35 3.35 0 1 0 -6.7 0zM415.6 476.4a3.35 3.35 0 1 0 6.7 0a3.35 3.35 0 1 0 -6.7 0zM503.9 435.2a3.35 3.35 0 1 0 6.7 0a3.35 3.35 0 1 0 -6.7 0zM511.2 437.3a3.35 3.35 0 1 0 6.7 0a3.35 3.35 0 1 0 -6.7 0zM492.5 434.7a3.35 3.35 0 1 0 6.7 0a3.35 3.35 0 1 0 -6.7 0z"/>
<path fill="#006400" d="M410.8 477l4.1 7.2h-8.2zM512 423.4l4.1 7.2h-8.2zM520.8 442.1l4.1 7.2h-8.2zM519.8 449.9l4.1 7.2h-8.2zM511 452.5l4.1 7.2h-8.2zM512.5 458.7l4.1 7.2h-8.2zM521.9 448.3l4.1 7.2h-8.2zM539.7 409.2l4.1 7.2h-8.2zM539.3 414.3l4.1 7.2h-8.2zM549.2 403.9l4.1 7.2h-8.2zM563.6 407.4l4.1 7.2h-8.2zM593.1 418.5l4.1 7.2h-8.2zM610 425.9l4.1 7.2h-8.2zM550.9 436.4l4.1 7.2h-8.2zM574.8 444.5l4.1 7.2h-8.2zM586.4 437.5l4.1 7.2h-8.2zM420.3 469l4.1 7.2h-8.2zM426.7 461l4.1 7.2h-8.2zM433.7 459l4.1 7.2h-8.2zM444 450l4.1 7.2h-8.2zM448.5 447.5l4.1 7.2h-8.2zM452.3 451l4.1 7.2h-8.2zM457.4 448l4.1 7.2h-8.2zM465.1 440.5l4.1 7.2h-8.2zM470.3 441l4.1 7.2h-8.2zM476 436.5l4.1 7.2h-8.2zM485 437l4.1 7.2h-8.2zM491.8 433.5l4.1 7.2h-8.2zM495.4 433.5l4.1 7.2h-8.2zM503.2 427l4.1 7.2h-8.2zM501.1 435.5l4.1 7.2h-8.2zM429.1 471.6l4.1 7.2h-8.2zM466.6 459.9l4.1 7.2h-8.2zM464.3 444l4.1 7.2h-8.2zM480.6 454l4.1 7.2h-8.2zM490.4 446.9l4.1 7.2h-8.2zM473.6 456.3l4.1 7.2h-8.2zM425.3 471.5l4.1 7.2h-8.2zM470.4 455.7l4.1 7.2h-8.2zM430.6 470.2l4.1 7.2h-8.2zM491 439.7l4.1 7.2h-8.2zM451.1 458.5l4.1 7.2h-8.2zM455.7 461.9l4.1 7.2h-8.2zM452.7 462.8l4.1 7.2h-8.2zM473.6 440.8l4.1 7.2h-8.2zM425.6 470.3l4.1 7.2h-8.2zM469.4 445.8l4.1 7.2h-8.2zM464.3 449.9l4.1 7.2h-8.2zM472.1 450.7l4.1 7.2h-8.2zM496.5 440l4.1 7.2h-8.2zM427.8 468.4l4.1 7.2h-8.2zM493.1 438.6l4.1 7.2h-8.2zM431.8 465.8l4.1 7.2h-8.2zM429.7 469.2l4.1 7.2h-8.2zM434.2 469.4l4.1 7.2h-8.2zM473.6 451.6l4.1 7.2h-8.2zM462 454.5l4.1 7.2h-8.2zM476.7 449.5l4.1 7.2h-8.2zM458.1 463.3l4.1 7.2h-8.2zM453.9 461.2l4.1 7.2h-8.2zM482.5 443.4l4.1 7.2h-8.2zM490.7 440.4l4.1 7.2h-8.2zM496.2 440.3l4.1 7.2h-8.2zM495.9 448.6l4.1 7.2h-8.2zM476.4 451.7l4.1 7.2h-8.2zM438.8 460l4.1 7.2h-8.2zM496.3 436.8l4.1 7.2h-8.2zM436.8 468.4l4.1 7.2h-8.2zM455 458.1l4.1 7.2h-8.2zM480.3 457l4.1 7.2h-8.2zM465.7 447.6l4.1 7.2h-8.2zM492.7 452l4.1 7.2h-8.2zM461.3 450.6l4.1 7.2h-8.2zM476.5 439.1l4.1 7.2h-8.2zM487 438l4.1 7.2h-8.2zM500.9 433.1l4.1 7.2h-8.2zM475 454.9l4.1 7.2h-8.2zM443.8 467.5l4.1 7.2h-8.2zM456.8 452.2l4.1 7.2h-8.2zM457.9 463.6l4.1 7.2h-8.2zM450.5 466.2l4.1 7.2h-8.2zM478.3 447.9l4.1 7.2h-8.2zM479.9 457.2l4.1 7.2h-8.2zM450 451.8l4.1 7.2h-8.2zM469.7 459.6l4.1 7.2h-8.2zM498.7 437.5l4.1 7.2h-8.2zM493.1 442.2l4.1 7.2h-8.2zM499.6 447.2l4.1 7.2h-8.2zM457.2 455l4.1 7.2h-8.2zM472.2 447.5l4.1 7.2h-8.2zM454.7 457.5l4.1 7.2h-8.2zM441.6 464.4l4.1 7.2h-8.2zM461 459.3l4.1 7.2h-8.2zM437.5 459.9l4.1 7.2h-8.2zM480.9 440.9l4.1 7.2h-8.2zM479.9 441.5l4.1 7.2h-8.2zM435.9 466.1l4.1 7.2h-8.2zM449.6 463.4l4.1 7.2h-8.2zM462 460.9l4.1 7.2h-8.2zM471.8 445.6l4.1 7.2h-8.2zM476.8 452.9l4.1 7.2h-8.2zM450.5 452.5l4.1 7.2h-8.2zM499.3 434.9l4.1 7.2h-8.2zM474.2 448.7l4.1 7.2h-8.2zM495.6 449.7l4.1 7.2h-8.2zM477.8 454.1l4.1 7.2h-8.2zM481.5 454.5l4.1 7.2h-8.2zM456.1 454.4l4.1 7.2h-8.2zM489.7 448.4l4.1 7.2h-8.2zM476.7 444.4l4.1 7.2h-8.2zM453.1 462.8l4.1 7.2h-8.2zM445.9 460.3l4.1 7.2h-8.2zM495 443.8l4.1 7.2h-8.2zM444.5 451.6l4.1 7.2h-8.2zM438.1 469.2l4.1 7.2h-8.2zM498.8 433.1l4.1 7.2h-8.2zM458.5 455.7l4.1 7.2h-8.2zM425.3 469.5l4.1 7.2h-8.2zM496.5 444.8l4.1 7.2h-8.2zM439.1 467.5l4.1 7.2h-8.2zM459.3 455.3l4.1 7.2h-8.2zM460.8 447.9l4.1 7.2h-8.2zM425 470.9l4.1 7.2h-8.2zM500.3 441.1l4.1 7.2h-8.2zM448.2 462.8l4.1 7.2h-8.2zM479.4 442.4l4.1 7.2h-8.2zM454.2 453.4l4.1 7.2h-8.2zM434.8 466.1l4.1 7.2h-8.2zM454.2 457.8l4.1 7.2h-8.2zM485.2 450.2l4.1 7.2h-8.2zM501 441.7l4.1 7.2h-8.2zM440.8 460l4.1 7.2h-8.2zM481.9 448.7l4.1 7.2h-8.2zM492.6 447.1l4.1 7.2h-8.2zM499.7 433.6l4.1 7.2h-8.2zM497.7 450.2l4.1 7.2h-8.2zM487.3 453.1l4.1 7.2h-8.2zM466.7 451.5l4.1 7.2h-8.2zM459.2 448l4.1 7.2h-8.2zM448.6 453.6l4.1 7.2h-8.2zM461.5 454.2l4.1 7.2h-8.2zM477.9 441.4l4.1 7.2h-8.2zM446.7 468.2l4.1 7.2h-8.2zM499.7 444.5l4.1 7.2h-8.2zM443.8 466.8l4.1 7.2h-8.2zM472.6 451.7l4.1 7.2h-8.2zM434.7 463.7l4.1 7.2h-8.2zM453.5 456.9l4.1 7.2h-8.2zM482.4 456.4l4.1 7.2h-8.2zM471.1 443.7l4.1 7.2h-8.2zM485 444.3l4.1 7.2h-8.2zM493.4 444.5l4.1 7.2h-8.2zM458.3 454.6l4.1 7.2h-8.2zM490.6 439.6l4.1 7.2h-8.2zM481.5 440.3l4.1 7.2h-8.2zM493.9 450.4l4.1 7.2h-8.2zM440.9 463.1l4.1 7.2h-8.2zM454.8 459.2l4.1 7.2h-8.2zM462.7 456.1l4.1 7.2h-8.2zM438.3 469.1l4.1 7.2h-8.2zM461.6 447.5l4.1 7.2h-8.2zM468.6 458.8l4.1 7.2h-8.2zM429.4 464.2l4.1 7.2h-8.2zM446.9 463.8l4.1 7.2h-8.2zM493.1 442.5l4.1 7.2h-8.2zM447.3 455.4l4.1 7.2h-8.2zM459 448.6l4.1 7.2h-8.2zM442.9 453.2l4.1 7.2h-8.2zM489.4 441.8l4.1 7.2h-8.2zM467.3 449l4.1 7.2h-8.2zM494.3 439.8l4.1 7.2h-8.2zM455.1 458.7l4.1 7.2h-8.2zM490.8 448.9l4.1 7.2h-8.2zM486.2 439.1l4.1 7.2h-8.2zM486.3 443.4l4.1 7.2h-8.2zM441.8 457.6l4.1 7.2h-8.2zM469.8 457.9l4.1 7.2h-8.2zM469.7 450.9l4.1 7.2h-8.2zM464.2 453.4l4.1 7.2h-8.2zM492.3 445l4.1 7.2h-8.2zM458 457.1l4.1 7.2h-8.2zM449.4 461.7l4.1 7.2h-8.2zM445.9 452.1l4.1 7.2h-8.2zM438.6 466.9l4.1 7.2h-8.2zM435.8 459.9l4.1 7.2h-8.2zM480 446.7l4.1 7.2h-8.2zM470.9 450.1l4.1 7.2h-8.2zM477.7 452.8l4.1 7.2h-8.2zM443.5 458.7l4.1 7.2h-8.2zM466.7 448.5l4.1 7.2h-8.2zM499.8 435.6l4.1 7.2h-8.2zM436.5 468.5l4.1 7.2h-8.2zM453.2 459.8l4.1 7.2h-8.2zM422.8 470.3l4.1 7.2h-8.2zM482.2 444.5l4.1 7.2h-8.2zM488.1 438l4.1 7.2h-8.2zM452.2 455.5l4.1 7.2h-8.2zM460.6 450.1l4.1 7.2h-8.2zM464.1 458.3l4.1 7.2h-8.2zM492.8 448.2l4.1 7.2h-8.2zM498.3 440.8l4.1 7.2h-8.2zM475.5 458.8l4.1 7.2h-8.2zM482.5 439.4l4.1 7.2h-8.2zM455.5 458.6l4.1 7.2h-8.2zM475.3 438.9l4.1 7.2h-8.2zM489.4 454.1l4.1 7.2h-8.2zM423.9 471.7l4.1 7.2h-8.2zM456.6 451.9l4.1 7.2h-8.2zM439.9 463.9l4.1 7.2h-8.2zM486.2 439.2l4.1 7.2h-8.2zM489.3 451.6l4.1 7.2h-8.2zM499.6 436.4l4.1 7.2h-8.2zM486.4 438.6l4.1 7.2h-8.2zM469.6 450.9l4.1 7.2h-8.2zM486.1 442.8l4.1 7.2h-8.2zM464 459.2l4.1 7.2h-8.2zM487.4 445.7l4.1 7.2h-8.2zM462.4 448.6l4.1 7.2h-8.2zM494 443.7l4.1 7.2h-8.2zM442.9 457l4.1 7.2h-8.2zM436 466.9l4.1 7.2h-8.2zM472 454.6l4.1 7.2h-8.2zM485.4 441.2l4.1 7.2h-8.2zM454.9 456.6l4.1 7.2h-8.2zM492.1 447.7l4.1 7.2h-8.2zM488 451l4.1 7.2h-8.2zM463 447.7l4.1 7.2h-8.2zM493.1 445.2l4.1 7.2h-8.2zM480.2 450.2l4.1 7.2h-8.2zM448.7 462l4.1 7.2h-8.2zM425.9 469.5l4.1 7.2h-8.2zM422.5 472.8l4.1 7.2h-8.2zM492.2 453.1l4.1 7.2h-8.2zM498 447.7l4.1 7.2h-8.2zM478.7 442.6l4.1 7.2h-8.2zM485.1 444.6l4.1 7.2h-8.2zM432.3 468.9l4.1 7.2h-8.2zM469.8 446.9l4.1 7.2h-8.2zM438.8 459.2l4.1 7.2h-8.2zM498.9 444.4l4.1 7.2h-8.2zM474.9 449.9l4.1 7.2h-8.2zM465.5 453.5l4.1 7.2h-8.2zM463.7 461l4.1 7.2h-8.2zM478.1 455.6l4.1 7.2h-8.2zM445 459.1l4.1 7.2h-8.2zM478.5 450.9l4.1 7.2h-8.2zM492.5 449.3l4.1 7.2h-8.2zM481.1 455.3l4.1 7.2h-8.2zM447 454.7l4.1 7.2h-8.2zM436.2 467l4.1 7.2h-8.2zM476.4 446.9l4.1 7.2h-8.2zM500.2 446.7l4.1 7.2h-8.2zM440.3 465.9l4.1 7.2h-8.2zM469.8 455l4.1 7.2h-8.2zM423.7 470.4l4.1 7.2h-8.2zM452.4 458.2l4.1 7.2h-8.2zM439.1 468l4.1 7.2h-8.2zM492.1 447l4.1 7.2h-8.2zM493 435.4l4.1 7.2h-8.2zM470.9 454.8l4.1 7.2h-8.2zM441.3 454.4l4.1 7.2h-8.2zM436 461l4.1 7.2h-8.2zM485.4 445.5l4.1 7.2h-8.2zM426.5 468.1l4.1 7.2h-8.2zM466.9 446.2l4.1 7.2h-8.2zM478.3 439.5l4.1 7.2h-8.2zM464.5 444.6l4.1 7.2h-8.2zM479.6 442.1l4.1 7.2h-8.2zM488.5 441l4.1 7.2h-8.2zM459.6 458.5l4.1 7.2h-8.2zM468.3 456.7l4.1 7.2h-8.2zM450.7 454.1l4.1 7.2h-8.2zM460.6 460.6l4.1 7.2h-8.2zM469.6 451.2l4.1 7.2h-8.2zM447.6 462.3l4.1 7.2h-8.2zM474.6 446.7l4.1 7.2h-8.2zM465.8 453.1l4.1 7.2h-8.2zM480.2 449.4l4.1 7.2h-8.2zM448.9 454.9l4.1 7.2h-8.2zM495.3 445.3l4.1 7.2h-8.2zM471 443.7l4.1 7.2h-8.2zM459.2 462.7l4.1 7.2h-8.2zM498.8 448.8l4.1 7.2h-8.2zM480.5 442.7l4.1 7.2h-8.2zM428.9 470.8l4.1 7.2h-8.2zM475.8 449l4.1 7.2h-8.2zM500.2 442.4l4.1 7.2h-8.2zM431.4 466.6l4.1 7.2h-8.2zM449.5 464.3l4.1 7.2h-8.2zM492.8 437.2l4.1 7.2h-8.2zM429.2 470.6l4.1 7.2h-8.2zM463.4 450.6l4.1 7.2h-8.2zM500.2 443.5l4.1 7.2h-8.2zM474.2 457.1l4.1 7.2h-8.2zM476.6 447.9l4.1 7.2h-8.2zM429.2 470.3l4.1 7.2h-8.2zM434.2 468.1l4.1 7.2h-8.2zM476.1 448.7l4.1 7.2h-8.2zM459.4 456l4.1 7.2h-8.2zM476.1 454.8l4.1 7.2h-8.2zM461.7 445.5l4.1 7.2h-8.2zM441 463.1l4.1 7.2h-8.2zM454.4 453.9l4.1 7.2h-8.2zM463.4 448.6l4.1 7.2h-8.2zM498.1 433.6l4.1 7.2h-8.2zM427.2 464.7l4.1 7.2h-8.2zM450.1 460.6l4.1 7.2h-8.2zM446.1 462.7l4.1 7.2h-8.2zM489.6 448.8l4.1 7.2h-8.2zM497.6 449.3l4.1 7.2h-8.2zM428.5 469.1l4.1 7.2h-8.2zM455.2 453.3l4.1 7.2h-8.2zM442.5 461.2l4.1 7.2h-8.2zM471.3 451.8l4.1 7.2h-8.2zM484.9 450.3l4.1 7.2h-8.2zM493 450.5l4.1 7.2h-8.2zM494.6 436.5l4.1 7.2h-8.2zM465.1 457.3l4.1 7.2h-8.2zM433.8 463.4l4.1 7.2h-8.2zM480.9 452.9l4.1 7.2h-8.2zM450.3 451.5l4.1 7.2h-8.2zM497 441.5l4.1 7.2h-8.2zM443.6 461.8l4.1 7.2h-8.2zM456.6 454.4l4.1 7.2h-8.2zM490.9 453.4l4.1 7.2h-8.2zM471.9 446.5l4.1 7.2h-8.2zM497 444.1l4.1 7.2h-8.2zM466.4 457.6l4.1 7.2h-8.2zM482.1 452.2l4.1 7.2h-8.2zM447.3 451.6l4.1 7.2h-8.2zM440.5 468.9l4.1 7.2h-8.2z"/>
<path fill="#FF0000" fill-opacity="0.3" d="M416.6 476.6L427.2 472.6L437.7 468.6L448.3 464.5L458.9 460.4L469.5 456.2L480 451.9L490.6 447.5L501.2 443.1L511.7 438.6L522.3 434.1L532.9 429.5L543.5 424.9L554 420.4L564.6 415.8L575.2 411.2L585.7 406.6L596.3 402L606.9 397.4L617.4 392.8L628 388.3L638.6 383.7L649.2 379.1L659.7 374.5L670.3 369.9L670.3 383.3L659.7 387.2L649.2 391.1L638.6 395L628 399L617.4 402.9L606.9 406.8L596.3 410.7L585.7 414.6L575.2 418.6L564.6 422.5L554 426.4L543.5 430.3L532.9 434.3L522.3 438.3L511.7 442.2L501.2 446.2L490.6 450.3L480 454.4L469.5 458.6L458.9 462.9L448.3 467.3L437.7 471.8L427.2 476.3L416.6 480.8Z"/>
<clipPath id="tc5"><path d="M410.8 477l4.1 7.2h-8.2zM512 423.4l4.1 7.2h-8.2zM520.8 442.1l4.1 7.2h-8.2zM519.8 449.9l4.1 7.2h-8.2zM511 452.5l4.1 7.2h-8.2zM512.5 458.7l4.1 7.2h-8.2zM521.9 448.3l4.1 7.2h-8.2zM539.7 409.2l4.1 7.2h-8.2zM539.3 414.3l4.1 7.2h-8.2zM549.2 403.9l4.1 7.2h-8.2zM563.6 407.4l4.1 7.2h-8.2zM593.1 418.5l4.1 7.2h-8.2zM610 425.9l4.1 7.2h-8.2zM550.9 436.4l4.1 7.2h-8.2zM574.8 444.5l4.1 7.2h-8.2zM586.4 437.5l4.1 7.2h-8.2zM420.3 469l4.1 7.2h-8.2zM426.7 461l4.1 7.2h-8.2zM433.7 459l4.1 7.2h-8.2zM444 450l4.1 7.2h-8.2zM448.5 447.5l4.1 7.2h-8.2zM452.3 451l4.1 7.2h-8.2zM457.4 448l4.1 7.2h-8.2zM465.1 440.5l4.1 7.2h-8.2zM470.3 441l4.1 7.2h-8.2zM476 436.5l4.1 7.2h-8.2zM485 437l4.1 7.2h-8.2zM491.8 433.5l4.1 7.2h-8.2zM495.4 433.5l4.1 7.2h-8.2zM503.2 427l4.1 7.2h-8.2zM501.1 435.5l4.1 7.2h-8.2zM429.1 471.6l4.1 7.2h-8.2zM466.6 459.9l4.1 7.2h-8.2zM464.3 444l4.1 7.2h-8.2zM480.6 454l4.1 7.2h-8.2zM490.4 446.9l4.1 7.2h-8.2zM473.6 456.3l4.1 7.2h-8.2zM425.3 471.5l4.1 7.2h-8.2zM470.4 455.7l4.1 7.2h-8.2zM430.6 470.2l4.1 7.2h-8.2zM491 439.7l4.1 7.2h-8.2zM451.1 458.5l4.1 7.2h-8.2zM455.7 461.9l4.1 7.2h-8.2zM452.7 462.8l4.1 7.2h-8.2zM473.6 440.8l4.1 7.2h-8.2zM425.6 470.3l4.1 7.2h-8.2zM469.4 445.8l4.1 7.2h-8.2zM464.3 449.9l4.1 7.2h-8.2zM472.1 450.7l4.1 7.2h-8.2zM496.5 440l4.1 7.2h-8.2zM427.8 468.4l4.1 7.2h-8.2zM493.1 438.6l4.1 7.2h-8.2zM431.8 465.8l4.1 7.2h-8.2zM429.7 469.2l4.1 7.2h-8.2zM434.2 469.4l4.1 7.2h-8.2zM473.6 451.6l4.1 7.2h-8.2zM462 454.5l4.1 7.2h-8.2zM476.7 449.5l4.1 7.2h-8.2zM458.1 463.3l4.1 7.2h-8.2zM453.9 461.2l4.1 7.2h-8.2zM482.5 443.4l4.1 7.2h-8.2zM490.7 440.4l4.1 7.2h-8.2zM496.2 440.3l4.1 7.2h-8.2zM495.9 448.6l4.1 7.2h-8.2zM476.4 451.7l4.1 7.2h-8.2zM438.8 460l4.1 7.2h-8.2zM496.3 436.8l4.1 7.2h-8.2zM436.8 468.4l4.1 7.2h-8.2zM455 458.1l4.1 7.2h-8.2zM480.3 457l4.1 7.2h-8.2zM465.7 447.6l4.1 7.2h-8.2zM492.7 452l4.1 7.2h-8.2zM461.3 450.6l4.1 7.2h-8.2zM476.5 439.1l4.1 7.2h-8.2zM487 438l4.1 7.2h-8.2zM500.9 433.1l4.1 7.2h-8.2zM475 454.9l4.1 7.2h-8.2zM443.8 467.5l4.1 7.2h-8.2zM456.8 452.2l4.1 7.2h-8.2zM457.9 463.6l4.1 7.2h-8.2zM450.5 466.2l4.1 7.2h-8.2zM478.3 447.9l4.1 7.2h-8.2zM479.9 457.2l4.1 7.2h-8.2zM450 451.8l4.1 7.2h-8.2zM469.7 459.6l4.1 7.2h-8.2zM498.7 437.5l4.1 7.2h-8.2zM493.1 442.2l4.1 7.2h-8.2zM499.6 447.2l4.1 7.2h-8.2zM457.2 455l4.1 7.2h-8.2zM472.2 447.5l4.1 7.2h-8.2zM454.7 457.5l4.1 7.2h-8.2zM441.6 464.4l4.1 7.2h-8.2zM461 459.3l4.1 7.2h-8.2zM437.5 459.9l4.1 7.2h-8.2zM480.9 440.9l4.1 7.2h-8.2zM479.9 441.5l4.1 7.2h-8.2zM435.9 466.1l4.1 7.2h-8.2zM449.6 463.4l4.1 7.2h-8.2zM462 460.9l4.1 7.2h-8.2zM471.8 445.6l4.1 7.2h-8.2zM476.8 452.9l4.1 7.2h-8.2zM450.5 452.5l4.1 7.2h-8.2zM499.3 434.9l4.1 7.2h-8.2zM474.2 448.7l4.1 7.2h-8.2zM495.6 449.7l4.1 7.2h-8.2zM477.8 454.1l4.1 7.2h-8.2zM481.5 454.5l4.1 7.2h-8.2zM456.1 454.4l4.1 7.2h-8.2zM489.7 448.4l4.1 7.2h-8.2zM476.7 444.4l4.1 7.2h-8.2zM453.1 462.8l4.1 7.2h-8.2zM445.9 460.3l4.1 7.2h-8.2zM495 443.8l4.1 7.2h-8.2zM444.5 451.6l4.1 7.2h-8.2zM438.1 469.2l4.1 7.2h-8.2zM498.8 433.1l4.1 7.2h-8.2zM458.5 455.7l4.1 7.2h-8.2zM425.3 469.5l4.1 7.2h-8.2zM496.5 444.8l4.1 7.2h-8.2zM439.1 467.5l4.1 7.2h-8.2zM459.3 455.3l4.1 7.2h-8.2zM460.8 447.9l4.1 7.2h-8.2zM425 470.9l4.1 7.2h-8.2zM500.3 441.1l4.1 7.2h-8.2zM448.2 462.8l4.1 7.2h-8.2zM479.4 442.4l4.1 7.2h-8.2zM454.2 453.4l4.1 7.2h-8.2zM434.8 466.1l4.1 7.2h-8.2zM454.2 457.8l4.1 7.2h-8.2zM485.2 450.2l4.1 7.2h-8.2zM501 441.7l4.1 7.2h-8.2zM440.8 460l4.1 7.2h-8.2zM481.9 448.7l4.1 7.2h-8.2zM492.6 447.1l4.1 7.2h-8.2zM499.7 433.6l4.1 7.2h-8.2zM497.7 450.2l4.1 7.2h-8.2zM487.3 453.1l4.1 7.2h-8.2zM466.7 451.5l4.1 7.2h-8.2zM459.2 448l4.1 7.2h-8.2zM448.6 453.6l4.1 7.2h-8.2zM461.5 454.2l4.1 7.2h-8.2zM477.9 441.4l4.1 7.2h-8.2zM446.7 468.2l4.1 7.2h-8.2zM499.7 444.5l4.1 7.2h-8.2zM443.8 466.8l4.1 7.2h-8.2zM472.6 451.7l4.1 7.2h-8.2zM434.7 463.7l4.1 7.2h-8.2zM453.5 456.9l4.1 7.2h-8.2zM482.4 456.4l4.1 7.2h-8.2zM471.1 443.7l4.1 7.2h-8.2zM485 444.3l4.1 7.2h-8.2zM493.4 444.5l4.1 7.2h-8.2zM458.3 454.6l4.1 7.2h-8.2zM490.6 439.6l4.1 7.2h-8.2zM481.5 440.3l4.1 7.2h-8.2zM493.9 450.4l4.1 7.2h-8.2zM440.9 463.1l4.1 7.2h-8.2zM454.8 459.2l4.1 7.2h-8.2zM462.7 456.1l4.1 7.2h-8.2zM438.3 469.1l4.1 7.2h-8.2zM461.6 447.5l4.1 7.2h-8.2zM468.6 458.8l4.1 7.2h-8.2zM429.4 464.2l4.1 7.2h-8.2zM446.9 463.8l4.1 7.2h-8.2zM493.1 442.5l4.1 7.2h-8.2zM447.3 455.4l4.1 7.2h-8.2zM459 448.6l4.1 7.2h-8.2zM442.9 453.2l4.1 7.2h-8.2zM489.4 441.8l4.1 7.2h-8.2zM467.3 449l4.1 7.2h-8.2zM494.3 439.8l4.1 7.2h-8.2zM455.1 458.7l4.1 7.2h-8.2zM490.8 448.9l4.1 7.2h-8.2zM486.2 439.1l4.1 7.2h-8.2zM486.3 443.4l4.1 7.2h-8.2zM441.8 457.6l4.1 7.2h-8.2zM469.8 457.9l4.1 7.2h-8.2zM469.7 450.9l4.1 7.2h-8.2zM464.2 453.4l4.1 7.2h-8.2zM492.3 445l4.1 7.2h-8.2zM458 457.1l4.1 7.2h-8.2zM449.4 461.7l4.1 7.2h-8.2zM445.9 452.1l4.1 7.2h-8.2zM438.6 466.9l4.1 7.2h-8.2zM435.8 459.9l4.1 7.2h-8.2zM480 446.7l4.1 7.2h-8.2zM470.9 450.1l4.1 7.2h-8.2zM477.7 452.8l4.1 7.2h-8.2zM443.5 458.7l4.1 7.2h-8.2zM466.7 448.5l4.1 7.2h-8.2zM499.8 435.6l4.1 7.2h-8.2zM436.5 468.5l4.1 7.2h-8.2zM453.2 459.8l4.1 7.2h-8.2zM422.8 470.3l4.1 7.2h-8.2zM482.2 444.5l4.1 7.2h-8.2zM488.1 438l4.1 7.2h-8.2zM452.2 455.5l4.1 7.2h-8.2zM460.6 450.1l4.1 7.2h-8.2zM464.1 458.3l4.1 7.2h-8.2zM492.8 448.2l4.1 7.2h-8.2zM498.3 440.8l4.1 7.2h-8.2zM475.5 458.8l4.1 7.2h-8.2zM482.5 439.4l4.1 7.2h-8.2zM455.5 458.6l4.1 7.2h-8.2zM475.3 438.9l4.1 7.2h-8.2zM489.4 454.1l4.1 7.2h-8.2zM423.9 471.7l4.1 7.2h-8.2zM456.6 451.9l4.1 7.2h-8.2zM439.9 463.9l4.1 7.2h-8.2zM486.2 439.2l4.1 7.2h-8.2zM489.3 451.6l4.1 7.2h-8.2zM499.6 436.4l4.1 7.2h-8.2zM486.4 438.6l4.1 7.2h-8.2zM469.6 450.9l4.1 7.2h-8.2zM486.1 442.8l4.1 7.2h-8.2zM464 459.2l4.1 7.2h-8.2zM487.4 445.7l4.1 7.2h-8.2zM462.4 448.6l4.1 7.2h-8.2zM494 443.7l4.1 7.2h-8.2zM442.9 457l4.1 7.2h-8.2zM436 466.9l4.1 7.2h-8.2zM472 454.6l4.1 7.2h-8.2zM485.4 441.2l4.1 7.2h-8.2zM454.9 456.6l4.1 7.2h-8.2zM492.1 447.7l4.1 7.2h-8.2zM488 451l4.1 7.2h-8.2zM463 447.7l4.1 7.2h-8.2zM493.1 445.2l4.1 7.2h-8.2zM480.2 450.2l4.1 7.2h-8.2zM448.7 462l4.1 7.2h-8.2zM425.9 469.5l4.1 7.2h-8.2zM422.5 472.8l4.1 7.2h-8.2zM492.2 453.1l4.1 7.2h-8.2zM498 447.7l4.1 7.2h-8.2zM478.7 442.6l4.1 7.2h-8.2zM485.1 444.6l4.1 7.2h-8.2zM432.3 468.9l4.1 7.2h-8.2zM469.8 446.9l4.1 7.2h-8.2zM438.8 459.2l4.1 7.2h-8.2zM498.9 444.4l4.1 7.2h-8.2zM474.9 449.9l4.1 7.2h-8.2zM465.5 453.5l4.1 7.2h-8.2zM463.7 461l4.1 7.2h-8.2zM478.1 455.6l4.1 7.2h-8.2zM445 459.1l4.1 7.2h-8.2zM478.5 450.9l4.1 7.2h-8.2zM492.5 449.3l4.1 7.2h-8.2zM481.1 455.3l4.1 7.2h-8.2zM447 454.7l4.1 7.2h-8.2zM436.2 467l4.1 7.2h-8.2zM476.4 446.9l4.1 7.2h-8.2zM500.2 446.7l4.1 7.2h-8.2zM440.3 465.9l4.1 7.2h-8.2zM469.8 455l4.1 7.2h-8.2zM423.7 470.4l4.1 7.2h-8.2zM452.4 458.2l4.1 7.2h-8.2zM439.1 468l4.1 7.2h-8.2zM492.1 447l4.1 7.2h-8.2zM493 435.4l4.1 7.2h-8.2zM470.9 454.8l4.1 7.2h-8.2zM441.3 454.4l4.1 7.2h-8.2zM436 461l4.1 7.2h-8.2zM485.4 445.5l4.1 7.2h-8.2zM426.5 468.1l4.1 7.2h-8.2zM466.9 446.2l4.1 7.2h-8.2zM478.3 439.5l4.1 7.2h-8.2zM464.5 444.6l4.1 7.2h-8.2zM479.6 442.1l4.1 7.2h-8.2zM488.5 441l4.1 7.2h-8.2zM459.6 458.5l4.1 7.2h-8.2zM468.3 456.7l4.1 7.2h-8.2zM450.7 454.1l4.1 7.2h-8.2zM460.6 460.6l4.1 7.2h-8.2zM469.6 451.2l4.1 7.2h-8.2zM447.6 462.3l4.1 7.2h-8.2zM474.6 446.7l4.1 7.2h-8.2zM465.8 453.1l4.1 7.2h-8.2zM480.2 449.4l4.1 7.2h-8.2zM448.9 454.9l4.1 7.2h-8.2zM495.3 445.3l4.1 7.2h-8.2zM471 443.7l4.1 7.2h-8.2zM459.2 462.7l4.1 7.2h-8.2zM498.8 448.8l4.1 7.2h-8.2zM480.5 442.7l4.1 7.2h-8.2zM428.9 470.8l4.1 7.2h-8.2zM475.8 449l4.1 7.2h-8.2zM500.2 442.4l4.1 7.2h-8.2zM431.4 466.6l4.1 7.2h-8.2zM449.5 464.3l4.1 7.2h-8.2zM492.8 437.2l4.1 7.2h-8.2zM429.2 470.6l4.1 7.2h-8.2zM463.4 450.6l4.1 7.2h-8.2zM500.2 443.5l4.1 7.2h-8.2zM474.2 457.1l4.1 7.2h-8.2zM476.6 447.9l4.1 7.2h-8.2zM429.2 470.3l4.1 7.2h-8.2zM434.2 468.1l4.1 7.2h-8.2zM476.1 448.7l4.1 7.2h-8.2zM459.4 456l4.1 7.2h-8.2zM476.1 454.8l4.1 7.2h-8.2zM461.7 445.5l4.1 7.2h-8.2zM441 463.1l4.1 7.2h-8.2zM454.4 453.9l4.1 7.2h-8.2zM463.4 448.6l4.1 7.2h-8.2zM498.1 433.6l4.1 7.2h-8.2zM427.2 464.7l4.1 7.2h-8.2zM450.1 460.6l4.1 7.2h-8.2zM446.1 462.7l4.1 7.2h-8.2zM489.6 448.8l4.1 7.2h-8.2zM497.6 449.3l4.1 7.2h-8.2zM428.5 469.1l4.1 7.2h-8.2zM455.2 453.3l4.1 7.2h-8.2zM442.5 461.2l4.1 7.2h-8.2zM471.3 451.8l4.1 7.2h-8.2zM484.9 450.3l4.1 7.2h-8.2zM493 450.5l4.1 7.2h-8.2zM494.6 436.5l4.1 7.2h-8.2zM465.1 457.3l4.1 7.2h-8.2zM433.8 463.4l4.1 7.2h-8.2zM480.9 452.9l4.1 7.2h-8.2zM450.3 451.5l4.1 7.2h-8.2zM497 441.5l4.1 7.2h-8.2zM443.6 461.8l4.1 7.2h-8.2zM456.6 454.4l4.1 7.2h-8.2zM490.9 453.4l4.1 7.2h-8.2zM471.9 446.5l4.1 7.2h-8.2zM497 444.1l4.1 7.2h-8.2zM466.4 457.6l4.1 7.2h-8.2zM482.1 452.2l4.1 7.2h-8.2zM447.3 451.6l4.1 7.2h-8.2zM440.5 468.9l4.1 7.2h-8.2z"/></clipPath><path fill="#FF0000" fill-opacity="0.26" clip-path="url(#tc5)" d="M416.6 476.6L427.2 472.6L437.7 468.6L448.3 464.5L458.9 460.4L469.5 456.2L480 451.9L490.6 447.5L501.2 443.1L511.7 438.6L522.3 434.1L532.9 429.5L543.5 424.9L554 420.4L564.6 415.8L575.2 411.2L585.7 406.6L596.3 402L606.9 397.4L617.4 392.8L628 388.3L638.6 383.7L649.2 379.1L659.7 374.5L670.3 369.9L670.3 383.3L659.7 387.2L649.2 391.1L638.6 395L628 399L617.4 402.9L606.9 406.8L596.3 410.7L585.7 414.6L575.2 418.6L564.6 422.5L554 426.4L543.5 430.3L532.9 434.3L522.3 438.3L511.7 442.2L501.2 446.2L490.6 450.3L480 454.4L469.5 458.6L458.9 462.9L448.3 467.3L437.7 471.8L427.2 476.3L416.6 480.8Z"/>
<path stroke="#FF2200" stroke-width="3.0" stroke-linecap="round" d="M416.6 478.7L670.3 376.6"/>
<path fill="#006400" fill-opacity="0.3" d="M410.8 472.1L419.1 469.7L427.4 467.3L435.7 464.9L444 462.4L452.3 459.9L460.6 457.4L468.9 454.9L477.2 452.3L485.5 449.7L493.8 447L502.1 444.4L510.4 441.7L518.7 439L527 436.3L535.3 433.6L543.6 430.9L551.9 428.1L560.2 425.4L568.5 422.7L576.8 419.9L585.1 417.2L593.4 414.4L601.7 411.7L610 408.9L610 416.1L601.7 418.5L593.4 420.8L585.1 423.2L576.8 425.6L568.5 428L560.2 430.4L551.9 432.7L543.6 435.1L535.3 437.5L527 439.9L518.7 442.4L510.4 444.8L502.1 447.2L493.8 449.7L485.5 452.2L477.2 454.7L468.9 457.3L460.6 459.8L452.3 462.5L444 465.1L435.7 467.8L427.4 470.5L419.1 473.2L410.8 475.9Z"/>
<path stroke="#006400" stroke-width="3.0" stroke-linecap="round" d="M410.8 474L610 412.5"/>
</g>
<rect x="398.5" y="364.8" width="284.9" height="122.8" fill="none" stroke="#3a3a3a" stroke-width="1.4"/>
<path d="M407.7 487.6V491.6M473.62 487.6V491.6M539.55 487.6V491.6M605.48 487.6V491.6M671.4 487.6V491.6M394.5 485.4H398.5M394.5 462.68H398.5M394.5 439.96H398.5M394.5 417.24H398.5M394.5 394.52H398.5M394.5 371.8H398.5" stroke="#3a3a3a" stroke-width="1.4" fill="none"/>
<g><text transform="translate(407.7 504.2) scale(1 1.1)" text-anchor="middle">0</text></g>
<g><text transform="translate(473.62 504.2) scale(1 1.1)" text-anchor="middle">200</text></g>
<g><text transform="translate(539.55 504.2) scale(1 1.1)" text-anchor="middle">400</text></g>
<g><text transform="translate(605.48 504.2) scale(1 1.1)" text-anchor="middle">600</text></g>
<g><text transform="translate(671.4 504.2) scale(1 1.1)" text-anchor="middle">800</text></g>
<text transform="translate(390.7 489.8) scale(1 1.1)" text-anchor="end">0</text>
<text transform="translate(390.7 467.08) scale(1 1.1)" text-anchor="end">10</text>
<text transform="translate(390.7 444.36) scale(1 1.1)" text-anchor="end">20</text>
<text transform="translate(390.7 421.64) scale(1 1.1)" text-anchor="end">30</text>
<text transform="translate(390.7 398.92) scale(1 1.1)" text-anchor="end">40</text>
<text transform="translate(390.7 376.2) scale(1 1.1)" text-anchor="end">50</text>
</g>
<text transform="translate(200.5 161.6) scale(1 1.044)" font-size="14.75" text-anchor="middle" fill="#000">SOC (mmol kg<tspan dy="-7" font-size="9.5">−1</tspan><tspan dy="7"> )</tspan></text>
<text transform="translate(542.6 161) scale(1 1.044)" font-size="14.75" text-anchor="middle" fill="#000">C:N</text>
<text transform="translate(202.2 343) scale(1 1.044)" font-size="14.75" text-anchor="middle" fill="#000">SOC (mmol kg<tspan dy="-7" font-size="9.5">−1</tspan><tspan dy="7"> )</tspan></text>
<text transform="translate(541 343) scale(1 1.044)" font-size="14.75" text-anchor="middle" fill="#000">C:N</text>
<text transform="translate(202.2 525.3) scale(1 1.044)" font-size="14.75" text-anchor="middle" fill="#000">N (mmol kg<tspan dy="-7" font-size="9.5">−1</tspan><tspan dy="7"> )</tspan></text>
<text transform="translate(540.9 525) scale(1 1.044)" font-size="14.75" text-anchor="middle" fill="#000">C:P</text>
<text transform="translate(15.3 62.6) rotate(-90) scale(1 1.044)" font-size="14.75" text-anchor="middle" fill="#000">N (mmol kg<tspan dy="-7" font-size="9.5">−1</tspan><tspan dy="7"> )</tspan></text>
<text transform="translate(367 62.6) rotate(-90) scale(1 1.044)" font-size="14.75" text-anchor="middle" fill="#000">C:P</text>
<text transform="translate(15.3 244.5) rotate(-90) scale(1 1.044)" font-size="14.75" text-anchor="middle" fill="#000">P (mmol kg<tspan dy="-7" font-size="9.5">−1</tspan><tspan dy="7"> )</tspan></text>
<text transform="translate(370.7 244.4) rotate(-90) scale(1 1.044)" font-size="14.75" text-anchor="middle" fill="#000">N:P</text>
<text transform="translate(15.3 426.3) rotate(-90) scale(1 1.044)" font-size="14.75" text-anchor="middle" fill="#000">P (mmol kg<tspan dy="-7" font-size="9.5">−1</tspan><tspan dy="7"> )</tspan></text>
<text transform="translate(370.7 426.2) rotate(-90) scale(1 1.044)" font-size="14.75" text-anchor="middle" fill="#000">N:P</text>
<text transform="translate(63.1 20) scale(1 1.0)" font-size="18" text-anchor="start" fill="#111">a<tspan dx="1.8" dy="0.4">)</tspan></text>
<text transform="translate(405.4 20.1) scale(1 1.0)" font-size="18" text-anchor="start" fill="#111">d<tspan dx="1.8" dy="0.4">)</tspan></text>
<text transform="translate(62.5 208.3) scale(1 1.0)" font-size="18" text-anchor="start" fill="#111">b<tspan dx="1.8" dy="0.4">)</tspan></text>
<text transform="translate(402.3 210) scale(1 1.0)" font-size="18" text-anchor="start" fill="#111">e<tspan dx="1.8" dy="0.4">)</tspan></text>
<text transform="translate(66.9 389.8) scale(1 1.0)" font-size="18" text-anchor="start" fill="#111">c<tspan dx="1.8" dy="0.4">)</tspan></text>
<text transform="translate(405.1 389.5) scale(1 1.0)" font-size="18" text-anchor="start" fill="#111">f<tspan dx="1.8" dy="0.4">)</tspan></text></svg>
</body></html>
